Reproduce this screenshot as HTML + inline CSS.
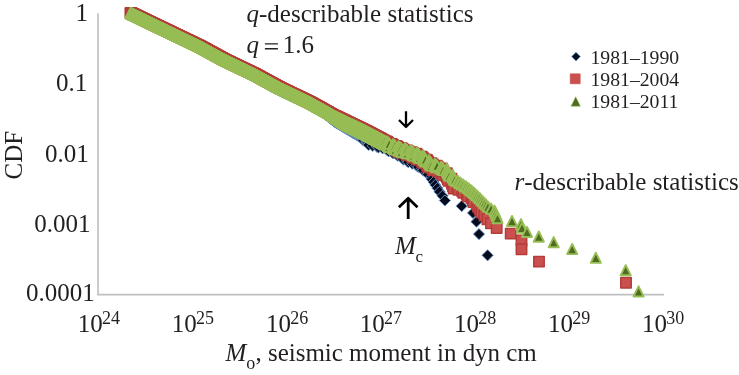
<!DOCTYPE html>
<html><head><meta charset="utf-8"><style>
html,body{margin:0;padding:0;background:#fff;}
svg{display:block;will-change:transform;}
text{font-family:"Liberation Serif",serif;fill:#231f20;}
</style></head><body>
<svg width="739" height="375" viewBox="0 0 739 375">
<path d="M98 13.2V294.6H664" fill="none" stroke="#bfbfbf" stroke-width="1.6"/>
<g fill="#050c1d" stroke="#6b95cf" stroke-width="0.9" stroke-linejoin="round"><path d="M130.5 7.4l5.6 5.6l-5.6 5.6l-5.6 -5.6z"/><path d="M130.8 7.5l5.6 5.6l-5.6 5.6l-5.6 -5.6z"/><path d="M131.1 7.7l5.6 5.6l-5.6 5.6l-5.6 -5.6z"/><path d="M131.3 7.8l5.6 5.6l-5.6 5.6l-5.6 -5.6z"/><path d="M131.6 7.9l5.6 5.6l-5.6 5.6l-5.6 -5.6z"/><path d="M131.9 8.1l5.6 5.6l-5.6 5.6l-5.6 -5.6z"/><path d="M132.2 8.2l5.6 5.6l-5.6 5.6l-5.6 -5.6z"/><path d="M132.5 8.3l5.6 5.6l-5.6 5.6l-5.6 -5.6z"/><path d="M132.7 8.5l5.6 5.6l-5.6 5.6l-5.6 -5.6z"/><path d="M133.0 8.6l5.6 5.6l-5.6 5.6l-5.6 -5.6z"/><path d="M133.3 8.8l5.6 5.6l-5.6 5.6l-5.6 -5.6z"/><path d="M133.6 8.9l5.6 5.6l-5.6 5.6l-5.6 -5.6z"/><path d="M133.9 9.0l5.6 5.6l-5.6 5.6l-5.6 -5.6z"/><path d="M134.2 9.2l5.6 5.6l-5.6 5.6l-5.6 -5.6z"/><path d="M134.5 9.3l5.6 5.6l-5.6 5.6l-5.6 -5.6z"/><path d="M134.8 9.5l5.6 5.6l-5.6 5.6l-5.6 -5.6z"/><path d="M135.0 9.6l5.6 5.6l-5.6 5.6l-5.6 -5.6z"/><path d="M135.3 9.7l5.6 5.6l-5.6 5.6l-5.6 -5.6z"/><path d="M135.6 9.8l5.6 5.6l-5.6 5.6l-5.6 -5.6z"/><path d="M135.9 10.0l5.6 5.6l-5.6 5.6l-5.6 -5.6z"/><path d="M136.1 10.1l5.6 5.6l-5.6 5.6l-5.6 -5.6z"/><path d="M136.4 10.2l5.6 5.6l-5.6 5.6l-5.6 -5.6z"/><path d="M136.7 10.4l5.6 5.6l-5.6 5.6l-5.6 -5.6z"/><path d="M137.0 10.5l5.6 5.6l-5.6 5.6l-5.6 -5.6z"/><path d="M137.3 10.6l5.6 5.6l-5.6 5.6l-5.6 -5.6z"/><path d="M137.5 10.8l5.6 5.6l-5.6 5.6l-5.6 -5.6z"/><path d="M137.8 10.9l5.6 5.6l-5.6 5.6l-5.6 -5.6z"/><path d="M138.1 11.1l5.6 5.6l-5.6 5.6l-5.6 -5.6z"/><path d="M138.4 11.2l5.6 5.6l-5.6 5.6l-5.6 -5.6z"/><path d="M138.7 11.3l5.6 5.6l-5.6 5.6l-5.6 -5.6z"/><path d="M139.0 11.5l5.6 5.6l-5.6 5.6l-5.6 -5.6z"/><path d="M139.3 11.6l5.6 5.6l-5.6 5.6l-5.6 -5.6z"/><path d="M139.5 11.8l5.6 5.6l-5.6 5.6l-5.6 -5.6z"/><path d="M139.8 11.9l5.6 5.6l-5.6 5.6l-5.6 -5.6z"/><path d="M140.1 12.0l5.6 5.6l-5.6 5.6l-5.6 -5.6z"/><path d="M140.4 12.2l5.6 5.6l-5.6 5.6l-5.6 -5.6z"/><path d="M140.7 12.3l5.6 5.6l-5.6 5.6l-5.6 -5.6z"/><path d="M141.0 12.4l5.6 5.6l-5.6 5.6l-5.6 -5.6z"/><path d="M141.3 12.6l5.6 5.6l-5.6 5.6l-5.6 -5.6z"/><path d="M141.5 12.7l5.6 5.6l-5.6 5.6l-5.6 -5.6z"/><path d="M141.8 12.8l5.6 5.6l-5.6 5.6l-5.6 -5.6z"/><path d="M142.1 13.0l5.6 5.6l-5.6 5.6l-5.6 -5.6z"/><path d="M142.4 13.1l5.6 5.6l-5.6 5.6l-5.6 -5.6z"/><path d="M142.6 13.2l5.6 5.6l-5.6 5.6l-5.6 -5.6z"/><path d="M142.9 13.4l5.6 5.6l-5.6 5.6l-5.6 -5.6z"/><path d="M143.2 13.5l5.6 5.6l-5.6 5.6l-5.6 -5.6z"/><path d="M143.5 13.6l5.6 5.6l-5.6 5.6l-5.6 -5.6z"/><path d="M143.8 13.8l5.6 5.6l-5.6 5.6l-5.6 -5.6z"/><path d="M144.0 13.9l5.6 5.6l-5.6 5.6l-5.6 -5.6z"/><path d="M144.3 14.1l5.6 5.6l-5.6 5.6l-5.6 -5.6z"/><path d="M144.6 14.2l5.6 5.6l-5.6 5.6l-5.6 -5.6z"/><path d="M144.9 14.3l5.6 5.6l-5.6 5.6l-5.6 -5.6z"/><path d="M145.2 14.5l5.6 5.6l-5.6 5.6l-5.6 -5.6z"/><path d="M145.5 14.6l5.6 5.6l-5.6 5.6l-5.6 -5.6z"/><path d="M145.8 14.7l5.6 5.6l-5.6 5.6l-5.6 -5.6z"/><path d="M146.1 14.9l5.6 5.6l-5.6 5.6l-5.6 -5.6z"/><path d="M146.4 15.0l5.6 5.6l-5.6 5.6l-5.6 -5.6z"/><path d="M146.7 15.2l5.6 5.6l-5.6 5.6l-5.6 -5.6z"/><path d="M147.0 15.3l5.6 5.6l-5.6 5.6l-5.6 -5.6z"/><path d="M147.3 15.5l5.6 5.6l-5.6 5.6l-5.6 -5.6z"/><path d="M147.5 15.6l5.6 5.6l-5.6 5.6l-5.6 -5.6z"/><path d="M147.8 15.7l5.6 5.6l-5.6 5.6l-5.6 -5.6z"/><path d="M148.1 15.9l5.6 5.6l-5.6 5.6l-5.6 -5.6z"/><path d="M148.4 16.0l5.6 5.6l-5.6 5.6l-5.6 -5.6z"/><path d="M148.6 16.1l5.6 5.6l-5.6 5.6l-5.6 -5.6z"/><path d="M148.9 16.3l5.6 5.6l-5.6 5.6l-5.6 -5.6z"/><path d="M149.2 16.4l5.6 5.6l-5.6 5.6l-5.6 -5.6z"/><path d="M149.5 16.5l5.6 5.6l-5.6 5.6l-5.6 -5.6z"/><path d="M149.8 16.7l5.6 5.6l-5.6 5.6l-5.6 -5.6z"/><path d="M150.0 16.8l5.6 5.6l-5.6 5.6l-5.6 -5.6z"/><path d="M150.3 16.9l5.6 5.6l-5.6 5.6l-5.6 -5.6z"/><path d="M150.6 17.1l5.6 5.6l-5.6 5.6l-5.6 -5.6z"/><path d="M150.9 17.2l5.6 5.6l-5.6 5.6l-5.6 -5.6z"/><path d="M151.2 17.3l5.6 5.6l-5.6 5.6l-5.6 -5.6z"/><path d="M151.5 17.5l5.6 5.6l-5.6 5.6l-5.6 -5.6z"/><path d="M151.7 17.6l5.6 5.6l-5.6 5.6l-5.6 -5.6z"/><path d="M152.0 17.8l5.6 5.6l-5.6 5.6l-5.6 -5.6z"/><path d="M152.3 17.9l5.6 5.6l-5.6 5.6l-5.6 -5.6z"/><path d="M152.6 18.0l5.6 5.6l-5.6 5.6l-5.6 -5.6z"/><path d="M152.9 18.2l5.6 5.6l-5.6 5.6l-5.6 -5.6z"/><path d="M153.2 18.3l5.6 5.6l-5.6 5.6l-5.6 -5.6z"/><path d="M153.5 18.5l5.6 5.6l-5.6 5.6l-5.6 -5.6z"/><path d="M153.8 18.6l5.6 5.6l-5.6 5.6l-5.6 -5.6z"/><path d="M154.1 18.7l5.6 5.6l-5.6 5.6l-5.6 -5.6z"/><path d="M154.4 18.9l5.6 5.6l-5.6 5.6l-5.6 -5.6z"/><path d="M154.7 19.0l5.6 5.6l-5.6 5.6l-5.6 -5.6z"/><path d="M155.0 19.2l5.6 5.6l-5.6 5.6l-5.6 -5.6z"/><path d="M155.3 19.3l5.6 5.6l-5.6 5.6l-5.6 -5.6z"/><path d="M155.5 19.4l5.6 5.6l-5.6 5.6l-5.6 -5.6z"/><path d="M155.8 19.6l5.6 5.6l-5.6 5.6l-5.6 -5.6z"/><path d="M156.1 19.7l5.6 5.6l-5.6 5.6l-5.6 -5.6z"/><path d="M156.4 19.8l5.6 5.6l-5.6 5.6l-5.6 -5.6z"/><path d="M156.6 20.0l5.6 5.6l-5.6 5.6l-5.6 -5.6z"/><path d="M156.9 20.1l5.6 5.6l-5.6 5.6l-5.6 -5.6z"/><path d="M157.2 20.2l5.6 5.6l-5.6 5.6l-5.6 -5.6z"/><path d="M157.5 20.4l5.6 5.6l-5.6 5.6l-5.6 -5.6z"/><path d="M157.8 20.5l5.6 5.6l-5.6 5.6l-5.6 -5.6z"/><path d="M158.0 20.6l5.6 5.6l-5.6 5.6l-5.6 -5.6z"/><path d="M158.3 20.8l5.6 5.6l-5.6 5.6l-5.6 -5.6z"/><path d="M158.6 20.9l5.6 5.6l-5.6 5.6l-5.6 -5.6z"/><path d="M158.9 21.1l5.6 5.6l-5.6 5.6l-5.6 -5.6z"/><path d="M159.2 21.2l5.6 5.6l-5.6 5.6l-5.6 -5.6z"/><path d="M159.5 21.3l5.6 5.6l-5.6 5.6l-5.6 -5.6z"/><path d="M159.8 21.5l5.6 5.6l-5.6 5.6l-5.6 -5.6z"/><path d="M160.1 21.6l5.6 5.6l-5.6 5.6l-5.6 -5.6z"/><path d="M160.4 21.8l5.6 5.6l-5.6 5.6l-5.6 -5.6z"/><path d="M160.6 21.9l5.6 5.6l-5.6 5.6l-5.6 -5.6z"/><path d="M160.9 22.0l5.6 5.6l-5.6 5.6l-5.6 -5.6z"/><path d="M161.2 22.2l5.6 5.6l-5.6 5.6l-5.6 -5.6z"/><path d="M161.5 22.3l5.6 5.6l-5.6 5.6l-5.6 -5.6z"/><path d="M161.8 22.5l5.6 5.6l-5.6 5.6l-5.6 -5.6z"/><path d="M162.1 22.6l5.6 5.6l-5.6 5.6l-5.6 -5.6z"/><path d="M162.4 22.8l5.6 5.6l-5.6 5.6l-5.6 -5.6z"/><path d="M162.7 22.9l5.6 5.6l-5.6 5.6l-5.6 -5.6z"/><path d="M163.1 23.1l5.6 5.6l-5.6 5.6l-5.6 -5.6z"/><path d="M163.4 23.2l5.6 5.6l-5.6 5.6l-5.6 -5.6z"/><path d="M163.7 23.4l5.6 5.6l-5.6 5.6l-5.6 -5.6z"/><path d="M163.9 23.5l5.6 5.6l-5.6 5.6l-5.6 -5.6z"/><path d="M164.2 23.6l5.6 5.6l-5.6 5.6l-5.6 -5.6z"/><path d="M164.5 23.7l5.6 5.6l-5.6 5.6l-5.6 -5.6z"/><path d="M164.8 23.9l5.6 5.6l-5.6 5.6l-5.6 -5.6z"/><path d="M165.0 24.0l5.6 5.6l-5.6 5.6l-5.6 -5.6z"/><path d="M165.3 24.1l5.6 5.6l-5.6 5.6l-5.6 -5.6z"/><path d="M165.6 24.3l5.6 5.6l-5.6 5.6l-5.6 -5.6z"/><path d="M165.9 24.4l5.6 5.6l-5.6 5.6l-5.6 -5.6z"/><path d="M166.2 24.6l5.6 5.6l-5.6 5.6l-5.6 -5.6z"/><path d="M166.4 24.7l5.6 5.6l-5.6 5.6l-5.6 -5.6z"/><path d="M166.7 24.8l5.6 5.6l-5.6 5.6l-5.6 -5.6z"/><path d="M167.0 25.0l5.6 5.6l-5.6 5.6l-5.6 -5.6z"/><path d="M167.3 25.1l5.6 5.6l-5.6 5.6l-5.6 -5.6z"/><path d="M167.6 25.2l5.6 5.6l-5.6 5.6l-5.6 -5.6z"/><path d="M167.9 25.4l5.6 5.6l-5.6 5.6l-5.6 -5.6z"/><path d="M168.2 25.5l5.6 5.6l-5.6 5.6l-5.6 -5.6z"/><path d="M168.5 25.7l5.6 5.6l-5.6 5.6l-5.6 -5.6z"/><path d="M168.7 25.8l5.6 5.6l-5.6 5.6l-5.6 -5.6z"/><path d="M169.0 25.9l5.6 5.6l-5.6 5.6l-5.6 -5.6z"/><path d="M169.3 26.1l5.6 5.6l-5.6 5.6l-5.6 -5.6z"/><path d="M169.6 26.2l5.6 5.6l-5.6 5.6l-5.6 -5.6z"/><path d="M169.9 26.4l5.6 5.6l-5.6 5.6l-5.6 -5.6z"/><path d="M170.2 26.5l5.6 5.6l-5.6 5.6l-5.6 -5.6z"/><path d="M170.5 26.7l5.6 5.6l-5.6 5.6l-5.6 -5.6z"/><path d="M170.8 26.8l5.6 5.6l-5.6 5.6l-5.6 -5.6z"/><path d="M171.1 26.9l5.6 5.6l-5.6 5.6l-5.6 -5.6z"/><path d="M171.4 27.1l5.6 5.6l-5.6 5.6l-5.6 -5.6z"/><path d="M171.8 27.2l5.6 5.6l-5.6 5.6l-5.6 -5.6z"/><path d="M172.1 27.4l5.6 5.6l-5.6 5.6l-5.6 -5.6z"/><path d="M172.4 27.5l5.6 5.6l-5.6 5.6l-5.6 -5.6z"/><path d="M172.7 27.7l5.6 5.6l-5.6 5.6l-5.6 -5.6z"/><path d="M173.0 27.8l5.6 5.6l-5.6 5.6l-5.6 -5.6z"/><path d="M173.3 28.0l5.6 5.6l-5.6 5.6l-5.6 -5.6z"/><path d="M173.6 28.1l5.6 5.6l-5.6 5.6l-5.6 -5.6z"/><path d="M173.9 28.3l5.6 5.6l-5.6 5.6l-5.6 -5.6z"/><path d="M174.1 28.4l5.6 5.6l-5.6 5.6l-5.6 -5.6z"/><path d="M174.4 28.5l5.6 5.6l-5.6 5.6l-5.6 -5.6z"/><path d="M174.7 28.6l5.6 5.6l-5.6 5.6l-5.6 -5.6z"/><path d="M175.0 28.8l5.6 5.6l-5.6 5.6l-5.6 -5.6z"/><path d="M175.2 28.9l5.6 5.6l-5.6 5.6l-5.6 -5.6z"/><path d="M175.5 29.0l5.6 5.6l-5.6 5.6l-5.6 -5.6z"/><path d="M175.8 29.2l5.6 5.6l-5.6 5.6l-5.6 -5.6z"/><path d="M176.1 29.3l5.6 5.6l-5.6 5.6l-5.6 -5.6z"/><path d="M176.4 29.5l5.6 5.6l-5.6 5.6l-5.6 -5.6z"/><path d="M176.7 29.6l5.6 5.6l-5.6 5.6l-5.6 -5.6z"/><path d="M176.9 29.7l5.6 5.6l-5.6 5.6l-5.6 -5.6z"/><path d="M177.2 29.9l5.6 5.6l-5.6 5.6l-5.6 -5.6z"/><path d="M177.5 30.0l5.6 5.6l-5.6 5.6l-5.6 -5.6z"/><path d="M177.8 30.1l5.6 5.6l-5.6 5.6l-5.6 -5.6z"/><path d="M178.1 30.3l5.6 5.6l-5.6 5.6l-5.6 -5.6z"/><path d="M178.4 30.4l5.6 5.6l-5.6 5.6l-5.6 -5.6z"/><path d="M178.7 30.6l5.6 5.6l-5.6 5.6l-5.6 -5.6z"/><path d="M179.0 30.7l5.6 5.6l-5.6 5.6l-5.6 -5.6z"/><path d="M179.3 30.9l5.6 5.6l-5.6 5.6l-5.6 -5.6z"/><path d="M179.6 31.0l5.6 5.6l-5.6 5.6l-5.6 -5.6z"/><path d="M179.9 31.1l5.6 5.6l-5.6 5.6l-5.6 -5.6z"/><path d="M180.2 31.3l5.6 5.6l-5.6 5.6l-5.6 -5.6z"/><path d="M180.5 31.4l5.6 5.6l-5.6 5.6l-5.6 -5.6z"/><path d="M180.8 31.6l5.6 5.6l-5.6 5.6l-5.6 -5.6z"/><path d="M181.1 31.7l5.6 5.6l-5.6 5.6l-5.6 -5.6z"/><path d="M181.4 31.9l5.6 5.6l-5.6 5.6l-5.6 -5.6z"/><path d="M181.7 32.0l5.6 5.6l-5.6 5.6l-5.6 -5.6z"/><path d="M182.0 32.2l5.6 5.6l-5.6 5.6l-5.6 -5.6z"/><path d="M182.3 32.3l5.6 5.6l-5.6 5.6l-5.6 -5.6z"/><path d="M182.6 32.5l5.6 5.6l-5.6 5.6l-5.6 -5.6z"/><path d="M182.9 32.6l5.6 5.6l-5.6 5.6l-5.6 -5.6z"/><path d="M183.3 32.8l5.6 5.6l-5.6 5.6l-5.6 -5.6z"/><path d="M183.6 32.9l5.6 5.6l-5.6 5.6l-5.6 -5.6z"/><path d="M183.9 33.1l5.6 5.6l-5.6 5.6l-5.6 -5.6z"/><path d="M184.2 33.2l5.6 5.6l-5.6 5.6l-5.6 -5.6z"/><path d="M184.5 33.4l5.6 5.6l-5.6 5.6l-5.6 -5.6z"/><path d="M184.9 33.5l5.6 5.6l-5.6 5.6l-5.6 -5.6z"/><path d="M185.1 33.7l5.6 5.6l-5.6 5.6l-5.6 -5.6z"/><path d="M185.4 33.8l5.6 5.6l-5.6 5.6l-5.6 -5.6z"/><path d="M185.7 33.9l5.6 5.6l-5.6 5.6l-5.6 -5.6z"/><path d="M186.0 34.1l5.6 5.6l-5.6 5.6l-5.6 -5.6z"/><path d="M186.2 34.2l5.6 5.6l-5.6 5.6l-5.6 -5.6z"/><path d="M186.5 34.3l5.6 5.6l-5.6 5.6l-5.6 -5.6z"/><path d="M186.8 34.5l5.6 5.6l-5.6 5.6l-5.6 -5.6z"/><path d="M187.1 34.6l5.6 5.6l-5.6 5.6l-5.6 -5.6z"/><path d="M187.3 34.7l5.6 5.6l-5.6 5.6l-5.6 -5.6z"/><path d="M187.6 34.9l5.6 5.6l-5.6 5.6l-5.6 -5.6z"/><path d="M187.9 35.0l5.6 5.6l-5.6 5.6l-5.6 -5.6z"/><path d="M188.2 35.1l5.6 5.6l-5.6 5.6l-5.6 -5.6z"/><path d="M188.5 35.3l5.6 5.6l-5.6 5.6l-5.6 -5.6z"/><path d="M188.8 35.4l5.6 5.6l-5.6 5.6l-5.6 -5.6z"/><path d="M189.1 35.5l5.6 5.6l-5.6 5.6l-5.6 -5.6z"/><path d="M189.3 35.7l5.6 5.6l-5.6 5.6l-5.6 -5.6z"/><path d="M189.6 35.8l5.6 5.6l-5.6 5.6l-5.6 -5.6z"/><path d="M189.9 36.0l5.6 5.6l-5.6 5.6l-5.6 -5.6z"/><path d="M190.2 36.1l5.6 5.6l-5.6 5.6l-5.6 -5.6z"/><path d="M190.5 36.2l5.6 5.6l-5.6 5.6l-5.6 -5.6z"/><path d="M190.8 36.4l5.6 5.6l-5.6 5.6l-5.6 -5.6z"/><path d="M191.1 36.5l5.6 5.6l-5.6 5.6l-5.6 -5.6z"/><path d="M191.4 36.7l5.6 5.6l-5.6 5.6l-5.6 -5.6z"/><path d="M191.7 36.8l5.6 5.6l-5.6 5.6l-5.6 -5.6z"/><path d="M192.0 37.0l5.6 5.6l-5.6 5.6l-5.6 -5.6z"/><path d="M192.3 37.1l5.6 5.6l-5.6 5.6l-5.6 -5.6z"/><path d="M192.6 37.3l5.6 5.6l-5.6 5.6l-5.6 -5.6z"/><path d="M192.9 37.4l5.6 5.6l-5.6 5.6l-5.6 -5.6z"/><path d="M193.2 37.6l5.6 5.6l-5.6 5.6l-5.6 -5.6z"/><path d="M193.5 37.7l5.6 5.6l-5.6 5.6l-5.6 -5.6z"/><path d="M193.9 37.9l5.6 5.6l-5.6 5.6l-5.6 -5.6z"/><path d="M194.2 38.0l5.6 5.6l-5.6 5.6l-5.6 -5.6z"/><path d="M194.5 38.2l5.6 5.6l-5.6 5.6l-5.6 -5.6z"/><path d="M194.8 38.3l5.6 5.6l-5.6 5.6l-5.6 -5.6z"/><path d="M195.1 38.5l5.6 5.6l-5.6 5.6l-5.6 -5.6z"/><path d="M195.4 38.6l5.6 5.6l-5.6 5.6l-5.6 -5.6z"/><path d="M195.8 38.8l5.6 5.6l-5.6 5.6l-5.6 -5.6z"/><path d="M196.1 38.9l5.6 5.6l-5.6 5.6l-5.6 -5.6z"/><path d="M196.4 39.1l5.6 5.6l-5.6 5.6l-5.6 -5.6z"/><path d="M196.7 39.2l5.6 5.6l-5.6 5.6l-5.6 -5.6z"/><path d="M197.1 39.4l5.6 5.6l-5.6 5.6l-5.6 -5.6z"/><path d="M197.4 39.5l5.6 5.6l-5.6 5.6l-5.6 -5.6z"/><path d="M197.7 39.7l5.6 5.6l-5.6 5.6l-5.6 -5.6z"/><path d="M198.0 39.9l5.6 5.6l-5.6 5.6l-5.6 -5.6z"/><path d="M198.4 40.0l5.6 5.6l-5.6 5.6l-5.6 -5.6z"/><path d="M198.7 40.2l5.6 5.6l-5.6 5.6l-5.6 -5.6z"/><path d="M199.1 40.3l5.6 5.6l-5.6 5.6l-5.6 -5.6z"/><path d="M199.3 40.5l5.6 5.6l-5.6 5.6l-5.6 -5.6z"/><path d="M199.6 40.6l5.6 5.6l-5.6 5.6l-5.6 -5.6z"/><path d="M199.9 40.7l5.6 5.6l-5.6 5.6l-5.6 -5.6z"/><path d="M200.2 40.9l5.6 5.6l-5.6 5.6l-5.6 -5.6z"/><path d="M200.5 41.1l5.6 5.6l-5.6 5.6l-5.6 -5.6z"/><path d="M200.8 41.2l5.6 5.6l-5.6 5.6l-5.6 -5.6z"/><path d="M201.1 41.4l5.6 5.6l-5.6 5.6l-5.6 -5.6z"/><path d="M201.4 41.6l5.6 5.6l-5.6 5.6l-5.6 -5.6z"/><path d="M201.7 41.7l5.6 5.6l-5.6 5.6l-5.6 -5.6z"/><path d="M202.0 41.9l5.6 5.6l-5.6 5.6l-5.6 -5.6z"/><path d="M202.4 42.1l5.6 5.6l-5.6 5.6l-5.6 -5.6z"/><path d="M202.7 42.3l5.6 5.6l-5.6 5.6l-5.6 -5.6z"/><path d="M203.0 42.4l5.6 5.6l-5.6 5.6l-5.6 -5.6z"/><path d="M203.3 42.6l5.6 5.6l-5.6 5.6l-5.6 -5.6z"/><path d="M203.6 42.8l5.6 5.6l-5.6 5.6l-5.6 -5.6z"/><path d="M204.0 43.0l5.6 5.6l-5.6 5.6l-5.6 -5.6z"/><path d="M204.3 43.1l5.6 5.6l-5.6 5.6l-5.6 -5.6z"/><path d="M204.6 43.3l5.6 5.6l-5.6 5.6l-5.6 -5.6z"/><path d="M204.9 43.5l5.6 5.6l-5.6 5.6l-5.6 -5.6z"/><path d="M205.1 43.6l5.6 5.6l-5.6 5.6l-5.6 -5.6z"/><path d="M205.4 43.7l5.6 5.6l-5.6 5.6l-5.6 -5.6z"/><path d="M205.7 43.9l5.6 5.6l-5.6 5.6l-5.6 -5.6z"/><path d="M205.9 44.0l5.6 5.6l-5.6 5.6l-5.6 -5.6z"/><path d="M206.2 44.2l5.6 5.6l-5.6 5.6l-5.6 -5.6z"/><path d="M206.5 44.3l5.6 5.6l-5.6 5.6l-5.6 -5.6z"/><path d="M206.8 44.5l5.6 5.6l-5.6 5.6l-5.6 -5.6z"/><path d="M207.0 44.6l5.6 5.6l-5.6 5.6l-5.6 -5.6z"/><path d="M207.3 44.8l5.6 5.6l-5.6 5.6l-5.6 -5.6z"/><path d="M207.6 44.9l5.6 5.6l-5.6 5.6l-5.6 -5.6z"/><path d="M207.9 45.1l5.6 5.6l-5.6 5.6l-5.6 -5.6z"/><path d="M208.1 45.2l5.6 5.6l-5.6 5.6l-5.6 -5.6z"/><path d="M208.4 45.4l5.6 5.6l-5.6 5.6l-5.6 -5.6z"/><path d="M208.7 45.5l5.6 5.6l-5.6 5.6l-5.6 -5.6z"/><path d="M209.0 45.7l5.6 5.6l-5.6 5.6l-5.6 -5.6z"/><path d="M209.3 45.8l5.6 5.6l-5.6 5.6l-5.6 -5.6z"/><path d="M209.6 46.0l5.6 5.6l-5.6 5.6l-5.6 -5.6z"/><path d="M209.8 46.2l5.6 5.6l-5.6 5.6l-5.6 -5.6z"/><path d="M210.1 46.3l5.6 5.6l-5.6 5.6l-5.6 -5.6z"/><path d="M210.4 46.5l5.6 5.6l-5.6 5.6l-5.6 -5.6z"/><path d="M210.7 46.6l5.6 5.6l-5.6 5.6l-5.6 -5.6z"/><path d="M211.0 46.8l5.6 5.6l-5.6 5.6l-5.6 -5.6z"/><path d="M211.3 46.9l5.6 5.6l-5.6 5.6l-5.6 -5.6z"/><path d="M211.6 47.1l5.6 5.6l-5.6 5.6l-5.6 -5.6z"/><path d="M211.9 47.3l5.6 5.6l-5.6 5.6l-5.6 -5.6z"/><path d="M212.2 47.4l5.6 5.6l-5.6 5.6l-5.6 -5.6z"/><path d="M212.5 47.6l5.6 5.6l-5.6 5.6l-5.6 -5.6z"/><path d="M212.8 47.8l5.6 5.6l-5.6 5.6l-5.6 -5.6z"/><path d="M213.1 47.9l5.6 5.6l-5.6 5.6l-5.6 -5.6z"/><path d="M213.4 48.1l5.6 5.6l-5.6 5.6l-5.6 -5.6z"/><path d="M213.7 48.3l5.6 5.6l-5.6 5.6l-5.6 -5.6z"/><path d="M214.0 48.4l5.6 5.6l-5.6 5.6l-5.6 -5.6z"/><path d="M214.3 48.6l5.6 5.6l-5.6 5.6l-5.6 -5.6z"/><path d="M214.7 48.8l5.6 5.6l-5.6 5.6l-5.6 -5.6z"/><path d="M215.0 48.9l5.6 5.6l-5.6 5.6l-5.6 -5.6z"/><path d="M215.3 49.1l5.6 5.6l-5.6 5.6l-5.6 -5.6z"/><path d="M215.6 49.3l5.6 5.6l-5.6 5.6l-5.6 -5.6z"/><path d="M215.9 49.5l5.6 5.6l-5.6 5.6l-5.6 -5.6z"/><path d="M216.3 49.6l5.6 5.6l-5.6 5.6l-5.6 -5.6z"/><path d="M216.6 49.8l5.6 5.6l-5.6 5.6l-5.6 -5.6z"/><path d="M216.9 50.0l5.6 5.6l-5.6 5.6l-5.6 -5.6z"/><path d="M217.2 50.2l5.6 5.6l-5.6 5.6l-5.6 -5.6z"/><path d="M217.6 50.4l5.6 5.6l-5.6 5.6l-5.6 -5.6z"/><path d="M217.9 50.5l5.6 5.6l-5.6 5.6l-5.6 -5.6z"/><path d="M218.2 50.7l5.6 5.6l-5.6 5.6l-5.6 -5.6z"/><path d="M218.6 50.9l5.6 5.6l-5.6 5.6l-5.6 -5.6z"/><path d="M218.9 51.1l5.6 5.6l-5.6 5.6l-5.6 -5.6z"/><path d="M219.2 51.3l5.6 5.6l-5.6 5.6l-5.6 -5.6z"/><path d="M219.6 51.5l5.6 5.6l-5.6 5.6l-5.6 -5.6z"/><path d="M219.9 51.6l5.6 5.6l-5.6 5.6l-5.6 -5.6z"/><path d="M220.3 51.8l5.6 5.6l-5.6 5.6l-5.6 -5.6z"/><path d="M220.6 52.0l5.6 5.6l-5.6 5.6l-5.6 -5.6z"/><path d="M221.0 52.2l5.6 5.6l-5.6 5.6l-5.6 -5.6z"/><path d="M221.2 52.4l5.6 5.6l-5.6 5.6l-5.6 -5.6z"/><path d="M221.5 52.5l5.6 5.6l-5.6 5.6l-5.6 -5.6z"/><path d="M221.8 52.6l5.6 5.6l-5.6 5.6l-5.6 -5.6z"/><path d="M222.0 52.8l5.6 5.6l-5.6 5.6l-5.6 -5.6z"/><path d="M222.3 52.9l5.6 5.6l-5.6 5.6l-5.6 -5.6z"/><path d="M222.6 53.1l5.6 5.6l-5.6 5.6l-5.6 -5.6z"/><path d="M222.9 53.2l5.6 5.6l-5.6 5.6l-5.6 -5.6z"/><path d="M223.1 53.4l5.6 5.6l-5.6 5.6l-5.6 -5.6z"/><path d="M223.4 53.5l5.6 5.6l-5.6 5.6l-5.6 -5.6z"/><path d="M223.7 53.7l5.6 5.6l-5.6 5.6l-5.6 -5.6z"/><path d="M224.0 53.8l5.6 5.6l-5.6 5.6l-5.6 -5.6z"/><path d="M224.2 54.0l5.6 5.6l-5.6 5.6l-5.6 -5.6z"/><path d="M224.5 54.1l5.6 5.6l-5.6 5.6l-5.6 -5.6z"/><path d="M224.8 54.3l5.6 5.6l-5.6 5.6l-5.6 -5.6z"/><path d="M225.1 54.4l5.6 5.6l-5.6 5.6l-5.6 -5.6z"/><path d="M225.4 54.6l5.6 5.6l-5.6 5.6l-5.6 -5.6z"/><path d="M225.7 54.8l5.6 5.6l-5.6 5.6l-5.6 -5.6z"/><path d="M226.1 54.9l5.6 5.6l-5.6 5.6l-5.6 -5.6z"/><path d="M226.4 55.1l5.6 5.6l-5.6 5.6l-5.6 -5.6z"/><path d="M226.7 55.2l5.6 5.6l-5.6 5.6l-5.6 -5.6z"/><path d="M227.0 55.4l5.6 5.6l-5.6 5.6l-5.6 -5.6z"/><path d="M227.4 55.5l5.6 5.6l-5.6 5.6l-5.6 -5.6z"/><path d="M227.7 55.7l5.6 5.6l-5.6 5.6l-5.6 -5.6z"/><path d="M228.1 55.9l5.6 5.6l-5.6 5.6l-5.6 -5.6z"/><path d="M228.4 56.0l5.6 5.6l-5.6 5.6l-5.6 -5.6z"/><path d="M228.7 56.2l5.6 5.6l-5.6 5.6l-5.6 -5.6z"/><path d="M229.1 56.4l5.6 5.6l-5.6 5.6l-5.6 -5.6z"/><path d="M229.4 56.5l5.6 5.6l-5.6 5.6l-5.6 -5.6z"/><path d="M229.8 56.7l5.6 5.6l-5.6 5.6l-5.6 -5.6z"/><path d="M230.1 56.9l5.6 5.6l-5.6 5.6l-5.6 -5.6z"/><path d="M230.5 57.0l5.6 5.6l-5.6 5.6l-5.6 -5.6z"/><path d="M230.8 57.2l5.6 5.6l-5.6 5.6l-5.6 -5.6z"/><path d="M231.2 57.4l5.6 5.6l-5.6 5.6l-5.6 -5.6z"/><path d="M231.5 57.5l5.6 5.6l-5.6 5.6l-5.6 -5.6z"/><path d="M231.9 57.7l5.6 5.6l-5.6 5.6l-5.6 -5.6z"/><path d="M232.2 57.9l5.6 5.6l-5.6 5.6l-5.6 -5.6z"/><path d="M232.6 58.0l5.6 5.6l-5.6 5.6l-5.6 -5.6z"/><path d="M233.0 58.2l5.6 5.6l-5.6 5.6l-5.6 -5.6z"/><path d="M233.3 58.4l5.6 5.6l-5.6 5.6l-5.6 -5.6z"/><path d="M233.7 58.6l5.6 5.6l-5.6 5.6l-5.6 -5.6z"/><path d="M234.1 58.7l5.6 5.6l-5.6 5.6l-5.6 -5.6z"/><path d="M234.4 58.9l5.6 5.6l-5.6 5.6l-5.6 -5.6z"/><path d="M234.8 59.1l5.6 5.6l-5.6 5.6l-5.6 -5.6z"/><path d="M235.2 59.3l5.6 5.6l-5.6 5.6l-5.6 -5.6z"/><path d="M235.6 59.5l5.6 5.6l-5.6 5.6l-5.6 -5.6z"/><path d="M235.9 59.6l5.6 5.6l-5.6 5.6l-5.6 -5.6z"/><path d="M236.3 59.8l5.6 5.6l-5.6 5.6l-5.6 -5.6z"/><path d="M236.7 60.0l5.6 5.6l-5.6 5.6l-5.6 -5.6z"/><path d="M237.1 60.2l5.6 5.6l-5.6 5.6l-5.6 -5.6z"/><path d="M237.5 60.4l5.6 5.6l-5.6 5.6l-5.6 -5.6z"/><path d="M237.9 60.6l5.6 5.6l-5.6 5.6l-5.6 -5.6z"/><path d="M238.3 60.8l5.6 5.6l-5.6 5.6l-5.6 -5.6z"/><path d="M238.7 61.0l5.6 5.6l-5.6 5.6l-5.6 -5.6z"/><path d="M239.1 61.1l5.6 5.6l-5.6 5.6l-5.6 -5.6z"/><path d="M239.5 61.3l5.6 5.6l-5.6 5.6l-5.6 -5.6z"/><path d="M239.9 61.5l5.6 5.6l-5.6 5.6l-5.6 -5.6z"/><path d="M240.1 61.7l5.6 5.6l-5.6 5.6l-5.6 -5.6z"/><path d="M240.4 61.8l5.6 5.6l-5.6 5.6l-5.6 -5.6z"/><path d="M240.7 61.9l5.6 5.6l-5.6 5.6l-5.6 -5.6z"/><path d="M241.0 62.1l5.6 5.6l-5.6 5.6l-5.6 -5.6z"/><path d="M241.2 62.2l5.6 5.6l-5.6 5.6l-5.6 -5.6z"/><path d="M241.5 62.3l5.6 5.6l-5.6 5.6l-5.6 -5.6z"/><path d="M241.8 62.5l5.6 5.6l-5.6 5.6l-5.6 -5.6z"/><path d="M242.1 62.6l5.6 5.6l-5.6 5.6l-5.6 -5.6z"/><path d="M242.4 62.7l5.6 5.6l-5.6 5.6l-5.6 -5.6z"/><path d="M242.6 62.9l5.6 5.6l-5.6 5.6l-5.6 -5.6z"/><path d="M242.9 63.0l5.6 5.6l-5.6 5.6l-5.6 -5.6z"/><path d="M243.2 63.1l5.6 5.6l-5.6 5.6l-5.6 -5.6z"/><path d="M243.5 63.3l5.6 5.6l-5.6 5.6l-5.6 -5.6z"/><path d="M243.8 63.4l5.6 5.6l-5.6 5.6l-5.6 -5.6z"/><path d="M244.1 63.5l5.6 5.6l-5.6 5.6l-5.6 -5.6z"/><path d="M244.3 63.7l5.6 5.6l-5.6 5.6l-5.6 -5.6z"/><path d="M244.6 63.8l5.6 5.6l-5.6 5.6l-5.6 -5.6z"/><path d="M244.9 64.0l5.6 5.6l-5.6 5.6l-5.6 -5.6z"/><path d="M245.2 64.1l5.6 5.6l-5.6 5.6l-5.6 -5.6z"/><path d="M245.5 64.3l5.6 5.6l-5.6 5.6l-5.6 -5.6z"/><path d="M245.8 64.4l5.6 5.6l-5.6 5.6l-5.6 -5.6z"/><path d="M246.1 64.5l5.6 5.6l-5.6 5.6l-5.6 -5.6z"/><path d="M246.4 64.7l5.6 5.6l-5.6 5.6l-5.6 -5.6z"/><path d="M246.7 64.8l5.6 5.6l-5.6 5.6l-5.6 -5.6z"/><path d="M247.0 65.0l5.6 5.6l-5.6 5.6l-5.6 -5.6z"/><path d="M247.3 65.1l5.6 5.6l-5.6 5.6l-5.6 -5.6z"/><path d="M247.6 65.3l5.6 5.6l-5.6 5.6l-5.6 -5.6z"/><path d="M247.9 65.4l5.6 5.6l-5.6 5.6l-5.6 -5.6z"/><path d="M248.2 65.6l5.6 5.6l-5.6 5.6l-5.6 -5.6z"/><path d="M248.5 65.7l5.6 5.6l-5.6 5.6l-5.6 -5.6z"/><path d="M248.9 65.9l5.6 5.6l-5.6 5.6l-5.6 -5.6z"/><path d="M249.2 66.0l5.6 5.6l-5.6 5.6l-5.6 -5.6z"/><path d="M249.5 66.2l5.6 5.6l-5.6 5.6l-5.6 -5.6z"/><path d="M249.8 66.3l5.6 5.6l-5.6 5.6l-5.6 -5.6z"/><path d="M250.1 66.5l5.6 5.6l-5.6 5.6l-5.6 -5.6z"/><path d="M250.4 66.6l5.6 5.6l-5.6 5.6l-5.6 -5.6z"/><path d="M250.8 66.8l5.6 5.6l-5.6 5.6l-5.6 -5.6z"/><path d="M251.1 66.9l5.6 5.6l-5.6 5.6l-5.6 -5.6z"/><path d="M251.4 67.1l5.6 5.6l-5.6 5.6l-5.6 -5.6z"/><path d="M251.7 67.2l5.6 5.6l-5.6 5.6l-5.6 -5.6z"/><path d="M252.1 67.4l5.6 5.6l-5.6 5.6l-5.6 -5.6z"/><path d="M252.4 67.5l5.6 5.6l-5.6 5.6l-5.6 -5.6z"/><path d="M252.7 67.7l5.6 5.6l-5.6 5.6l-5.6 -5.6z"/><path d="M253.0 67.9l5.6 5.6l-5.6 5.6l-5.6 -5.6z"/><path d="M253.4 68.0l5.6 5.6l-5.6 5.6l-5.6 -5.6z"/><path d="M253.7 68.2l5.6 5.6l-5.6 5.6l-5.6 -5.6z"/><path d="M254.0 68.3l5.6 5.6l-5.6 5.6l-5.6 -5.6z"/><path d="M254.4 68.5l5.6 5.6l-5.6 5.6l-5.6 -5.6z"/><path d="M254.7 68.7l5.6 5.6l-5.6 5.6l-5.6 -5.6z"/><path d="M255.1 68.8l5.6 5.6l-5.6 5.6l-5.6 -5.6z"/><path d="M255.4 69.0l5.6 5.6l-5.6 5.6l-5.6 -5.6z"/><path d="M255.7 69.2l5.6 5.6l-5.6 5.6l-5.6 -5.6z"/><path d="M256.0 69.3l5.6 5.6l-5.6 5.6l-5.6 -5.6z"/><path d="M256.3 69.5l5.6 5.6l-5.6 5.6l-5.6 -5.6z"/><path d="M256.6 69.7l5.6 5.6l-5.6 5.6l-5.6 -5.6z"/><path d="M256.9 69.8l5.6 5.6l-5.6 5.6l-5.6 -5.6z"/><path d="M257.2 70.0l5.6 5.6l-5.6 5.6l-5.6 -5.6z"/><path d="M257.5 70.2l5.6 5.6l-5.6 5.6l-5.6 -5.6z"/><path d="M257.9 70.4l5.6 5.6l-5.6 5.6l-5.6 -5.6z"/><path d="M258.2 70.5l5.6 5.6l-5.6 5.6l-5.6 -5.6z"/><path d="M258.5 70.7l5.6 5.6l-5.6 5.6l-5.6 -5.6z"/><path d="M258.8 70.9l5.6 5.6l-5.6 5.6l-5.6 -5.6z"/><path d="M259.1 71.1l5.6 5.6l-5.6 5.6l-5.6 -5.6z"/><path d="M259.5 71.2l5.6 5.6l-5.6 5.6l-5.6 -5.6z"/><path d="M259.8 71.4l5.6 5.6l-5.6 5.6l-5.6 -5.6z"/><path d="M260.1 71.6l5.6 5.6l-5.6 5.6l-5.6 -5.6z"/><path d="M260.5 71.8l5.6 5.6l-5.6 5.6l-5.6 -5.6z"/><path d="M260.8 72.0l5.6 5.6l-5.6 5.6l-5.6 -5.6z"/><path d="M261.1 72.1l5.6 5.6l-5.6 5.6l-5.6 -5.6z"/><path d="M261.5 72.3l5.6 5.6l-5.6 5.6l-5.6 -5.6z"/><path d="M261.8 72.5l5.6 5.6l-5.6 5.6l-5.6 -5.6z"/><path d="M262.2 72.7l5.6 5.6l-5.6 5.6l-5.6 -5.6z"/><path d="M262.5 72.9l5.6 5.6l-5.6 5.6l-5.6 -5.6z"/><path d="M262.8 73.1l5.6 5.6l-5.6 5.6l-5.6 -5.6z"/><path d="M263.2 73.3l5.6 5.6l-5.6 5.6l-5.6 -5.6z"/><path d="M263.5 73.5l5.6 5.6l-5.6 5.6l-5.6 -5.6z"/><path d="M263.9 73.6l5.6 5.6l-5.6 5.6l-5.6 -5.6z"/><path d="M264.3 73.8l5.6 5.6l-5.6 5.6l-5.6 -5.6z"/><path d="M264.6 74.0l5.6 5.6l-5.6 5.6l-5.6 -5.6z"/><path d="M265.0 74.2l5.6 5.6l-5.6 5.6l-5.6 -5.6z"/><path d="M265.3 74.4l5.6 5.6l-5.6 5.6l-5.6 -5.6z"/><path d="M265.7 74.6l5.6 5.6l-5.6 5.6l-5.6 -5.6z"/><path d="M266.1 74.8l5.6 5.6l-5.6 5.6l-5.6 -5.6z"/><path d="M266.4 75.0l5.6 5.6l-5.6 5.6l-5.6 -5.6z"/><path d="M266.8 75.2l5.6 5.6l-5.6 5.6l-5.6 -5.6z"/><path d="M267.2 75.4l5.6 5.6l-5.6 5.6l-5.6 -5.6z"/><path d="M267.6 75.6l5.6 5.6l-5.6 5.6l-5.6 -5.6z"/><path d="M267.9 75.8l5.6 5.6l-5.6 5.6l-5.6 -5.6z"/><path d="M268.3 76.0l5.6 5.6l-5.6 5.6l-5.6 -5.6z"/><path d="M268.7 76.3l5.6 5.6l-5.6 5.6l-5.6 -5.6z"/><path d="M269.1 76.5l5.6 5.6l-5.6 5.6l-5.6 -5.6z"/><path d="M269.5 76.7l5.6 5.6l-5.6 5.6l-5.6 -5.6z"/><path d="M269.9 76.9l5.6 5.6l-5.6 5.6l-5.6 -5.6z"/><path d="M270.3 77.1l5.6 5.6l-5.6 5.6l-5.6 -5.6z"/><path d="M270.7 77.3l5.6 5.6l-5.6 5.6l-5.6 -5.6z"/><path d="M271.1 77.5l5.6 5.6l-5.6 5.6l-5.6 -5.6z"/><path d="M271.5 77.8l5.6 5.6l-5.6 5.6l-5.6 -5.6z"/><path d="M271.9 78.0l5.6 5.6l-5.6 5.6l-5.6 -5.6z"/><path d="M272.3 78.2l5.6 5.6l-5.6 5.6l-5.6 -5.6z"/><path d="M272.7 78.4l5.6 5.6l-5.6 5.6l-5.6 -5.6z"/><path d="M273.1 78.7l5.6 5.6l-5.6 5.6l-5.6 -5.6z"/><path d="M273.5 78.9l5.6 5.6l-5.6 5.6l-5.6 -5.6z"/><path d="M274.0 79.1l5.6 5.6l-5.6 5.6l-5.6 -5.6z"/><path d="M274.4 79.4l5.6 5.6l-5.6 5.6l-5.6 -5.6z"/><path d="M274.8 79.6l5.6 5.6l-5.6 5.6l-5.6 -5.6z"/><path d="M275.3 79.8l5.6 5.6l-5.6 5.6l-5.6 -5.6z"/><path d="M275.7 80.1l5.6 5.6l-5.6 5.6l-5.6 -5.6z"/><path d="M276.1 80.3l5.6 5.6l-5.6 5.6l-5.6 -5.6z"/><path d="M276.6 80.5l5.6 5.6l-5.6 5.6l-5.6 -5.6z"/><path d="M277.0 80.8l5.6 5.6l-5.6 5.6l-5.6 -5.6z"/><path d="M277.5 81.0l5.6 5.6l-5.6 5.6l-5.6 -5.6z"/><path d="M277.9 81.3l5.6 5.6l-5.6 5.6l-5.6 -5.6z"/><path d="M278.4 81.5l5.6 5.6l-5.6 5.6l-5.6 -5.6z"/><path d="M278.8 81.8l5.6 5.6l-5.6 5.6l-5.6 -5.6z"/><path d="M279.3 82.0l5.6 5.6l-5.6 5.6l-5.6 -5.6z"/><path d="M279.8 82.3l5.6 5.6l-5.6 5.6l-5.6 -5.6z"/><path d="M280.3 82.5l5.6 5.6l-5.6 5.6l-5.6 -5.6z"/><path d="M280.8 82.8l5.6 5.6l-5.6 5.6l-5.6 -5.6z"/><path d="M281.1 82.9l5.6 5.6l-5.6 5.6l-5.6 -5.6z"/><path d="M281.4 83.1l5.6 5.6l-5.6 5.6l-5.6 -5.6z"/><path d="M281.6 83.2l5.6 5.6l-5.6 5.6l-5.6 -5.6z"/><path d="M281.9 83.3l5.6 5.6l-5.6 5.6l-5.6 -5.6z"/><path d="M282.2 83.5l5.6 5.6l-5.6 5.6l-5.6 -5.6z"/><path d="M282.5 83.6l5.6 5.6l-5.6 5.6l-5.6 -5.6z"/><path d="M282.7 83.7l5.6 5.6l-5.6 5.6l-5.6 -5.6z"/><path d="M283.0 83.9l5.6 5.6l-5.6 5.6l-5.6 -5.6z"/><path d="M283.3 84.0l5.6 5.6l-5.6 5.6l-5.6 -5.6z"/><path d="M283.6 84.1l5.6 5.6l-5.6 5.6l-5.6 -5.6z"/><path d="M283.9 84.3l5.6 5.6l-5.6 5.6l-5.6 -5.6z"/><path d="M284.2 84.4l5.6 5.6l-5.6 5.6l-5.6 -5.6z"/><path d="M284.4 84.5l5.6 5.6l-5.6 5.6l-5.6 -5.6z"/><path d="M284.7 84.7l5.6 5.6l-5.6 5.6l-5.6 -5.6z"/><path d="M285.0 84.8l5.6 5.6l-5.6 5.6l-5.6 -5.6z"/><path d="M285.3 85.0l5.6 5.6l-5.6 5.6l-5.6 -5.6z"/><path d="M285.6 85.1l5.6 5.6l-5.6 5.6l-5.6 -5.6z"/><path d="M285.9 85.2l5.6 5.6l-5.6 5.6l-5.6 -5.6z"/><path d="M286.2 85.4l5.6 5.6l-5.6 5.6l-5.6 -5.6z"/><path d="M286.5 85.5l5.6 5.6l-5.6 5.6l-5.6 -5.6z"/><path d="M286.8 85.7l5.6 5.6l-5.6 5.6l-5.6 -5.6z"/><path d="M287.1 85.8l5.6 5.6l-5.6 5.6l-5.6 -5.6z"/><path d="M287.4 85.9l5.6 5.6l-5.6 5.6l-5.6 -5.6z"/><path d="M287.7 86.1l5.6 5.6l-5.6 5.6l-5.6 -5.6z"/><path d="M288.0 86.2l5.6 5.6l-5.6 5.6l-5.6 -5.6z"/><path d="M288.3 86.4l5.6 5.6l-5.6 5.6l-5.6 -5.6z"/><path d="M288.6 86.5l5.6 5.6l-5.6 5.6l-5.6 -5.6z"/><path d="M288.9 86.7l5.6 5.6l-5.6 5.6l-5.6 -5.6z"/><path d="M289.2 86.8l5.6 5.6l-5.6 5.6l-5.6 -5.6z"/><path d="M289.5 87.0l5.6 5.6l-5.6 5.6l-5.6 -5.6z"/><path d="M289.8 87.1l5.6 5.6l-5.6 5.6l-5.6 -5.6z"/><path d="M290.1 87.3l5.6 5.6l-5.6 5.6l-5.6 -5.6z"/><path d="M290.5 87.4l5.6 5.6l-5.6 5.6l-5.6 -5.6z"/><path d="M290.8 87.6l5.6 5.6l-5.6 5.6l-5.6 -5.6z"/><path d="M291.1 87.7l5.6 5.6l-5.6 5.6l-5.6 -5.6z"/><path d="M291.4 87.9l5.6 5.6l-5.6 5.6l-5.6 -5.6z"/><path d="M291.7 88.0l5.6 5.6l-5.6 5.6l-5.6 -5.6z"/><path d="M292.1 88.2l5.6 5.6l-5.6 5.6l-5.6 -5.6z"/><path d="M292.4 88.3l5.6 5.6l-5.6 5.6l-5.6 -5.6z"/><path d="M292.7 88.5l5.6 5.6l-5.6 5.6l-5.6 -5.6z"/><path d="M293.0 88.7l5.6 5.6l-5.6 5.6l-5.6 -5.6z"/><path d="M293.4 88.8l5.6 5.6l-5.6 5.6l-5.6 -5.6z"/><path d="M293.7 89.0l5.6 5.6l-5.6 5.6l-5.6 -5.6z"/><path d="M294.0 89.1l5.6 5.6l-5.6 5.6l-5.6 -5.6z"/><path d="M294.4 89.3l5.6 5.6l-5.6 5.6l-5.6 -5.6z"/><path d="M294.7 89.5l5.6 5.6l-5.6 5.6l-5.6 -5.6z"/><path d="M295.0 89.6l5.6 5.6l-5.6 5.6l-5.6 -5.6z"/><path d="M295.4 89.8l5.6 5.6l-5.6 5.6l-5.6 -5.6z"/><path d="M295.7 89.9l5.6 5.6l-5.6 5.6l-5.6 -5.6z"/><path d="M296.1 90.1l5.6 5.6l-5.6 5.6l-5.6 -5.6z"/><path d="M296.4 90.3l5.6 5.6l-5.6 5.6l-5.6 -5.6z"/><path d="M296.8 90.4l5.6 5.6l-5.6 5.6l-5.6 -5.6z"/><path d="M297.1 90.6l5.6 5.6l-5.6 5.6l-5.6 -5.6z"/><path d="M297.5 90.8l5.6 5.6l-5.6 5.6l-5.6 -5.6z"/><path d="M297.8 90.9l5.6 5.6l-5.6 5.6l-5.6 -5.6z"/><path d="M298.2 91.1l5.6 5.6l-5.6 5.6l-5.6 -5.6z"/><path d="M298.5 91.3l5.6 5.6l-5.6 5.6l-5.6 -5.6z"/><path d="M298.9 91.5l5.6 5.6l-5.6 5.6l-5.6 -5.6z"/><path d="M299.2 91.6l5.6 5.6l-5.6 5.6l-5.6 -5.6z"/><path d="M299.6 91.8l5.6 5.6l-5.6 5.6l-5.6 -5.6z"/><path d="M300.0 92.0l5.6 5.6l-5.6 5.6l-5.6 -5.6z"/><path d="M300.3 92.2l5.6 5.6l-5.6 5.6l-5.6 -5.6z"/><path d="M300.7 92.3l5.6 5.6l-5.6 5.6l-5.6 -5.6z"/><path d="M301.1 92.5l5.6 5.6l-5.6 5.6l-5.6 -5.6z"/><path d="M301.4 92.7l5.6 5.6l-5.6 5.6l-5.6 -5.6z"/><path d="M301.8 92.9l5.6 5.6l-5.6 5.6l-5.6 -5.6z"/><path d="M302.2 93.1l5.6 5.6l-5.6 5.6l-5.6 -5.6z"/><path d="M302.6 93.2l5.6 5.6l-5.6 5.6l-5.6 -5.6z"/><path d="M303.0 93.4l5.6 5.6l-5.6 5.6l-5.6 -5.6z"/><path d="M303.3 93.6l5.6 5.6l-5.6 5.6l-5.6 -5.6z"/><path d="M303.7 93.8l5.6 5.6l-5.6 5.6l-5.6 -5.6z"/><path d="M304.1 94.0l5.6 5.6l-5.6 5.6l-5.6 -5.6z"/><path d="M304.5 94.2l5.6 5.6l-5.6 5.6l-5.6 -5.6z"/><path d="M304.9 94.4l5.6 5.6l-5.6 5.6l-5.6 -5.6z"/><path d="M305.3 94.5l5.6 5.6l-5.6 5.6l-5.6 -5.6z"/><path d="M305.7 94.7l5.6 5.6l-5.6 5.6l-5.6 -5.6z"/><path d="M306.1 94.9l5.6 5.6l-5.6 5.6l-5.6 -5.6z"/><path d="M306.5 95.1l5.6 5.6l-5.6 5.6l-5.6 -5.6z"/><path d="M306.9 95.3l5.6 5.6l-5.6 5.6l-5.6 -5.6z"/><path d="M307.3 95.5l5.6 5.6l-5.6 5.6l-5.6 -5.6z"/><path d="M307.7 95.7l5.6 5.6l-5.6 5.6l-5.6 -5.6z"/><path d="M308.2 95.9l5.6 5.6l-5.6 5.6l-5.6 -5.6z"/><path d="M308.6 96.1l5.6 5.6l-5.6 5.6l-5.6 -5.6z"/><path d="M309.0 96.3l5.6 5.6l-5.6 5.6l-5.6 -5.6z"/><path d="M309.4 96.5l5.6 5.6l-5.6 5.6l-5.6 -5.6z"/><path d="M309.8 96.7l5.6 5.6l-5.6 5.6l-5.6 -5.6z"/><path d="M310.2 96.9l5.6 5.6l-5.6 5.6l-5.6 -5.6z"/><path d="M310.5 97.1l5.6 5.6l-5.6 5.6l-5.6 -5.6z"/><path d="M310.8 97.3l5.6 5.6l-5.6 5.6l-5.6 -5.6z"/><path d="M311.1 97.6l5.6 5.6l-5.6 5.6l-5.6 -5.6z"/><path d="M311.3 97.8l5.6 5.6l-5.6 5.6l-5.6 -5.6z"/><path d="M311.6 98.0l5.6 5.6l-5.6 5.6l-5.6 -5.6z"/><path d="M311.9 98.2l5.6 5.6l-5.6 5.6l-5.6 -5.6z"/><path d="M312.2 98.4l5.6 5.6l-5.6 5.6l-5.6 -5.6z"/><path d="M312.5 98.6l5.6 5.6l-5.6 5.6l-5.6 -5.6z"/><path d="M312.8 98.8l5.6 5.6l-5.6 5.6l-5.6 -5.6z"/><path d="M313.2 99.1l5.6 5.6l-5.6 5.6l-5.6 -5.6z"/><path d="M313.5 99.3l5.6 5.6l-5.6 5.6l-5.6 -5.6z"/><path d="M313.8 99.5l5.6 5.6l-5.6 5.6l-5.6 -5.6z"/><path d="M314.1 99.7l5.6 5.6l-5.6 5.6l-5.6 -5.6z"/><path d="M314.4 100.0l5.6 5.6l-5.6 5.6l-5.6 -5.6z"/><path d="M314.7 100.2l5.6 5.6l-5.6 5.6l-5.6 -5.6z"/><path d="M315.0 100.4l5.6 5.6l-5.6 5.6l-5.6 -5.6z"/><path d="M315.3 100.7l5.6 5.6l-5.6 5.6l-5.6 -5.6z"/><path d="M315.6 100.9l5.6 5.6l-5.6 5.6l-5.6 -5.6z"/><path d="M315.9 101.1l5.6 5.6l-5.6 5.6l-5.6 -5.6z"/><path d="M316.2 101.4l5.6 5.6l-5.6 5.6l-5.6 -5.6z"/><path d="M316.5 101.6l5.6 5.6l-5.6 5.6l-5.6 -5.6z"/><path d="M316.8 101.9l5.6 5.6l-5.6 5.6l-5.6 -5.6z"/><path d="M317.1 102.1l5.6 5.6l-5.6 5.6l-5.6 -5.6z"/><path d="M317.4 102.3l5.6 5.6l-5.6 5.6l-5.6 -5.6z"/><path d="M317.7 102.6l5.6 5.6l-5.6 5.6l-5.6 -5.6z"/><path d="M318.0 102.8l5.6 5.6l-5.6 5.6l-5.6 -5.6z"/><path d="M318.4 103.1l5.6 5.6l-5.6 5.6l-5.6 -5.6z"/><path d="M318.7 103.3l5.6 5.6l-5.6 5.6l-5.6 -5.6z"/><path d="M319.0 103.6l5.6 5.6l-5.6 5.6l-5.6 -5.6z"/><path d="M319.3 103.9l5.6 5.6l-5.6 5.6l-5.6 -5.6z"/><path d="M319.6 104.1l5.6 5.6l-5.6 5.6l-5.6 -5.6z"/><path d="M320.0 104.4l5.6 5.6l-5.6 5.6l-5.6 -5.6z"/><path d="M320.3 104.6l5.6 5.6l-5.6 5.6l-5.6 -5.6z"/><path d="M320.6 104.9l5.6 5.6l-5.6 5.6l-5.6 -5.6z"/><path d="M321.0 105.2l5.6 5.6l-5.6 5.6l-5.6 -5.6z"/><path d="M321.3 105.5l5.6 5.6l-5.6 5.6l-5.6 -5.6z"/><path d="M321.7 105.7l5.6 5.6l-5.6 5.6l-5.6 -5.6z"/><path d="M322.0 106.0l5.6 5.6l-5.6 5.6l-5.6 -5.6z"/><path d="M322.4 106.3l5.6 5.6l-5.6 5.6l-5.6 -5.6z"/><path d="M322.7 106.6l5.6 5.6l-5.6 5.6l-5.6 -5.6z"/><path d="M323.1 106.8l5.6 5.6l-5.6 5.6l-5.6 -5.6z"/><path d="M323.4 107.1l5.6 5.6l-5.6 5.6l-5.6 -5.6z"/><path d="M323.8 107.4l5.6 5.6l-5.6 5.6l-5.6 -5.6z"/><path d="M324.1 107.7l5.6 5.6l-5.6 5.6l-5.6 -5.6z"/><path d="M324.5 108.0l5.6 5.6l-5.6 5.6l-5.6 -5.6z"/><path d="M324.9 108.3l5.6 5.6l-5.6 5.6l-5.6 -5.6z"/><path d="M325.3 108.6l5.6 5.6l-5.6 5.6l-5.6 -5.6z"/><path d="M325.6 108.9l5.6 5.6l-5.6 5.6l-5.6 -5.6z"/><path d="M326.0 109.2l5.6 5.6l-5.6 5.6l-5.6 -5.6z"/><path d="M326.4 109.5l5.6 5.6l-5.6 5.6l-5.6 -5.6z"/><path d="M326.8 109.8l5.6 5.6l-5.6 5.6l-5.6 -5.6z"/><path d="M327.2 110.2l5.6 5.6l-5.6 5.6l-5.6 -5.6z"/><path d="M327.6 110.5l5.6 5.6l-5.6 5.6l-5.6 -5.6z"/><path d="M328.0 110.8l5.6 5.6l-5.6 5.6l-5.6 -5.6z"/><path d="M328.4 111.1l5.6 5.6l-5.6 5.6l-5.6 -5.6z"/><path d="M328.8 111.5l5.6 5.6l-5.6 5.6l-5.6 -5.6z"/><path d="M329.3 111.8l5.6 5.6l-5.6 5.6l-5.6 -5.6z"/><path d="M329.7 112.1l5.6 5.6l-5.6 5.6l-5.6 -5.6z"/><path d="M330.1 112.5l5.6 5.6l-5.6 5.6l-5.6 -5.6z"/><path d="M330.5 112.8l5.6 5.6l-5.6 5.6l-5.6 -5.6z"/><path d="M331.0 113.2l5.6 5.6l-5.6 5.6l-5.6 -5.6z"/><path d="M331.4 113.5l5.6 5.6l-5.6 5.6l-5.6 -5.6z"/><path d="M331.9 113.9l5.6 5.6l-5.6 5.6l-5.6 -5.6z"/><path d="M332.3 114.2l5.6 5.6l-5.6 5.6l-5.6 -5.6z"/><path d="M332.8 114.6l5.6 5.6l-5.6 5.6l-5.6 -5.6z"/><path d="M333.2 115.0l5.6 5.6l-5.6 5.6l-5.6 -5.6z"/><path d="M333.7 115.4l5.6 5.6l-5.6 5.6l-5.6 -5.6z"/><path d="M334.2 115.7l5.6 5.6l-5.6 5.6l-5.6 -5.6z"/><path d="M334.7 116.1l5.6 5.6l-5.6 5.6l-5.6 -5.6z"/><path d="M335.2 116.5l5.6 5.6l-5.6 5.6l-5.6 -5.6z"/><path d="M335.8 116.9l5.6 5.6l-5.6 5.6l-5.6 -5.6z"/><path d="M336.5 117.3l5.6 5.6l-5.6 5.6l-5.6 -5.6z"/><path d="M337.2 117.7l5.6 5.6l-5.6 5.6l-5.6 -5.6z"/><path d="M337.9 118.1l5.6 5.6l-5.6 5.6l-5.6 -5.6z"/><path d="M338.6 118.5l5.6 5.6l-5.6 5.6l-5.6 -5.6z"/><path d="M339.3 119.0l5.6 5.6l-5.6 5.6l-5.6 -5.6z"/><path d="M340.0 119.4l5.6 5.6l-5.6 5.6l-5.6 -5.6z"/><path d="M340.7 119.8l5.6 5.6l-5.6 5.6l-5.6 -5.6z"/><path d="M341.4 120.3l5.6 5.6l-5.6 5.6l-5.6 -5.6z"/><path d="M342.2 120.7l5.6 5.6l-5.6 5.6l-5.6 -5.6z"/><path d="M342.9 121.2l5.6 5.6l-5.6 5.6l-5.6 -5.6z"/><path d="M343.7 121.6l5.6 5.6l-5.6 5.6l-5.6 -5.6z"/><path d="M344.5 122.1l5.6 5.6l-5.6 5.6l-5.6 -5.6z"/><path d="M345.3 122.6l5.6 5.6l-5.6 5.6l-5.6 -5.6z"/><path d="M346.1 123.0l5.6 5.6l-5.6 5.6l-5.6 -5.6z"/><path d="M346.9 123.5l5.6 5.6l-5.6 5.6l-5.6 -5.6z"/><path d="M347.7 124.0l5.6 5.6l-5.6 5.6l-5.6 -5.6z"/><path d="M348.6 124.5l5.6 5.6l-5.6 5.6l-5.6 -5.6z"/><path d="M349.4 125.0l5.6 5.6l-5.6 5.6l-5.6 -5.6z"/><path d="M350.3 125.6l5.6 5.6l-5.6 5.6l-5.6 -5.6z"/><path d="M351.2 126.1l5.6 5.6l-5.6 5.6l-5.6 -5.6z"/><path d="M352.1 126.6l5.6 5.6l-5.6 5.6l-5.6 -5.6z"/><path d="M353.0 127.2l5.6 5.6l-5.6 5.6l-5.6 -5.6z"/><path d="M353.9 127.8l5.6 5.6l-5.6 5.6l-5.6 -5.6z"/><path d="M354.9 128.3l5.6 5.6l-5.6 5.6l-5.6 -5.6z"/><path d="M355.9 128.9l5.6 5.6l-5.6 5.6l-5.6 -5.6z"/><path d="M356.8 129.5l5.6 5.6l-5.6 5.6l-5.6 -5.6z"/><path d="M357.8 130.1l5.6 5.6l-5.6 5.6l-5.6 -5.6z"/><path d="M358.9 130.7l5.6 5.6l-5.6 5.6l-5.6 -5.6z"/><path d="M359.9 131.4l5.6 5.6l-5.6 5.6l-5.6 -5.6z"/><path d="M361.6 132.0l5.6 5.6l-5.6 5.6l-5.6 -5.6z"/><path d="M362.0 132.7l5.6 5.6l-5.6 5.6l-5.6 -5.6z"/><path d="M362.5 133.3l5.6 5.6l-5.6 5.6l-5.6 -5.6z"/><path d="M362.9 134.0l5.6 5.6l-5.6 5.6l-5.6 -5.6z"/><path d="M363.3 134.7l5.6 5.6l-5.6 5.6l-5.6 -5.6z"/><path d="M366.3 135.4l5.6 5.6l-5.6 5.6l-5.6 -5.6z"/><path d="M366.7 136.2l5.6 5.6l-5.6 5.6l-5.6 -5.6z"/><path d="M367.2 136.9l5.6 5.6l-5.6 5.6l-5.6 -5.6z"/><path d="M367.7 137.7l5.6 5.6l-5.6 5.6l-5.6 -5.6z"/><path d="M368.2 138.5l5.6 5.6l-5.6 5.6l-5.6 -5.6z"/><path d="M368.7 139.3l5.6 5.6l-5.6 5.6l-5.6 -5.6z"/><path d="M372.7 140.2l5.6 5.6l-5.6 5.6l-5.6 -5.6z"/><path d="M376.8 141.0l5.6 5.6l-5.6 5.6l-5.6 -5.6z"/><path d="M378.4 141.9l5.6 5.6l-5.6 5.6l-5.6 -5.6z"/><path d="M382.7 142.8l5.6 5.6l-5.6 5.6l-5.6 -5.6z"/><path d="M386.6 143.8l5.6 5.6l-5.6 5.6l-5.6 -5.6z"/><path d="M387.6 144.7l5.6 5.6l-5.6 5.6l-5.6 -5.6z"/><path d="M388.6 145.7l5.6 5.6l-5.6 5.6l-5.6 -5.6z"/><path d="M392.1 146.8l5.6 5.6l-5.6 5.6l-5.6 -5.6z"/><path d="M393.2 147.8l5.6 5.6l-5.6 5.6l-5.6 -5.6z"/><path d="M396.7 148.9l5.6 5.6l-5.6 5.6l-5.6 -5.6z"/><path d="M397.7 150.1l5.6 5.6l-5.6 5.6l-5.6 -5.6z"/><path d="M401.3 151.3l5.6 5.6l-5.6 5.6l-5.6 -5.6z"/><path d="M402.3 152.6l5.6 5.6l-5.6 5.6l-5.6 -5.6z"/><path d="M403.4 153.9l5.6 5.6l-5.6 5.6l-5.6 -5.6z"/><path d="M407.1 155.2l5.6 5.6l-5.6 5.6l-5.6 -5.6z"/><path d="M408.3 156.6l5.6 5.6l-5.6 5.6l-5.6 -5.6z"/><path d="M412.3 158.1l5.6 5.6l-5.6 5.6l-5.6 -5.6z"/><path d="M416.4 159.7l5.6 5.6l-5.6 5.6l-5.6 -5.6z"/><path d="M418.2 161.3l5.6 5.6l-5.6 5.6l-5.6 -5.6z"/><path d="M422.1 163.1l5.6 5.6l-5.6 5.6l-5.6 -5.6z"/><path d="M423.2 164.9l5.6 5.6l-5.6 5.6l-5.6 -5.6z"/><path d="M426.8 166.9l5.6 5.6l-5.6 5.6l-5.6 -5.6z"/><path d="M428.0 169.0l5.6 5.6l-5.6 5.6l-5.6 -5.6z"/><path d="M431.4 171.3l5.6 5.6l-5.6 5.6l-5.6 -5.6z"/><path d="M431.8 173.7l5.6 5.6l-5.6 5.6l-5.6 -5.6z"/><path d="M433.6 176.4l5.6 5.6l-5.6 5.6l-5.6 -5.6z"/><path d="M435.4 179.3l5.6 5.6l-5.6 5.6l-5.6 -5.6z"/><path d="M437.4 182.5l5.6 5.6l-5.6 5.6l-5.6 -5.6z"/><path d="M439.5 186.1l5.6 5.6l-5.6 5.6l-5.6 -5.6z"/><path d="M442.5 190.2l5.6 5.6l-5.6 5.6l-5.6 -5.6z"/><path d="M444.9 194.9l5.6 5.6l-5.6 5.6l-5.6 -5.6z"/><path d="M461.7 200.5l5.6 5.6l-5.6 5.6l-5.6 -5.6z"/><path d="M473.0 207.3l5.6 5.6l-5.6 5.6l-5.6 -5.6z"/><path d="M476.5 216.1l5.6 5.6l-5.6 5.6l-5.6 -5.6z"/><path d="M479.0 228.5l5.6 5.6l-5.6 5.6l-5.6 -5.6z"/><path d="M487.6 249.7l5.6 5.6l-5.6 5.6l-5.6 -5.6z"/></g>
<g fill="#c9504e" stroke="#b43c39" stroke-width="1.5" stroke-linejoin="round"><path d="M125.3 7.8h10.4v10.4h-10.4z"/><path d="M125.6 7.9h10.4v10.4h-10.4z"/><path d="M125.8 8.1h10.4v10.4h-10.4z"/><path d="M126.1 8.2h10.4v10.4h-10.4z"/><path d="M126.4 8.3h10.4v10.4h-10.4z"/><path d="M126.7 8.5h10.4v10.4h-10.4z"/><path d="M126.9 8.6h10.4v10.4h-10.4z"/><path d="M127.2 8.7h10.4v10.4h-10.4z"/><path d="M127.5 8.9h10.4v10.4h-10.4z"/><path d="M127.8 9.0h10.4v10.4h-10.4z"/><path d="M128.0 9.1h10.4v10.4h-10.4z"/><path d="M128.3 9.3h10.4v10.4h-10.4z"/><path d="M128.6 9.4h10.4v10.4h-10.4z"/><path d="M128.9 9.5h10.4v10.4h-10.4z"/><path d="M129.1 9.6h10.4v10.4h-10.4z"/><path d="M129.4 9.8h10.4v10.4h-10.4z"/><path d="M129.7 9.9h10.4v10.4h-10.4z"/><path d="M130.0 10.0h10.4v10.4h-10.4z"/><path d="M130.2 10.2h10.4v10.4h-10.4z"/><path d="M130.5 10.3h10.4v10.4h-10.4z"/><path d="M130.8 10.4h10.4v10.4h-10.4z"/><path d="M131.1 10.6h10.4v10.4h-10.4z"/><path d="M131.3 10.7h10.4v10.4h-10.4z"/><path d="M131.6 10.8h10.4v10.4h-10.4z"/><path d="M131.9 11.0h10.4v10.4h-10.4z"/><path d="M132.2 11.1h10.4v10.4h-10.4z"/><path d="M132.5 11.2h10.4v10.4h-10.4z"/><path d="M132.7 11.4h10.4v10.4h-10.4z"/><path d="M133.0 11.5h10.4v10.4h-10.4z"/><path d="M133.3 11.6h10.4v10.4h-10.4z"/><path d="M133.6 11.8h10.4v10.4h-10.4z"/><path d="M133.8 11.9h10.4v10.4h-10.4z"/><path d="M134.1 12.0h10.4v10.4h-10.4z"/><path d="M134.4 12.2h10.4v10.4h-10.4z"/><path d="M134.7 12.3h10.4v10.4h-10.4z"/><path d="M134.9 12.4h10.4v10.4h-10.4z"/><path d="M135.2 12.6h10.4v10.4h-10.4z"/><path d="M135.5 12.7h10.4v10.4h-10.4z"/><path d="M135.8 12.8h10.4v10.4h-10.4z"/><path d="M136.0 13.0h10.4v10.4h-10.4z"/><path d="M136.3 13.1h10.4v10.4h-10.4z"/><path d="M136.6 13.2h10.4v10.4h-10.4z"/><path d="M136.9 13.4h10.4v10.4h-10.4z"/><path d="M137.2 13.5h10.4v10.4h-10.4z"/><path d="M137.4 13.6h10.4v10.4h-10.4z"/><path d="M137.7 13.8h10.4v10.4h-10.4z"/><path d="M138.0 13.9h10.4v10.4h-10.4z"/><path d="M138.2 14.0h10.4v10.4h-10.4z"/><path d="M138.5 14.2h10.4v10.4h-10.4z"/><path d="M138.8 14.3h10.4v10.4h-10.4z"/><path d="M139.1 14.4h10.4v10.4h-10.4z"/><path d="M139.4 14.6h10.4v10.4h-10.4z"/><path d="M139.6 14.7h10.4v10.4h-10.4z"/><path d="M139.9 14.8h10.4v10.4h-10.4z"/><path d="M140.2 15.0h10.4v10.4h-10.4z"/><path d="M140.5 15.1h10.4v10.4h-10.4z"/><path d="M140.7 15.2h10.4v10.4h-10.4z"/><path d="M141.0 15.4h10.4v10.4h-10.4z"/><path d="M141.3 15.5h10.4v10.4h-10.4z"/><path d="M141.6 15.6h10.4v10.4h-10.4z"/><path d="M141.8 15.8h10.4v10.4h-10.4z"/><path d="M142.1 15.9h10.4v10.4h-10.4z"/><path d="M142.4 16.0h10.4v10.4h-10.4z"/><path d="M142.7 16.2h10.4v10.4h-10.4z"/><path d="M143.0 16.3h10.4v10.4h-10.4z"/><path d="M143.2 16.4h10.4v10.4h-10.4z"/><path d="M143.5 16.6h10.4v10.4h-10.4z"/><path d="M143.8 16.7h10.4v10.4h-10.4z"/><path d="M144.0 16.8h10.4v10.4h-10.4z"/><path d="M144.3 17.0h10.4v10.4h-10.4z"/><path d="M144.6 17.1h10.4v10.4h-10.4z"/><path d="M144.9 17.2h10.4v10.4h-10.4z"/><path d="M145.2 17.4h10.4v10.4h-10.4z"/><path d="M145.4 17.5h10.4v10.4h-10.4z"/><path d="M145.7 17.6h10.4v10.4h-10.4z"/><path d="M146.0 17.8h10.4v10.4h-10.4z"/><path d="M146.3 17.9h10.4v10.4h-10.4z"/><path d="M146.5 18.0h10.4v10.4h-10.4z"/><path d="M146.8 18.2h10.4v10.4h-10.4z"/><path d="M147.1 18.3h10.4v10.4h-10.4z"/><path d="M147.4 18.4h10.4v10.4h-10.4z"/><path d="M147.7 18.6h10.4v10.4h-10.4z"/><path d="M147.9 18.7h10.4v10.4h-10.4z"/><path d="M148.2 18.8h10.4v10.4h-10.4z"/><path d="M148.5 19.0h10.4v10.4h-10.4z"/><path d="M148.8 19.1h10.4v10.4h-10.4z"/><path d="M149.0 19.2h10.4v10.4h-10.4z"/><path d="M149.3 19.4h10.4v10.4h-10.4z"/><path d="M149.6 19.5h10.4v10.4h-10.4z"/><path d="M149.9 19.6h10.4v10.4h-10.4z"/><path d="M150.1 19.8h10.4v10.4h-10.4z"/><path d="M150.4 19.9h10.4v10.4h-10.4z"/><path d="M150.7 20.0h10.4v10.4h-10.4z"/><path d="M151.0 20.2h10.4v10.4h-10.4z"/><path d="M151.3 20.3h10.4v10.4h-10.4z"/><path d="M151.5 20.4h10.4v10.4h-10.4z"/><path d="M151.8 20.6h10.4v10.4h-10.4z"/><path d="M152.1 20.7h10.4v10.4h-10.4z"/><path d="M152.4 20.8h10.4v10.4h-10.4z"/><path d="M152.7 21.0h10.4v10.4h-10.4z"/><path d="M152.9 21.1h10.4v10.4h-10.4z"/><path d="M153.2 21.2h10.4v10.4h-10.4z"/><path d="M153.5 21.4h10.4v10.4h-10.4z"/><path d="M153.8 21.5h10.4v10.4h-10.4z"/><path d="M154.0 21.6h10.4v10.4h-10.4z"/><path d="M154.3 21.8h10.4v10.4h-10.4z"/><path d="M154.6 21.9h10.4v10.4h-10.4z"/><path d="M154.9 22.0h10.4v10.4h-10.4z"/><path d="M155.2 22.2h10.4v10.4h-10.4z"/><path d="M155.4 22.3h10.4v10.4h-10.4z"/><path d="M155.7 22.4h10.4v10.4h-10.4z"/><path d="M156.0 22.6h10.4v10.4h-10.4z"/><path d="M156.3 22.7h10.4v10.4h-10.4z"/><path d="M156.5 22.8h10.4v10.4h-10.4z"/><path d="M156.8 23.0h10.4v10.4h-10.4z"/><path d="M157.1 23.1h10.4v10.4h-10.4z"/><path d="M157.4 23.2h10.4v10.4h-10.4z"/><path d="M157.6 23.4h10.4v10.4h-10.4z"/><path d="M157.9 23.5h10.4v10.4h-10.4z"/><path d="M158.2 23.6h10.4v10.4h-10.4z"/><path d="M158.5 23.8h10.4v10.4h-10.4z"/><path d="M158.8 23.9h10.4v10.4h-10.4z"/><path d="M159.1 24.0h10.4v10.4h-10.4z"/><path d="M159.3 24.2h10.4v10.4h-10.4z"/><path d="M159.6 24.3h10.4v10.4h-10.4z"/><path d="M159.9 24.4h10.4v10.4h-10.4z"/><path d="M160.2 24.6h10.4v10.4h-10.4z"/><path d="M160.4 24.7h10.4v10.4h-10.4z"/><path d="M160.7 24.8h10.4v10.4h-10.4z"/><path d="M161.0 25.0h10.4v10.4h-10.4z"/><path d="M161.3 25.1h10.4v10.4h-10.4z"/><path d="M161.5 25.2h10.4v10.4h-10.4z"/><path d="M161.8 25.4h10.4v10.4h-10.4z"/><path d="M162.1 25.5h10.4v10.4h-10.4z"/><path d="M162.4 25.6h10.4v10.4h-10.4z"/><path d="M162.7 25.8h10.4v10.4h-10.4z"/><path d="M163.0 25.9h10.4v10.4h-10.4z"/><path d="M163.2 26.0h10.4v10.4h-10.4z"/><path d="M163.5 26.2h10.4v10.4h-10.4z"/><path d="M163.8 26.3h10.4v10.4h-10.4z"/><path d="M164.1 26.4h10.4v10.4h-10.4z"/><path d="M164.3 26.6h10.4v10.4h-10.4z"/><path d="M164.6 26.7h10.4v10.4h-10.4z"/><path d="M164.9 26.8h10.4v10.4h-10.4z"/><path d="M165.2 27.0h10.4v10.4h-10.4z"/><path d="M165.4 27.1h10.4v10.4h-10.4z"/><path d="M165.7 27.2h10.4v10.4h-10.4z"/><path d="M166.0 27.4h10.4v10.4h-10.4z"/><path d="M166.3 27.5h10.4v10.4h-10.4z"/><path d="M166.6 27.7h10.4v10.4h-10.4z"/><path d="M166.9 27.8h10.4v10.4h-10.4z"/><path d="M167.1 27.9h10.4v10.4h-10.4z"/><path d="M167.4 28.1h10.4v10.4h-10.4z"/><path d="M167.7 28.2h10.4v10.4h-10.4z"/><path d="M168.0 28.3h10.4v10.4h-10.4z"/><path d="M168.2 28.4h10.4v10.4h-10.4z"/><path d="M168.5 28.6h10.4v10.4h-10.4z"/><path d="M168.8 28.7h10.4v10.4h-10.4z"/><path d="M169.1 28.8h10.4v10.4h-10.4z"/><path d="M169.3 29.0h10.4v10.4h-10.4z"/><path d="M169.6 29.1h10.4v10.4h-10.4z"/><path d="M169.9 29.3h10.4v10.4h-10.4z"/><path d="M170.2 29.4h10.4v10.4h-10.4z"/><path d="M170.5 29.5h10.4v10.4h-10.4z"/><path d="M170.8 29.7h10.4v10.4h-10.4z"/><path d="M171.1 29.8h10.4v10.4h-10.4z"/><path d="M171.3 29.9h10.4v10.4h-10.4z"/><path d="M171.6 30.1h10.4v10.4h-10.4z"/><path d="M171.9 30.2h10.4v10.4h-10.4z"/><path d="M172.2 30.3h10.4v10.4h-10.4z"/><path d="M172.4 30.5h10.4v10.4h-10.4z"/><path d="M172.7 30.6h10.4v10.4h-10.4z"/><path d="M173.0 30.7h10.4v10.4h-10.4z"/><path d="M173.3 30.9h10.4v10.4h-10.4z"/><path d="M173.5 31.0h10.4v10.4h-10.4z"/><path d="M173.8 31.1h10.4v10.4h-10.4z"/><path d="M174.1 31.3h10.4v10.4h-10.4z"/><path d="M174.4 31.4h10.4v10.4h-10.4z"/><path d="M174.7 31.5h10.4v10.4h-10.4z"/><path d="M175.0 31.7h10.4v10.4h-10.4z"/><path d="M175.3 31.8h10.4v10.4h-10.4z"/><path d="M175.5 32.0h10.4v10.4h-10.4z"/><path d="M175.8 32.1h10.4v10.4h-10.4z"/><path d="M176.1 32.2h10.4v10.4h-10.4z"/><path d="M176.4 32.4h10.4v10.4h-10.4z"/><path d="M176.7 32.5h10.4v10.4h-10.4z"/><path d="M176.9 32.6h10.4v10.4h-10.4z"/><path d="M177.2 32.8h10.4v10.4h-10.4z"/><path d="M177.5 32.9h10.4v10.4h-10.4z"/><path d="M177.8 33.0h10.4v10.4h-10.4z"/><path d="M178.0 33.2h10.4v10.4h-10.4z"/><path d="M178.3 33.3h10.4v10.4h-10.4z"/><path d="M178.6 33.4h10.4v10.4h-10.4z"/><path d="M178.9 33.6h10.4v10.4h-10.4z"/><path d="M179.2 33.7h10.4v10.4h-10.4z"/><path d="M179.5 33.8h10.4v10.4h-10.4z"/><path d="M179.7 34.0h10.4v10.4h-10.4z"/><path d="M180.0 34.1h10.4v10.4h-10.4z"/><path d="M180.3 34.2h10.4v10.4h-10.4z"/><path d="M180.6 34.4h10.4v10.4h-10.4z"/><path d="M180.9 34.5h10.4v10.4h-10.4z"/><path d="M181.2 34.7h10.4v10.4h-10.4z"/><path d="M181.5 34.8h10.4v10.4h-10.4z"/><path d="M181.7 34.9h10.4v10.4h-10.4z"/><path d="M182.0 35.1h10.4v10.4h-10.4z"/><path d="M182.3 35.2h10.4v10.4h-10.4z"/><path d="M182.6 35.3h10.4v10.4h-10.4z"/><path d="M182.8 35.5h10.4v10.4h-10.4z"/><path d="M183.1 35.6h10.4v10.4h-10.4z"/><path d="M183.4 35.7h10.4v10.4h-10.4z"/><path d="M183.7 35.9h10.4v10.4h-10.4z"/><path d="M184.0 36.0h10.4v10.4h-10.4z"/><path d="M184.2 36.1h10.4v10.4h-10.4z"/><path d="M184.5 36.3h10.4v10.4h-10.4z"/><path d="M184.8 36.4h10.4v10.4h-10.4z"/><path d="M185.1 36.5h10.4v10.4h-10.4z"/><path d="M185.4 36.7h10.4v10.4h-10.4z"/><path d="M185.7 36.8h10.4v10.4h-10.4z"/><path d="M186.0 37.0h10.4v10.4h-10.4z"/><path d="M186.3 37.1h10.4v10.4h-10.4z"/><path d="M186.6 37.2h10.4v10.4h-10.4z"/><path d="M186.8 37.4h10.4v10.4h-10.4z"/><path d="M187.1 37.5h10.4v10.4h-10.4z"/><path d="M187.4 37.6h10.4v10.4h-10.4z"/><path d="M187.6 37.8h10.4v10.4h-10.4z"/><path d="M187.9 37.9h10.4v10.4h-10.4z"/><path d="M188.2 38.0h10.4v10.4h-10.4z"/><path d="M188.5 38.2h10.4v10.4h-10.4z"/><path d="M188.7 38.3h10.4v10.4h-10.4z"/><path d="M189.0 38.4h10.4v10.4h-10.4z"/><path d="M189.3 38.6h10.4v10.4h-10.4z"/><path d="M189.6 38.7h10.4v10.4h-10.4z"/><path d="M189.9 38.8h10.4v10.4h-10.4z"/><path d="M190.2 39.0h10.4v10.4h-10.4z"/><path d="M190.4 39.1h10.4v10.4h-10.4z"/><path d="M190.7 39.2h10.4v10.4h-10.4z"/><path d="M191.0 39.4h10.4v10.4h-10.4z"/><path d="M191.3 39.5h10.4v10.4h-10.4z"/><path d="M191.6 39.7h10.4v10.4h-10.4z"/><path d="M191.9 39.8h10.4v10.4h-10.4z"/><path d="M192.2 39.9h10.4v10.4h-10.4z"/><path d="M192.5 40.1h10.4v10.4h-10.4z"/><path d="M192.8 40.2h10.4v10.4h-10.4z"/><path d="M193.1 40.4h10.4v10.4h-10.4z"/><path d="M193.3 40.5h10.4v10.4h-10.4z"/><path d="M193.6 40.6h10.4v10.4h-10.4z"/><path d="M193.9 40.8h10.4v10.4h-10.4z"/><path d="M194.2 40.9h10.4v10.4h-10.4z"/><path d="M194.4 41.0h10.4v10.4h-10.4z"/><path d="M194.7 41.2h10.4v10.4h-10.4z"/><path d="M195.0 41.3h10.4v10.4h-10.4z"/><path d="M195.3 41.5h10.4v10.4h-10.4z"/><path d="M195.5 41.6h10.4v10.4h-10.4z"/><path d="M195.8 41.8h10.4v10.4h-10.4z"/><path d="M196.1 41.9h10.4v10.4h-10.4z"/><path d="M196.4 42.1h10.4v10.4h-10.4z"/><path d="M196.6 42.2h10.4v10.4h-10.4z"/><path d="M196.9 42.4h10.4v10.4h-10.4z"/><path d="M197.2 42.5h10.4v10.4h-10.4z"/><path d="M197.5 42.7h10.4v10.4h-10.4z"/><path d="M197.8 42.8h10.4v10.4h-10.4z"/><path d="M198.1 43.0h10.4v10.4h-10.4z"/><path d="M198.4 43.1h10.4v10.4h-10.4z"/><path d="M198.6 43.3h10.4v10.4h-10.4z"/><path d="M198.9 43.4h10.4v10.4h-10.4z"/><path d="M199.2 43.6h10.4v10.4h-10.4z"/><path d="M199.4 43.7h10.4v10.4h-10.4z"/><path d="M199.7 43.9h10.4v10.4h-10.4z"/><path d="M200.0 44.0h10.4v10.4h-10.4z"/><path d="M200.2 44.2h10.4v10.4h-10.4z"/><path d="M200.5 44.3h10.4v10.4h-10.4z"/><path d="M200.8 44.5h10.4v10.4h-10.4z"/><path d="M201.1 44.6h10.4v10.4h-10.4z"/><path d="M201.3 44.8h10.4v10.4h-10.4z"/><path d="M201.6 44.9h10.4v10.4h-10.4z"/><path d="M201.9 45.1h10.4v10.4h-10.4z"/><path d="M202.2 45.2h10.4v10.4h-10.4z"/><path d="M202.5 45.4h10.4v10.4h-10.4z"/><path d="M202.7 45.5h10.4v10.4h-10.4z"/><path d="M203.0 45.7h10.4v10.4h-10.4z"/><path d="M203.3 45.8h10.4v10.4h-10.4z"/><path d="M203.6 46.0h10.4v10.4h-10.4z"/><path d="M203.9 46.1h10.4v10.4h-10.4z"/><path d="M204.2 46.3h10.4v10.4h-10.4z"/><path d="M204.5 46.5h10.4v10.4h-10.4z"/><path d="M204.7 46.6h10.4v10.4h-10.4z"/><path d="M205.0 46.8h10.4v10.4h-10.4z"/><path d="M205.3 46.9h10.4v10.4h-10.4z"/><path d="M205.5 47.0h10.4v10.4h-10.4z"/><path d="M205.8 47.2h10.4v10.4h-10.4z"/><path d="M206.1 47.3h10.4v10.4h-10.4z"/><path d="M206.4 47.5h10.4v10.4h-10.4z"/><path d="M206.6 47.6h10.4v10.4h-10.4z"/><path d="M206.9 47.8h10.4v10.4h-10.4z"/><path d="M207.2 47.9h10.4v10.4h-10.4z"/><path d="M207.5 48.1h10.4v10.4h-10.4z"/><path d="M207.7 48.2h10.4v10.4h-10.4z"/><path d="M208.0 48.4h10.4v10.4h-10.4z"/><path d="M208.3 48.5h10.4v10.4h-10.4z"/><path d="M208.6 48.7h10.4v10.4h-10.4z"/><path d="M208.9 48.8h10.4v10.4h-10.4z"/><path d="M209.1 49.0h10.4v10.4h-10.4z"/><path d="M209.4 49.2h10.4v10.4h-10.4z"/><path d="M209.7 49.3h10.4v10.4h-10.4z"/><path d="M210.0 49.5h10.4v10.4h-10.4z"/><path d="M210.3 49.6h10.4v10.4h-10.4z"/><path d="M210.6 49.8h10.4v10.4h-10.4z"/><path d="M210.9 50.0h10.4v10.4h-10.4z"/><path d="M211.2 50.1h10.4v10.4h-10.4z"/><path d="M211.4 50.3h10.4v10.4h-10.4z"/><path d="M211.7 50.4h10.4v10.4h-10.4z"/><path d="M212.0 50.5h10.4v10.4h-10.4z"/><path d="M212.2 50.7h10.4v10.4h-10.4z"/><path d="M212.5 50.8h10.4v10.4h-10.4z"/><path d="M212.8 51.0h10.4v10.4h-10.4z"/><path d="M213.1 51.1h10.4v10.4h-10.4z"/><path d="M213.3 51.3h10.4v10.4h-10.4z"/><path d="M213.6 51.4h10.4v10.4h-10.4z"/><path d="M213.9 51.6h10.4v10.4h-10.4z"/><path d="M214.2 51.7h10.4v10.4h-10.4z"/><path d="M214.4 51.9h10.4v10.4h-10.4z"/><path d="M214.7 52.0h10.4v10.4h-10.4z"/><path d="M215.0 52.2h10.4v10.4h-10.4z"/><path d="M215.3 52.3h10.4v10.4h-10.4z"/><path d="M215.6 52.5h10.4v10.4h-10.4z"/><path d="M215.9 52.7h10.4v10.4h-10.4z"/><path d="M216.1 52.8h10.4v10.4h-10.4z"/><path d="M216.4 53.0h10.4v10.4h-10.4z"/><path d="M216.7 53.1h10.4v10.4h-10.4z"/><path d="M217.0 53.3h10.4v10.4h-10.4z"/><path d="M217.3 53.4h10.4v10.4h-10.4z"/><path d="M217.6 53.6h10.4v10.4h-10.4z"/><path d="M217.9 53.8h10.4v10.4h-10.4z"/><path d="M218.2 53.9h10.4v10.4h-10.4z"/><path d="M218.5 54.1h10.4v10.4h-10.4z"/><path d="M218.8 54.2h10.4v10.4h-10.4z"/><path d="M219.0 54.4h10.4v10.4h-10.4z"/><path d="M219.3 54.5h10.4v10.4h-10.4z"/><path d="M219.6 54.7h10.4v10.4h-10.4z"/><path d="M219.8 54.8h10.4v10.4h-10.4z"/><path d="M220.1 55.0h10.4v10.4h-10.4z"/><path d="M220.4 55.1h10.4v10.4h-10.4z"/><path d="M220.8 55.3h10.4v10.4h-10.4z"/><path d="M221.1 55.4h10.4v10.4h-10.4z"/><path d="M221.4 55.6h10.4v10.4h-10.4z"/><path d="M221.7 55.7h10.4v10.4h-10.4z"/><path d="M222.0 55.9h10.4v10.4h-10.4z"/><path d="M222.3 56.0h10.4v10.4h-10.4z"/><path d="M222.6 56.1h10.4v10.4h-10.4z"/><path d="M222.8 56.3h10.4v10.4h-10.4z"/><path d="M223.1 56.4h10.4v10.4h-10.4z"/><path d="M223.4 56.5h10.4v10.4h-10.4z"/><path d="M223.7 56.6h10.4v10.4h-10.4z"/><path d="M223.9 56.8h10.4v10.4h-10.4z"/><path d="M224.2 56.9h10.4v10.4h-10.4z"/><path d="M224.5 57.1h10.4v10.4h-10.4z"/><path d="M224.8 57.2h10.4v10.4h-10.4z"/><path d="M225.1 57.3h10.4v10.4h-10.4z"/><path d="M225.3 57.5h10.4v10.4h-10.4z"/><path d="M225.6 57.6h10.4v10.4h-10.4z"/><path d="M225.9 57.7h10.4v10.4h-10.4z"/><path d="M226.2 57.9h10.4v10.4h-10.4z"/><path d="M226.5 58.0h10.4v10.4h-10.4z"/><path d="M226.8 58.2h10.4v10.4h-10.4z"/><path d="M227.1 58.3h10.4v10.4h-10.4z"/><path d="M227.4 58.4h10.4v10.4h-10.4z"/><path d="M227.7 58.6h10.4v10.4h-10.4z"/><path d="M228.0 58.7h10.4v10.4h-10.4z"/><path d="M228.3 58.9h10.4v10.4h-10.4z"/><path d="M228.6 59.0h10.4v10.4h-10.4z"/><path d="M228.9 59.1h10.4v10.4h-10.4z"/><path d="M229.2 59.3h10.4v10.4h-10.4z"/><path d="M229.5 59.4h10.4v10.4h-10.4z"/><path d="M229.8 59.6h10.4v10.4h-10.4z"/><path d="M230.1 59.7h10.4v10.4h-10.4z"/><path d="M230.4 59.9h10.4v10.4h-10.4z"/><path d="M230.7 60.0h10.4v10.4h-10.4z"/><path d="M231.0 60.2h10.4v10.4h-10.4z"/><path d="M231.3 60.3h10.4v10.4h-10.4z"/><path d="M231.6 60.5h10.4v10.4h-10.4z"/><path d="M231.9 60.6h10.4v10.4h-10.4z"/><path d="M232.3 60.8h10.4v10.4h-10.4z"/><path d="M232.6 60.9h10.4v10.4h-10.4z"/><path d="M232.9 61.1h10.4v10.4h-10.4z"/><path d="M233.2 61.2h10.4v10.4h-10.4z"/><path d="M233.5 61.4h10.4v10.4h-10.4z"/><path d="M233.8 61.5h10.4v10.4h-10.4z"/><path d="M234.1 61.7h10.4v10.4h-10.4z"/><path d="M234.4 61.8h10.4v10.4h-10.4z"/><path d="M234.6 61.9h10.4v10.4h-10.4z"/><path d="M234.9 62.1h10.4v10.4h-10.4z"/><path d="M235.2 62.2h10.4v10.4h-10.4z"/><path d="M235.5 62.3h10.4v10.4h-10.4z"/><path d="M235.8 62.5h10.4v10.4h-10.4z"/><path d="M236.0 62.6h10.4v10.4h-10.4z"/><path d="M236.3 62.7h10.4v10.4h-10.4z"/><path d="M236.6 62.9h10.4v10.4h-10.4z"/><path d="M236.9 63.0h10.4v10.4h-10.4z"/><path d="M237.2 63.1h10.4v10.4h-10.4z"/><path d="M237.5 63.3h10.4v10.4h-10.4z"/><path d="M237.7 63.4h10.4v10.4h-10.4z"/><path d="M238.0 63.6h10.4v10.4h-10.4z"/><path d="M238.3 63.7h10.4v10.4h-10.4z"/><path d="M238.6 63.8h10.4v10.4h-10.4z"/><path d="M238.9 64.0h10.4v10.4h-10.4z"/><path d="M239.2 64.1h10.4v10.4h-10.4z"/><path d="M239.5 64.3h10.4v10.4h-10.4z"/><path d="M239.8 64.4h10.4v10.4h-10.4z"/><path d="M240.1 64.5h10.4v10.4h-10.4z"/><path d="M240.4 64.7h10.4v10.4h-10.4z"/><path d="M240.7 64.8h10.4v10.4h-10.4z"/><path d="M241.0 65.0h10.4v10.4h-10.4z"/><path d="M241.3 65.1h10.4v10.4h-10.4z"/><path d="M241.6 65.3h10.4v10.4h-10.4z"/><path d="M241.9 65.4h10.4v10.4h-10.4z"/><path d="M242.2 65.6h10.4v10.4h-10.4z"/><path d="M242.5 65.7h10.4v10.4h-10.4z"/><path d="M242.8 65.9h10.4v10.4h-10.4z"/><path d="M243.2 66.0h10.4v10.4h-10.4z"/><path d="M243.5 66.2h10.4v10.4h-10.4z"/><path d="M243.8 66.3h10.4v10.4h-10.4z"/><path d="M244.1 66.5h10.4v10.4h-10.4z"/><path d="M244.4 66.6h10.4v10.4h-10.4z"/><path d="M244.8 66.8h10.4v10.4h-10.4z"/><path d="M245.1 66.9h10.4v10.4h-10.4z"/><path d="M245.4 67.1h10.4v10.4h-10.4z"/><path d="M245.7 67.2h10.4v10.4h-10.4z"/><path d="M246.1 67.4h10.4v10.4h-10.4z"/><path d="M246.4 67.6h10.4v10.4h-10.4z"/><path d="M246.7 67.7h10.4v10.4h-10.4z"/><path d="M247.1 67.9h10.4v10.4h-10.4z"/><path d="M247.4 68.0h10.4v10.4h-10.4z"/><path d="M247.7 68.2h10.4v10.4h-10.4z"/><path d="M248.0 68.3h10.4v10.4h-10.4z"/><path d="M248.3 68.5h10.4v10.4h-10.4z"/><path d="M248.5 68.6h10.4v10.4h-10.4z"/><path d="M248.8 68.7h10.4v10.4h-10.4z"/><path d="M249.1 68.9h10.4v10.4h-10.4z"/><path d="M249.4 69.0h10.4v10.4h-10.4z"/><path d="M249.6 69.1h10.4v10.4h-10.4z"/><path d="M250.0 69.3h10.4v10.4h-10.4z"/><path d="M250.3 69.5h10.4v10.4h-10.4z"/><path d="M250.6 69.6h10.4v10.4h-10.4z"/><path d="M250.9 69.8h10.4v10.4h-10.4z"/><path d="M251.2 70.0h10.4v10.4h-10.4z"/><path d="M251.5 70.1h10.4v10.4h-10.4z"/><path d="M251.9 70.3h10.4v10.4h-10.4z"/><path d="M252.2 70.5h10.4v10.4h-10.4z"/><path d="M252.5 70.7h10.4v10.4h-10.4z"/><path d="M252.8 70.8h10.4v10.4h-10.4z"/><path d="M253.1 71.0h10.4v10.4h-10.4z"/><path d="M253.5 71.2h10.4v10.4h-10.4z"/><path d="M253.7 71.3h10.4v10.4h-10.4z"/><path d="M254.0 71.5h10.4v10.4h-10.4z"/><path d="M254.3 71.6h10.4v10.4h-10.4z"/><path d="M254.5 71.8h10.4v10.4h-10.4z"/><path d="M254.8 71.9h10.4v10.4h-10.4z"/><path d="M255.1 72.1h10.4v10.4h-10.4z"/><path d="M255.3 72.2h10.4v10.4h-10.4z"/><path d="M255.6 72.4h10.4v10.4h-10.4z"/><path d="M255.9 72.5h10.4v10.4h-10.4z"/><path d="M256.2 72.7h10.4v10.4h-10.4z"/><path d="M256.4 72.8h10.4v10.4h-10.4z"/><path d="M256.7 73.0h10.4v10.4h-10.4z"/><path d="M257.0 73.1h10.4v10.4h-10.4z"/><path d="M257.3 73.3h10.4v10.4h-10.4z"/><path d="M257.6 73.4h10.4v10.4h-10.4z"/><path d="M257.8 73.6h10.4v10.4h-10.4z"/><path d="M258.1 73.7h10.4v10.4h-10.4z"/><path d="M258.4 73.9h10.4v10.4h-10.4z"/><path d="M258.7 74.0h10.4v10.4h-10.4z"/><path d="M259.0 74.2h10.4v10.4h-10.4z"/><path d="M259.3 74.4h10.4v10.4h-10.4z"/><path d="M259.6 74.5h10.4v10.4h-10.4z"/><path d="M259.9 74.7h10.4v10.4h-10.4z"/><path d="M260.2 74.8h10.4v10.4h-10.4z"/><path d="M260.5 75.0h10.4v10.4h-10.4z"/><path d="M260.8 75.2h10.4v10.4h-10.4z"/><path d="M261.1 75.3h10.4v10.4h-10.4z"/><path d="M261.4 75.5h10.4v10.4h-10.4z"/><path d="M261.7 75.7h10.4v10.4h-10.4z"/><path d="M262.0 75.8h10.4v10.4h-10.4z"/><path d="M262.3 76.0h10.4v10.4h-10.4z"/><path d="M262.6 76.2h10.4v10.4h-10.4z"/><path d="M262.9 76.3h10.4v10.4h-10.4z"/><path d="M263.2 76.5h10.4v10.4h-10.4z"/><path d="M263.5 76.7h10.4v10.4h-10.4z"/><path d="M263.8 76.8h10.4v10.4h-10.4z"/><path d="M264.2 77.0h10.4v10.4h-10.4z"/><path d="M264.5 77.2h10.4v10.4h-10.4z"/><path d="M264.8 77.4h10.4v10.4h-10.4z"/><path d="M265.1 77.5h10.4v10.4h-10.4z"/><path d="M265.4 77.7h10.4v10.4h-10.4z"/><path d="M265.8 77.9h10.4v10.4h-10.4z"/><path d="M266.1 78.1h10.4v10.4h-10.4z"/><path d="M266.4 78.2h10.4v10.4h-10.4z"/><path d="M266.8 78.4h10.4v10.4h-10.4z"/><path d="M267.1 78.6h10.4v10.4h-10.4z"/><path d="M267.4 78.8h10.4v10.4h-10.4z"/><path d="M267.8 79.0h10.4v10.4h-10.4z"/><path d="M268.1 79.2h10.4v10.4h-10.4z"/><path d="M268.4 79.3h10.4v10.4h-10.4z"/><path d="M268.8 79.5h10.4v10.4h-10.4z"/><path d="M269.1 79.7h10.4v10.4h-10.4z"/><path d="M269.5 79.9h10.4v10.4h-10.4z"/><path d="M269.8 80.1h10.4v10.4h-10.4z"/><path d="M270.1 80.2h10.4v10.4h-10.4z"/><path d="M270.4 80.4h10.4v10.4h-10.4z"/><path d="M270.6 80.5h10.4v10.4h-10.4z"/><path d="M270.9 80.7h10.4v10.4h-10.4z"/><path d="M271.2 80.8h10.4v10.4h-10.4z"/><path d="M271.4 81.0h10.4v10.4h-10.4z"/><path d="M271.7 81.1h10.4v10.4h-10.4z"/><path d="M272.0 81.3h10.4v10.4h-10.4z"/><path d="M272.3 81.4h10.4v10.4h-10.4z"/><path d="M272.5 81.6h10.4v10.4h-10.4z"/><path d="M272.8 81.7h10.4v10.4h-10.4z"/><path d="M273.1 81.9h10.4v10.4h-10.4z"/><path d="M273.4 82.0h10.4v10.4h-10.4z"/><path d="M273.7 82.2h10.4v10.4h-10.4z"/><path d="M273.9 82.3h10.4v10.4h-10.4z"/><path d="M274.2 82.5h10.4v10.4h-10.4z"/><path d="M274.5 82.6h10.4v10.4h-10.4z"/><path d="M274.8 82.8h10.4v10.4h-10.4z"/><path d="M275.1 83.0h10.4v10.4h-10.4z"/><path d="M275.5 83.1h10.4v10.4h-10.4z"/><path d="M275.8 83.3h10.4v10.4h-10.4z"/><path d="M276.1 83.4h10.4v10.4h-10.4z"/><path d="M276.5 83.6h10.4v10.4h-10.4z"/><path d="M276.8 83.8h10.4v10.4h-10.4z"/><path d="M277.1 83.9h10.4v10.4h-10.4z"/><path d="M277.5 84.1h10.4v10.4h-10.4z"/><path d="M277.8 84.2h10.4v10.4h-10.4z"/><path d="M278.2 84.4h10.4v10.4h-10.4z"/><path d="M278.5 84.6h10.4v10.4h-10.4z"/><path d="M278.8 84.7h10.4v10.4h-10.4z"/><path d="M279.2 84.9h10.4v10.4h-10.4z"/><path d="M279.5 85.1h10.4v10.4h-10.4z"/><path d="M279.9 85.2h10.4v10.4h-10.4z"/><path d="M280.3 85.4h10.4v10.4h-10.4z"/><path d="M280.6 85.6h10.4v10.4h-10.4z"/><path d="M281.0 85.8h10.4v10.4h-10.4z"/><path d="M281.3 85.9h10.4v10.4h-10.4z"/><path d="M281.7 86.1h10.4v10.4h-10.4z"/><path d="M282.1 86.3h10.4v10.4h-10.4z"/><path d="M282.4 86.5h10.4v10.4h-10.4z"/><path d="M282.8 86.6h10.4v10.4h-10.4z"/><path d="M283.2 86.8h10.4v10.4h-10.4z"/><path d="M283.5 87.0h10.4v10.4h-10.4z"/><path d="M283.9 87.2h10.4v10.4h-10.4z"/><path d="M284.3 87.4h10.4v10.4h-10.4z"/><path d="M284.7 87.5h10.4v10.4h-10.4z"/><path d="M285.1 87.7h10.4v10.4h-10.4z"/><path d="M285.4 87.9h10.4v10.4h-10.4z"/><path d="M285.8 88.1h10.4v10.4h-10.4z"/><path d="M286.2 88.3h10.4v10.4h-10.4z"/><path d="M286.6 88.5h10.4v10.4h-10.4z"/><path d="M287.0 88.7h10.4v10.4h-10.4z"/><path d="M287.4 88.8h10.4v10.4h-10.4z"/><path d="M287.8 89.0h10.4v10.4h-10.4z"/><path d="M288.2 89.2h10.4v10.4h-10.4z"/><path d="M288.6 89.4h10.4v10.4h-10.4z"/><path d="M288.9 89.6h10.4v10.4h-10.4z"/><path d="M289.2 89.7h10.4v10.4h-10.4z"/><path d="M289.4 89.8h10.4v10.4h-10.4z"/><path d="M289.7 90.0h10.4v10.4h-10.4z"/><path d="M290.0 90.1h10.4v10.4h-10.4z"/><path d="M290.3 90.2h10.4v10.4h-10.4z"/><path d="M290.5 90.4h10.4v10.4h-10.4z"/><path d="M290.8 90.5h10.4v10.4h-10.4z"/><path d="M291.1 90.6h10.4v10.4h-10.4z"/><path d="M291.4 90.8h10.4v10.4h-10.4z"/><path d="M291.7 90.9h10.4v10.4h-10.4z"/><path d="M291.9 91.0h10.4v10.4h-10.4z"/><path d="M292.2 91.2h10.4v10.4h-10.4z"/><path d="M292.5 91.3h10.4v10.4h-10.4z"/><path d="M292.8 91.4h10.4v10.4h-10.4z"/><path d="M293.1 91.6h10.4v10.4h-10.4z"/><path d="M293.4 91.7h10.4v10.4h-10.4z"/><path d="M293.7 91.9h10.4v10.4h-10.4z"/><path d="M294.0 92.0h10.4v10.4h-10.4z"/><path d="M294.3 92.1h10.4v10.4h-10.4z"/><path d="M294.6 92.3h10.4v10.4h-10.4z"/><path d="M294.9 92.4h10.4v10.4h-10.4z"/><path d="M295.2 92.6h10.4v10.4h-10.4z"/><path d="M295.5 92.7h10.4v10.4h-10.4z"/><path d="M295.8 92.9h10.4v10.4h-10.4z"/><path d="M296.1 93.0h10.4v10.4h-10.4z"/><path d="M296.4 93.2h10.4v10.4h-10.4z"/><path d="M296.7 93.3h10.4v10.4h-10.4z"/><path d="M297.0 93.4h10.4v10.4h-10.4z"/><path d="M297.3 93.6h10.4v10.4h-10.4z"/><path d="M297.6 93.7h10.4v10.4h-10.4z"/><path d="M297.9 93.9h10.4v10.4h-10.4z"/><path d="M298.2 94.0h10.4v10.4h-10.4z"/><path d="M298.5 94.2h10.4v10.4h-10.4z"/><path d="M298.9 94.3h10.4v10.4h-10.4z"/><path d="M299.2 94.5h10.4v10.4h-10.4z"/><path d="M299.5 94.7h10.4v10.4h-10.4z"/><path d="M299.8 94.8h10.4v10.4h-10.4z"/><path d="M300.1 95.0h10.4v10.4h-10.4z"/><path d="M300.5 95.1h10.4v10.4h-10.4z"/><path d="M300.8 95.3h10.4v10.4h-10.4z"/><path d="M301.1 95.4h10.4v10.4h-10.4z"/><path d="M301.5 95.6h10.4v10.4h-10.4z"/><path d="M301.8 95.8h10.4v10.4h-10.4z"/><path d="M302.1 95.9h10.4v10.4h-10.4z"/><path d="M302.5 96.1h10.4v10.4h-10.4z"/><path d="M302.8 96.2h10.4v10.4h-10.4z"/><path d="M303.1 96.4h10.4v10.4h-10.4z"/><path d="M303.5 96.6h10.4v10.4h-10.4z"/><path d="M303.8 96.7h10.4v10.4h-10.4z"/><path d="M304.2 96.9h10.4v10.4h-10.4z"/><path d="M304.5 97.1h10.4v10.4h-10.4z"/><path d="M304.8 97.2h10.4v10.4h-10.4z"/><path d="M305.1 97.4h10.4v10.4h-10.4z"/><path d="M305.5 97.6h10.4v10.4h-10.4z"/><path d="M305.8 97.7h10.4v10.4h-10.4z"/><path d="M306.1 97.9h10.4v10.4h-10.4z"/><path d="M306.4 98.1h10.4v10.4h-10.4z"/><path d="M306.7 98.2h10.4v10.4h-10.4z"/><path d="M307.0 98.4h10.4v10.4h-10.4z"/><path d="M307.3 98.6h10.4v10.4h-10.4z"/><path d="M307.6 98.8h10.4v10.4h-10.4z"/><path d="M308.0 98.9h10.4v10.4h-10.4z"/><path d="M308.3 99.1h10.4v10.4h-10.4z"/><path d="M308.6 99.3h10.4v10.4h-10.4z"/><path d="M308.9 99.5h10.4v10.4h-10.4z"/><path d="M309.3 99.7h10.4v10.4h-10.4z"/><path d="M309.6 99.8h10.4v10.4h-10.4z"/><path d="M309.9 100.0h10.4v10.4h-10.4z"/><path d="M310.3 100.2h10.4v10.4h-10.4z"/><path d="M310.6 100.4h10.4v10.4h-10.4z"/><path d="M310.9 100.6h10.4v10.4h-10.4z"/><path d="M311.3 100.8h10.4v10.4h-10.4z"/><path d="M311.6 101.0h10.4v10.4h-10.4z"/><path d="M312.0 101.2h10.4v10.4h-10.4z"/><path d="M312.3 101.3h10.4v10.4h-10.4z"/><path d="M312.7 101.5h10.4v10.4h-10.4z"/><path d="M313.0 101.7h10.4v10.4h-10.4z"/><path d="M313.4 101.9h10.4v10.4h-10.4z"/><path d="M313.7 102.1h10.4v10.4h-10.4z"/><path d="M314.1 102.3h10.4v10.4h-10.4z"/><path d="M314.4 102.5h10.4v10.4h-10.4z"/><path d="M314.8 102.7h10.4v10.4h-10.4z"/><path d="M315.2 102.9h10.4v10.4h-10.4z"/><path d="M315.5 103.1h10.4v10.4h-10.4z"/><path d="M315.9 103.3h10.4v10.4h-10.4z"/><path d="M316.3 103.5h10.4v10.4h-10.4z"/><path d="M316.6 103.7h10.4v10.4h-10.4z"/><path d="M317.0 103.9h10.4v10.4h-10.4z"/><path d="M317.4 104.2h10.4v10.4h-10.4z"/><path d="M317.8 104.4h10.4v10.4h-10.4z"/><path d="M318.2 104.6h10.4v10.4h-10.4z"/><path d="M318.5 104.8h10.4v10.4h-10.4z"/><path d="M318.9 105.0h10.4v10.4h-10.4z"/><path d="M319.3 105.2h10.4v10.4h-10.4z"/><path d="M319.7 105.4h10.4v10.4h-10.4z"/><path d="M320.1 105.7h10.4v10.4h-10.4z"/><path d="M320.5 105.9h10.4v10.4h-10.4z"/><path d="M320.9 106.1h10.4v10.4h-10.4z"/><path d="M321.3 106.3h10.4v10.4h-10.4z"/><path d="M321.7 106.6h10.4v10.4h-10.4z"/><path d="M322.2 106.8h10.4v10.4h-10.4z"/><path d="M322.6 107.0h10.4v10.4h-10.4z"/><path d="M323.0 107.2h10.4v10.4h-10.4z"/><path d="M323.4 107.5h10.4v10.4h-10.4z"/><path d="M323.8 107.7h10.4v10.4h-10.4z"/><path d="M324.3 107.9h10.4v10.4h-10.4z"/><path d="M324.7 108.2h10.4v10.4h-10.4z"/><path d="M325.1 108.4h10.4v10.4h-10.4z"/><path d="M325.6 108.7h10.4v10.4h-10.4z"/><path d="M326.0 108.9h10.4v10.4h-10.4z"/><path d="M326.5 109.2h10.4v10.4h-10.4z"/><path d="M326.9 109.4h10.4v10.4h-10.4z"/><path d="M327.4 109.7h10.4v10.4h-10.4z"/><path d="M327.8 109.9h10.4v10.4h-10.4z"/><path d="M328.3 110.2h10.4v10.4h-10.4z"/><path d="M328.8 110.4h10.4v10.4h-10.4z"/><path d="M329.2 110.7h10.4v10.4h-10.4z"/><path d="M329.7 110.9h10.4v10.4h-10.4z"/><path d="M330.2 111.2h10.4v10.4h-10.4z"/><path d="M330.5 111.3h10.4v10.4h-10.4z"/><path d="M330.8 111.5h10.4v10.4h-10.4z"/><path d="M331.1 111.6h10.4v10.4h-10.4z"/><path d="M331.4 111.7h10.4v10.4h-10.4z"/><path d="M331.6 111.9h10.4v10.4h-10.4z"/><path d="M331.9 112.0h10.4v10.4h-10.4z"/><path d="M332.2 112.2h10.4v10.4h-10.4z"/><path d="M332.5 112.3h10.4v10.4h-10.4z"/><path d="M332.8 112.4h10.4v10.4h-10.4z"/><path d="M333.1 112.6h10.4v10.4h-10.4z"/><path d="M333.3 112.7h10.4v10.4h-10.4z"/><path d="M333.6 112.8h10.4v10.4h-10.4z"/><path d="M333.9 113.0h10.4v10.4h-10.4z"/><path d="M334.2 113.1h10.4v10.4h-10.4z"/><path d="M334.5 113.3h10.4v10.4h-10.4z"/><path d="M334.8 113.4h10.4v10.4h-10.4z"/><path d="M335.1 113.5h10.4v10.4h-10.4z"/><path d="M335.4 113.7h10.4v10.4h-10.4z"/><path d="M335.7 113.8h10.4v10.4h-10.4z"/><path d="M336.0 114.0h10.4v10.4h-10.4z"/><path d="M336.3 114.1h10.4v10.4h-10.4z"/><path d="M336.6 114.3h10.4v10.4h-10.4z"/><path d="M336.9 114.4h10.4v10.4h-10.4z"/><path d="M337.2 114.6h10.4v10.4h-10.4z"/><path d="M337.5 114.7h10.4v10.4h-10.4z"/><path d="M337.8 114.9h10.4v10.4h-10.4z"/><path d="M338.2 115.0h10.4v10.4h-10.4z"/><path d="M338.5 115.2h10.4v10.4h-10.4z"/><path d="M338.8 115.3h10.4v10.4h-10.4z"/><path d="M339.1 115.5h10.4v10.4h-10.4z"/><path d="M339.4 115.6h10.4v10.4h-10.4z"/><path d="M339.7 115.8h10.4v10.4h-10.4z"/><path d="M340.1 115.9h10.4v10.4h-10.4z"/><path d="M340.4 116.1h10.4v10.4h-10.4z"/><path d="M340.7 116.2h10.4v10.4h-10.4z"/><path d="M341.0 116.4h10.4v10.4h-10.4z"/><path d="M341.4 116.5h10.4v10.4h-10.4z"/><path d="M341.7 116.7h10.4v10.4h-10.4z"/><path d="M342.0 116.9h10.4v10.4h-10.4z"/><path d="M342.3 117.0h10.4v10.4h-10.4z"/><path d="M342.7 117.2h10.4v10.4h-10.4z"/><path d="M343.0 117.3h10.4v10.4h-10.4z"/><path d="M343.4 117.5h10.4v10.4h-10.4z"/><path d="M343.7 117.7h10.4v10.4h-10.4z"/><path d="M344.0 117.8h10.4v10.4h-10.4z"/><path d="M344.4 118.0h10.4v10.4h-10.4z"/><path d="M344.7 118.2h10.4v10.4h-10.4z"/><path d="M345.1 118.3h10.4v10.4h-10.4z"/><path d="M345.4 118.5h10.4v10.4h-10.4z"/><path d="M345.8 118.7h10.4v10.4h-10.4z"/><path d="M346.1 118.8h10.4v10.4h-10.4z"/><path d="M346.5 119.0h10.4v10.4h-10.4z"/><path d="M346.8 119.2h10.4v10.4h-10.4z"/><path d="M347.2 119.4h10.4v10.4h-10.4z"/><path d="M347.6 119.5h10.4v10.4h-10.4z"/><path d="M347.9 119.7h10.4v10.4h-10.4z"/><path d="M348.3 119.9h10.4v10.4h-10.4z"/><path d="M348.7 120.1h10.4v10.4h-10.4z"/><path d="M349.0 120.2h10.4v10.4h-10.4z"/><path d="M349.4 120.4h10.4v10.4h-10.4z"/><path d="M349.8 120.6h10.4v10.4h-10.4z"/><path d="M350.1 120.8h10.4v10.4h-10.4z"/><path d="M350.5 120.9h10.4v10.4h-10.4z"/><path d="M350.9 121.1h10.4v10.4h-10.4z"/><path d="M351.3 121.3h10.4v10.4h-10.4z"/><path d="M351.7 121.5h10.4v10.4h-10.4z"/><path d="M352.1 121.7h10.4v10.4h-10.4z"/><path d="M352.4 121.9h10.4v10.4h-10.4z"/><path d="M352.8 122.1h10.4v10.4h-10.4z"/><path d="M353.2 122.2h10.4v10.4h-10.4z"/><path d="M353.6 122.4h10.4v10.4h-10.4z"/><path d="M354.0 122.6h10.4v10.4h-10.4z"/><path d="M354.4 122.8h10.4v10.4h-10.4z"/><path d="M354.8 123.0h10.4v10.4h-10.4z"/><path d="M355.2 123.2h10.4v10.4h-10.4z"/><path d="M355.7 123.4h10.4v10.4h-10.4z"/><path d="M356.1 123.6h10.4v10.4h-10.4z"/><path d="M356.5 123.8h10.4v10.4h-10.4z"/><path d="M356.9 124.0h10.4v10.4h-10.4z"/><path d="M357.3 124.2h10.4v10.4h-10.4z"/><path d="M357.7 124.4h10.4v10.4h-10.4z"/><path d="M358.2 124.6h10.4v10.4h-10.4z"/><path d="M358.6 124.8h10.4v10.4h-10.4z"/><path d="M359.0 125.0h10.4v10.4h-10.4z"/><path d="M359.5 125.2h10.4v10.4h-10.4z"/><path d="M359.9 125.4h10.4v10.4h-10.4z"/><path d="M360.3 125.7h10.4v10.4h-10.4z"/><path d="M360.7 125.9h10.4v10.4h-10.4z"/><path d="M361.1 126.1h10.4v10.4h-10.4z"/><path d="M361.5 126.3h10.4v10.4h-10.4z"/><path d="M362.0 126.5h10.4v10.4h-10.4z"/><path d="M362.4 126.7h10.4v10.4h-10.4z"/><path d="M362.8 127.0h10.4v10.4h-10.4z"/><path d="M363.2 127.2h10.4v10.4h-10.4z"/><path d="M363.7 127.4h10.4v10.4h-10.4z"/><path d="M364.1 127.6h10.4v10.4h-10.4z"/><path d="M364.5 127.9h10.4v10.4h-10.4z"/><path d="M365.0 128.1h10.4v10.4h-10.4z"/><path d="M365.4 128.3h10.4v10.4h-10.4z"/><path d="M365.9 128.6h10.4v10.4h-10.4z"/><path d="M366.3 128.8h10.4v10.4h-10.4z"/><path d="M366.8 129.0h10.4v10.4h-10.4z"/><path d="M367.2 129.3h10.4v10.4h-10.4z"/><path d="M367.7 129.5h10.4v10.4h-10.4z"/><path d="M368.2 129.7h10.4v10.4h-10.4z"/><path d="M368.6 130.0h10.4v10.4h-10.4z"/><path d="M369.1 130.2h10.4v10.4h-10.4z"/><path d="M369.6 130.5h10.4v10.4h-10.4z"/><path d="M370.0 130.7h10.4v10.4h-10.4z"/><path d="M370.5 131.0h10.4v10.4h-10.4z"/><path d="M371.0 131.2h10.4v10.4h-10.4z"/><path d="M371.5 131.5h10.4v10.4h-10.4z"/><path d="M372.0 131.7h10.4v10.4h-10.4z"/><path d="M372.5 132.0h10.4v10.4h-10.4z"/><path d="M373.0 132.3h10.4v10.4h-10.4z"/><path d="M373.5 132.5h10.4v10.4h-10.4z"/><path d="M374.0 132.8h10.4v10.4h-10.4z"/><path d="M374.6 133.1h10.4v10.4h-10.4z"/><path d="M375.1 133.3h10.4v10.4h-10.4z"/><path d="M375.6 133.8h10.4v10.4h-10.4z"/><path d="M376.1 133.9h10.4v10.4h-10.4z"/><path d="M376.7 134.5h10.4v10.4h-10.4z"/><path d="M377.2 134.5h10.4v10.4h-10.4z"/><path d="M377.8 135.3h10.4v10.4h-10.4z"/><path d="M378.3 135.0h10.4v10.4h-10.4z"/><path d="M378.9 136.1h10.4v10.4h-10.4z"/><path d="M379.4 135.6h10.4v10.4h-10.4z"/><path d="M381.2 136.9h10.4v10.4h-10.4z"/><path d="M381.4 136.2h10.4v10.4h-10.4z"/><path d="M381.7 137.8h10.4v10.4h-10.4z"/><path d="M382.0 136.8h10.4v10.4h-10.4z"/><path d="M382.3 138.6h10.4v10.4h-10.4z"/><path d="M382.6 137.4h10.4v10.4h-10.4z"/><path d="M382.9 139.5h10.4v10.4h-10.4z"/><path d="M383.2 138.1h10.4v10.4h-10.4z"/><path d="M383.5 140.4h10.4v10.4h-10.4z"/><path d="M386.4 138.7h10.4v10.4h-10.4z"/><path d="M386.8 141.3h10.4v10.4h-10.4z"/><path d="M387.1 139.4h10.4v10.4h-10.4z"/><path d="M387.5 142.3h10.4v10.4h-10.4z"/><path d="M387.9 140.0h10.4v10.4h-10.4z"/><path d="M388.3 143.3h10.4v10.4h-10.4z"/><path d="M391.2 140.7h10.4v10.4h-10.4z"/><path d="M391.6 144.3h10.4v10.4h-10.4z"/><path d="M392.0 141.4h10.4v10.4h-10.4z"/><path d="M392.4 145.3h10.4v10.4h-10.4z"/><path d="M392.8 142.1h10.4v10.4h-10.4z"/><path d="M393.2 146.4h10.4v10.4h-10.4z"/><path d="M396.2 142.9h10.4v10.4h-10.4z"/><path d="M396.7 147.3h10.4v10.4h-10.4z"/><path d="M397.2 143.6h10.4v10.4h-10.4z"/><path d="M397.8 148.1h10.4v10.4h-10.4z"/><path d="M398.3 144.4h10.4v10.4h-10.4z"/><path d="M401.4 148.9h10.4v10.4h-10.4z"/><path d="M402.0 145.2h10.4v10.4h-10.4z"/><path d="M402.6 149.8h10.4v10.4h-10.4z"/><path d="M403.1 146.0h10.4v10.4h-10.4z"/><path d="M406.2 150.7h10.4v10.4h-10.4z"/><path d="M406.7 146.9h10.4v10.4h-10.4z"/><path d="M407.1 151.6h10.4v10.4h-10.4z"/><path d="M407.6 147.7h10.4v10.4h-10.4z"/><path d="M408.1 152.5h10.4v10.4h-10.4z"/><path d="M411.1 148.6h10.4v10.4h-10.4z"/><path d="M411.6 153.5h10.4v10.4h-10.4z"/><path d="M412.1 149.5h10.4v10.4h-10.4z"/><path d="M412.6 154.4h10.4v10.4h-10.4z"/><path d="M413.2 150.5h10.4v10.4h-10.4z"/><path d="M416.2 155.4h10.4v10.4h-10.4z"/><path d="M416.6 151.4h10.4v10.4h-10.4z"/><path d="M417.0 156.5h10.4v10.4h-10.4z"/><path d="M417.4 152.4h10.4v10.4h-10.4z"/><path d="M417.8 157.5h10.4v10.4h-10.4z"/><path d="M418.3 153.5h10.4v10.4h-10.4z"/><path d="M421.2 158.6h10.4v10.4h-10.4z"/><path d="M421.5 154.5h10.4v10.4h-10.4z"/><path d="M421.9 159.8h10.4v10.4h-10.4z"/><path d="M422.2 155.6h10.4v10.4h-10.4z"/><path d="M422.6 160.9h10.4v10.4h-10.4z"/><path d="M422.9 156.8h10.4v10.4h-10.4z"/><path d="M423.3 162.1h10.4v10.4h-10.4z"/><path d="M426.3 158.0h10.4v10.4h-10.4z"/><path d="M427.0 163.4h10.4v10.4h-10.4z"/><path d="M427.7 159.2h10.4v10.4h-10.4z"/><path d="M428.4 164.8h10.4v10.4h-10.4z"/><path d="M431.6 160.6h10.4v10.4h-10.4z"/><path d="M432.4 166.2h10.4v10.4h-10.4z"/><path d="M433.1 161.9h10.4v10.4h-10.4z"/><path d="M436.2 167.5h10.4v10.4h-10.4z"/><path d="M436.6 163.3h10.4v10.4h-10.4z"/><path d="M437.0 168.7h10.4v10.4h-10.4z"/><path d="M437.4 164.8h10.4v10.4h-10.4z"/><path d="M437.8 169.9h10.4v10.4h-10.4z"/><path d="M438.2 166.4h10.4v10.4h-10.4z"/><path d="M441.2 171.2h10.4v10.4h-10.4z"/><path d="M441.6 168.0h10.4v10.4h-10.4z"/><path d="M442.1 172.5h10.4v10.4h-10.4z"/><path d="M442.5 169.8h10.4v10.4h-10.4z"/><path d="M442.8 174.0h10.4v10.4h-10.4z"/><path d="M443.1 171.6h10.4v10.4h-10.4z"/><path d="M443.4 175.7h10.4v10.4h-10.4z"/><path d="M446.2 173.6h10.4v10.4h-10.4z"/><path d="M446.5 177.4h10.4v10.4h-10.4z"/><path d="M446.8 175.7h10.4v10.4h-10.4z"/><path d="M447.1 179.2h10.4v10.4h-10.4z"/><path d="M447.4 178.0h10.4v10.4h-10.4z"/><path d="M447.8 181.1h10.4v10.4h-10.4z"/><path d="M448.2 180.4h10.4v10.4h-10.4z"/><path d="M448.5 183.3h10.4v10.4h-10.4z"/><path d="M452.2 183.1h10.4v10.4h-10.4z"/><path d="M453.4 184.6h10.4v10.4h-10.4z"/><path d="M457.1 186.0h10.4v10.4h-10.4z"/><path d="M458.2 187.6h10.4v10.4h-10.4z"/><path d="M461.6 189.2h10.4v10.4h-10.4z"/><path d="M462.7 191.0h10.4v10.4h-10.4z"/><path d="M466.3 192.8h10.4v10.4h-10.4z"/><path d="M467.6 194.8h10.4v10.4h-10.4z"/><path d="M468.3 196.9h10.4v10.4h-10.4z"/><path d="M471.7 199.2h10.4v10.4h-10.4z"/><path d="M472.8 201.6h10.4v10.4h-10.4z"/><path d="M474.5 204.3h10.4v10.4h-10.4z"/><path d="M476.3 207.2h10.4v10.4h-10.4z"/><path d="M479.3 210.4h10.4v10.4h-10.4z"/><path d="M482.3 214.0h10.4v10.4h-10.4z"/><path d="M485.8 218.1h10.4v10.4h-10.4z"/><path d="M491.5 222.8h10.4v10.4h-10.4z"/><path d="M505.5 228.4h10.4v10.4h-10.4z"/><path d="M516.3 235.2h10.4v10.4h-10.4z"/><path d="M516.3 244.0h10.4v10.4h-10.4z"/><path d="M533.8 256.4h10.4v10.4h-10.4z"/><path d="M620.8 277.6h10.4v10.4h-10.4z"/></g>
<g fill="#4e6b1f" stroke="#97bd55" stroke-width="1.9" stroke-linejoin="round"><path d="M130.5 7.9l5.1 10.2h-10.2z"/><path d="M130.8 8.0l5.1 10.2h-10.2z"/><path d="M131.1 8.2l5.1 10.2h-10.2z"/><path d="M131.3 8.3l5.1 10.2h-10.2z"/><path d="M131.6 8.4l5.1 10.2h-10.2z"/><path d="M131.9 8.6l5.1 10.2h-10.2z"/><path d="M132.1 8.7l5.1 10.2h-10.2z"/><path d="M132.4 8.8l5.1 10.2h-10.2z"/><path d="M132.7 9.0l5.1 10.2h-10.2z"/><path d="M133.0 9.1l5.1 10.2h-10.2z"/><path d="M133.2 9.2l5.1 10.2h-10.2z"/><path d="M133.5 9.3l5.1 10.2h-10.2z"/><path d="M133.8 9.5l5.1 10.2h-10.2z"/><path d="M134.1 9.6l5.1 10.2h-10.2z"/><path d="M134.3 9.7l5.1 10.2h-10.2z"/><path d="M134.6 9.9l5.1 10.2h-10.2z"/><path d="M134.9 10.0l5.1 10.2h-10.2z"/><path d="M135.2 10.1l5.1 10.2h-10.2z"/><path d="M135.4 10.3l5.1 10.2h-10.2z"/><path d="M135.7 10.4l5.1 10.2h-10.2z"/><path d="M136.0 10.5l5.1 10.2h-10.2z"/><path d="M136.3 10.7l5.1 10.2h-10.2z"/><path d="M136.5 10.8l5.1 10.2h-10.2z"/><path d="M136.8 10.9l5.1 10.2h-10.2z"/><path d="M137.1 11.1l5.1 10.2h-10.2z"/><path d="M137.4 11.2l5.1 10.2h-10.2z"/><path d="M137.6 11.3l5.1 10.2h-10.2z"/><path d="M137.9 11.5l5.1 10.2h-10.2z"/><path d="M138.2 11.6l5.1 10.2h-10.2z"/><path d="M138.5 11.7l5.1 10.2h-10.2z"/><path d="M138.7 11.9l5.1 10.2h-10.2z"/><path d="M139.0 12.0l5.1 10.2h-10.2z"/><path d="M139.3 12.1l5.1 10.2h-10.2z"/><path d="M139.5 12.3l5.1 10.2h-10.2z"/><path d="M139.8 12.4l5.1 10.2h-10.2z"/><path d="M140.1 12.5l5.1 10.2h-10.2z"/><path d="M140.4 12.7l5.1 10.2h-10.2z"/><path d="M140.6 12.8l5.1 10.2h-10.2z"/><path d="M140.9 12.9l5.1 10.2h-10.2z"/><path d="M141.2 13.0l5.1 10.2h-10.2z"/><path d="M141.5 13.2l5.1 10.2h-10.2z"/><path d="M141.8 13.3l5.1 10.2h-10.2z"/><path d="M142.0 13.4l5.1 10.2h-10.2z"/><path d="M142.3 13.6l5.1 10.2h-10.2z"/><path d="M142.6 13.7l5.1 10.2h-10.2z"/><path d="M142.8 13.8l5.1 10.2h-10.2z"/><path d="M143.1 14.0l5.1 10.2h-10.2z"/><path d="M143.4 14.1l5.1 10.2h-10.2z"/><path d="M143.7 14.2l5.1 10.2h-10.2z"/><path d="M144.0 14.4l5.1 10.2h-10.2z"/><path d="M144.2 14.5l5.1 10.2h-10.2z"/><path d="M144.5 14.6l5.1 10.2h-10.2z"/><path d="M144.8 14.8l5.1 10.2h-10.2z"/><path d="M145.0 14.9l5.1 10.2h-10.2z"/><path d="M145.3 15.0l5.1 10.2h-10.2z"/><path d="M145.6 15.2l5.1 10.2h-10.2z"/><path d="M145.9 15.3l5.1 10.2h-10.2z"/><path d="M146.2 15.4l5.1 10.2h-10.2z"/><path d="M146.4 15.6l5.1 10.2h-10.2z"/><path d="M146.7 15.7l5.1 10.2h-10.2z"/><path d="M147.0 15.8l5.1 10.2h-10.2z"/><path d="M147.2 16.0l5.1 10.2h-10.2z"/><path d="M147.5 16.1l5.1 10.2h-10.2z"/><path d="M147.8 16.2l5.1 10.2h-10.2z"/><path d="M148.1 16.4l5.1 10.2h-10.2z"/><path d="M148.4 16.5l5.1 10.2h-10.2z"/><path d="M148.6 16.6l5.1 10.2h-10.2z"/><path d="M148.9 16.7l5.1 10.2h-10.2z"/><path d="M149.2 16.9l5.1 10.2h-10.2z"/><path d="M149.4 17.0l5.1 10.2h-10.2z"/><path d="M149.7 17.1l5.1 10.2h-10.2z"/><path d="M150.0 17.3l5.1 10.2h-10.2z"/><path d="M150.3 17.4l5.1 10.2h-10.2z"/><path d="M150.5 17.5l5.1 10.2h-10.2z"/><path d="M150.8 17.7l5.1 10.2h-10.2z"/><path d="M151.1 17.8l5.1 10.2h-10.2z"/><path d="M151.4 17.9l5.1 10.2h-10.2z"/><path d="M151.6 18.1l5.1 10.2h-10.2z"/><path d="M151.9 18.2l5.1 10.2h-10.2z"/><path d="M152.2 18.3l5.1 10.2h-10.2z"/><path d="M152.5 18.5l5.1 10.2h-10.2z"/><path d="M152.8 18.6l5.1 10.2h-10.2z"/><path d="M153.0 18.7l5.1 10.2h-10.2z"/><path d="M153.3 18.9l5.1 10.2h-10.2z"/><path d="M153.6 19.0l5.1 10.2h-10.2z"/><path d="M153.8 19.1l5.1 10.2h-10.2z"/><path d="M154.1 19.3l5.1 10.2h-10.2z"/><path d="M154.4 19.4l5.1 10.2h-10.2z"/><path d="M154.7 19.5l5.1 10.2h-10.2z"/><path d="M155.0 19.7l5.1 10.2h-10.2z"/><path d="M155.2 19.8l5.1 10.2h-10.2z"/><path d="M155.5 19.9l5.1 10.2h-10.2z"/><path d="M155.8 20.1l5.1 10.2h-10.2z"/><path d="M156.1 20.2l5.1 10.2h-10.2z"/><path d="M156.3 20.3l5.1 10.2h-10.2z"/><path d="M156.6 20.5l5.1 10.2h-10.2z"/><path d="M156.9 20.6l5.1 10.2h-10.2z"/><path d="M157.2 20.7l5.1 10.2h-10.2z"/><path d="M157.4 20.9l5.1 10.2h-10.2z"/><path d="M157.7 21.0l5.1 10.2h-10.2z"/><path d="M158.0 21.1l5.1 10.2h-10.2z"/><path d="M158.3 21.3l5.1 10.2h-10.2z"/><path d="M158.5 21.4l5.1 10.2h-10.2z"/><path d="M158.8 21.5l5.1 10.2h-10.2z"/><path d="M159.1 21.7l5.1 10.2h-10.2z"/><path d="M159.4 21.8l5.1 10.2h-10.2z"/><path d="M159.6 21.9l5.1 10.2h-10.2z"/><path d="M159.9 22.1l5.1 10.2h-10.2z"/><path d="M160.2 22.2l5.1 10.2h-10.2z"/><path d="M160.5 22.3l5.1 10.2h-10.2z"/><path d="M160.7 22.5l5.1 10.2h-10.2z"/><path d="M161.0 22.6l5.1 10.2h-10.2z"/><path d="M161.3 22.7l5.1 10.2h-10.2z"/><path d="M161.6 22.8l5.1 10.2h-10.2z"/><path d="M161.8 23.0l5.1 10.2h-10.2z"/><path d="M162.1 23.1l5.1 10.2h-10.2z"/><path d="M162.4 23.2l5.1 10.2h-10.2z"/><path d="M162.7 23.4l5.1 10.2h-10.2z"/><path d="M163.0 23.5l5.1 10.2h-10.2z"/><path d="M163.2 23.6l5.1 10.2h-10.2z"/><path d="M163.5 23.8l5.1 10.2h-10.2z"/><path d="M163.8 23.9l5.1 10.2h-10.2z"/><path d="M164.1 24.0l5.1 10.2h-10.2z"/><path d="M164.3 24.2l5.1 10.2h-10.2z"/><path d="M164.6 24.3l5.1 10.2h-10.2z"/><path d="M164.9 24.4l5.1 10.2h-10.2z"/><path d="M165.2 24.6l5.1 10.2h-10.2z"/><path d="M165.5 24.7l5.1 10.2h-10.2z"/><path d="M165.7 24.8l5.1 10.2h-10.2z"/><path d="M166.0 25.0l5.1 10.2h-10.2z"/><path d="M166.3 25.1l5.1 10.2h-10.2z"/><path d="M166.6 25.2l5.1 10.2h-10.2z"/><path d="M166.8 25.4l5.1 10.2h-10.2z"/><path d="M167.1 25.5l5.1 10.2h-10.2z"/><path d="M167.4 25.6l5.1 10.2h-10.2z"/><path d="M167.7 25.8l5.1 10.2h-10.2z"/><path d="M167.9 25.9l5.1 10.2h-10.2z"/><path d="M168.2 26.0l5.1 10.2h-10.2z"/><path d="M168.5 26.2l5.1 10.2h-10.2z"/><path d="M168.8 26.3l5.1 10.2h-10.2z"/><path d="M169.1 26.4l5.1 10.2h-10.2z"/><path d="M169.3 26.6l5.1 10.2h-10.2z"/><path d="M169.6 26.7l5.1 10.2h-10.2z"/><path d="M169.9 26.8l5.1 10.2h-10.2z"/><path d="M170.1 27.0l5.1 10.2h-10.2z"/><path d="M170.4 27.1l5.1 10.2h-10.2z"/><path d="M170.7 27.2l5.1 10.2h-10.2z"/><path d="M171.0 27.4l5.1 10.2h-10.2z"/><path d="M171.3 27.5l5.1 10.2h-10.2z"/><path d="M171.5 27.6l5.1 10.2h-10.2z"/><path d="M171.8 27.8l5.1 10.2h-10.2z"/><path d="M172.1 27.9l5.1 10.2h-10.2z"/><path d="M172.4 28.0l5.1 10.2h-10.2z"/><path d="M172.7 28.2l5.1 10.2h-10.2z"/><path d="M172.9 28.3l5.1 10.2h-10.2z"/><path d="M173.2 28.4l5.1 10.2h-10.2z"/><path d="M173.5 28.6l5.1 10.2h-10.2z"/><path d="M173.8 28.7l5.1 10.2h-10.2z"/><path d="M174.0 28.8l5.1 10.2h-10.2z"/><path d="M174.3 29.0l5.1 10.2h-10.2z"/><path d="M174.6 29.1l5.1 10.2h-10.2z"/><path d="M174.9 29.2l5.1 10.2h-10.2z"/><path d="M175.2 29.4l5.1 10.2h-10.2z"/><path d="M175.4 29.5l5.1 10.2h-10.2z"/><path d="M175.7 29.6l5.1 10.2h-10.2z"/><path d="M176.0 29.8l5.1 10.2h-10.2z"/><path d="M176.3 29.9l5.1 10.2h-10.2z"/><path d="M176.5 30.0l5.1 10.2h-10.2z"/><path d="M176.8 30.2l5.1 10.2h-10.2z"/><path d="M177.1 30.3l5.1 10.2h-10.2z"/><path d="M177.4 30.4l5.1 10.2h-10.2z"/><path d="M177.6 30.6l5.1 10.2h-10.2z"/><path d="M177.9 30.7l5.1 10.2h-10.2z"/><path d="M178.2 30.8l5.1 10.2h-10.2z"/><path d="M178.5 31.0l5.1 10.2h-10.2z"/><path d="M178.8 31.1l5.1 10.2h-10.2z"/><path d="M179.0 31.2l5.1 10.2h-10.2z"/><path d="M179.3 31.4l5.1 10.2h-10.2z"/><path d="M179.6 31.5l5.1 10.2h-10.2z"/><path d="M179.9 31.6l5.1 10.2h-10.2z"/><path d="M180.1 31.8l5.1 10.2h-10.2z"/><path d="M180.4 31.9l5.1 10.2h-10.2z"/><path d="M180.7 32.0l5.1 10.2h-10.2z"/><path d="M181.0 32.2l5.1 10.2h-10.2z"/><path d="M181.3 32.3l5.1 10.2h-10.2z"/><path d="M181.6 32.4l5.1 10.2h-10.2z"/><path d="M181.8 32.6l5.1 10.2h-10.2z"/><path d="M182.1 32.7l5.1 10.2h-10.2z"/><path d="M182.4 32.8l5.1 10.2h-10.2z"/><path d="M182.7 33.0l5.1 10.2h-10.2z"/><path d="M182.9 33.1l5.1 10.2h-10.2z"/><path d="M183.2 33.2l5.1 10.2h-10.2z"/><path d="M183.5 33.4l5.1 10.2h-10.2z"/><path d="M183.8 33.5l5.1 10.2h-10.2z"/><path d="M184.0 33.6l5.1 10.2h-10.2z"/><path d="M184.3 33.8l5.1 10.2h-10.2z"/><path d="M184.6 33.9l5.1 10.2h-10.2z"/><path d="M184.9 34.0l5.1 10.2h-10.2z"/><path d="M185.2 34.2l5.1 10.2h-10.2z"/><path d="M185.5 34.3l5.1 10.2h-10.2z"/><path d="M185.7 34.5l5.1 10.2h-10.2z"/><path d="M186.0 34.6l5.1 10.2h-10.2z"/><path d="M186.3 34.7l5.1 10.2h-10.2z"/><path d="M186.6 34.9l5.1 10.2h-10.2z"/><path d="M186.8 35.0l5.1 10.2h-10.2z"/><path d="M187.1 35.1l5.1 10.2h-10.2z"/><path d="M187.4 35.3l5.1 10.2h-10.2z"/><path d="M187.7 35.4l5.1 10.2h-10.2z"/><path d="M188.0 35.5l5.1 10.2h-10.2z"/><path d="M188.2 35.7l5.1 10.2h-10.2z"/><path d="M188.5 35.8l5.1 10.2h-10.2z"/><path d="M188.8 35.9l5.1 10.2h-10.2z"/><path d="M189.1 36.1l5.1 10.2h-10.2z"/><path d="M189.4 36.2l5.1 10.2h-10.2z"/><path d="M189.7 36.3l5.1 10.2h-10.2z"/><path d="M189.9 36.5l5.1 10.2h-10.2z"/><path d="M190.2 36.6l5.1 10.2h-10.2z"/><path d="M190.5 36.7l5.1 10.2h-10.2z"/><path d="M190.8 36.9l5.1 10.2h-10.2z"/><path d="M191.0 37.0l5.1 10.2h-10.2z"/><path d="M191.3 37.1l5.1 10.2h-10.2z"/><path d="M191.6 37.3l5.1 10.2h-10.2z"/><path d="M191.9 37.4l5.1 10.2h-10.2z"/><path d="M192.1 37.5l5.1 10.2h-10.2z"/><path d="M192.4 37.7l5.1 10.2h-10.2z"/><path d="M192.7 37.8l5.1 10.2h-10.2z"/><path d="M193.0 37.9l5.1 10.2h-10.2z"/><path d="M193.3 38.1l5.1 10.2h-10.2z"/><path d="M193.6 38.2l5.1 10.2h-10.2z"/><path d="M193.8 38.3l5.1 10.2h-10.2z"/><path d="M194.1 38.5l5.1 10.2h-10.2z"/><path d="M194.4 38.6l5.1 10.2h-10.2z"/><path d="M194.7 38.8l5.1 10.2h-10.2z"/><path d="M195.0 38.9l5.1 10.2h-10.2z"/><path d="M195.2 39.0l5.1 10.2h-10.2z"/><path d="M195.5 39.1l5.1 10.2h-10.2z"/><path d="M195.8 39.3l5.1 10.2h-10.2z"/><path d="M196.1 39.4l5.1 10.2h-10.2z"/><path d="M196.3 39.5l5.1 10.2h-10.2z"/><path d="M196.6 39.7l5.1 10.2h-10.2z"/><path d="M196.9 39.8l5.1 10.2h-10.2z"/><path d="M197.2 39.9l5.1 10.2h-10.2z"/><path d="M197.5 40.1l5.1 10.2h-10.2z"/><path d="M197.7 40.2l5.1 10.2h-10.2z"/><path d="M198.0 40.4l5.1 10.2h-10.2z"/><path d="M198.3 40.5l5.1 10.2h-10.2z"/><path d="M198.6 40.6l5.1 10.2h-10.2z"/><path d="M198.9 40.8l5.1 10.2h-10.2z"/><path d="M199.2 40.9l5.1 10.2h-10.2z"/><path d="M199.5 41.0l5.1 10.2h-10.2z"/><path d="M199.7 41.2l5.1 10.2h-10.2z"/><path d="M200.0 41.3l5.1 10.2h-10.2z"/><path d="M200.3 41.5l5.1 10.2h-10.2z"/><path d="M200.6 41.6l5.1 10.2h-10.2z"/><path d="M200.8 41.8l5.1 10.2h-10.2z"/><path d="M201.1 41.9l5.1 10.2h-10.2z"/><path d="M201.4 42.0l5.1 10.2h-10.2z"/><path d="M201.6 42.2l5.1 10.2h-10.2z"/><path d="M201.9 42.3l5.1 10.2h-10.2z"/><path d="M202.2 42.5l5.1 10.2h-10.2z"/><path d="M202.4 42.6l5.1 10.2h-10.2z"/><path d="M202.7 42.8l5.1 10.2h-10.2z"/><path d="M203.0 42.9l5.1 10.2h-10.2z"/><path d="M203.3 43.1l5.1 10.2h-10.2z"/><path d="M203.5 43.2l5.1 10.2h-10.2z"/><path d="M203.8 43.4l5.1 10.2h-10.2z"/><path d="M204.1 43.5l5.1 10.2h-10.2z"/><path d="M204.4 43.7l5.1 10.2h-10.2z"/><path d="M204.7 43.8l5.1 10.2h-10.2z"/><path d="M204.9 44.0l5.1 10.2h-10.2z"/><path d="M205.2 44.1l5.1 10.2h-10.2z"/><path d="M205.5 44.3l5.1 10.2h-10.2z"/><path d="M205.7 44.4l5.1 10.2h-10.2z"/><path d="M206.0 44.6l5.1 10.2h-10.2z"/><path d="M206.3 44.7l5.1 10.2h-10.2z"/><path d="M206.6 44.9l5.1 10.2h-10.2z"/><path d="M206.8 45.0l5.1 10.2h-10.2z"/><path d="M207.1 45.2l5.1 10.2h-10.2z"/><path d="M207.4 45.3l5.1 10.2h-10.2z"/><path d="M207.6 45.5l5.1 10.2h-10.2z"/><path d="M207.9 45.6l5.1 10.2h-10.2z"/><path d="M208.2 45.8l5.1 10.2h-10.2z"/><path d="M208.5 45.9l5.1 10.2h-10.2z"/><path d="M208.8 46.1l5.1 10.2h-10.2z"/><path d="M209.1 46.2l5.1 10.2h-10.2z"/><path d="M209.3 46.4l5.1 10.2h-10.2z"/><path d="M209.6 46.5l5.1 10.2h-10.2z"/><path d="M209.9 46.7l5.1 10.2h-10.2z"/><path d="M210.1 46.8l5.1 10.2h-10.2z"/><path d="M210.4 47.0l5.1 10.2h-10.2z"/><path d="M210.7 47.1l5.1 10.2h-10.2z"/><path d="M210.9 47.3l5.1 10.2h-10.2z"/><path d="M211.2 47.4l5.1 10.2h-10.2z"/><path d="M211.5 47.5l5.1 10.2h-10.2z"/><path d="M211.8 47.7l5.1 10.2h-10.2z"/><path d="M212.0 47.8l5.1 10.2h-10.2z"/><path d="M212.3 48.0l5.1 10.2h-10.2z"/><path d="M212.6 48.2l5.1 10.2h-10.2z"/><path d="M212.9 48.3l5.1 10.2h-10.2z"/><path d="M213.2 48.5l5.1 10.2h-10.2z"/><path d="M213.4 48.6l5.1 10.2h-10.2z"/><path d="M213.7 48.8l5.1 10.2h-10.2z"/><path d="M214.0 48.9l5.1 10.2h-10.2z"/><path d="M214.3 49.1l5.1 10.2h-10.2z"/><path d="M214.6 49.2l5.1 10.2h-10.2z"/><path d="M214.8 49.4l5.1 10.2h-10.2z"/><path d="M215.1 49.5l5.1 10.2h-10.2z"/><path d="M215.4 49.7l5.1 10.2h-10.2z"/><path d="M215.6 49.8l5.1 10.2h-10.2z"/><path d="M215.9 50.0l5.1 10.2h-10.2z"/><path d="M216.2 50.1l5.1 10.2h-10.2z"/><path d="M216.4 50.2l5.1 10.2h-10.2z"/><path d="M216.7 50.4l5.1 10.2h-10.2z"/><path d="M217.0 50.5l5.1 10.2h-10.2z"/><path d="M217.3 50.7l5.1 10.2h-10.2z"/><path d="M217.6 50.9l5.1 10.2h-10.2z"/><path d="M217.8 51.0l5.1 10.2h-10.2z"/><path d="M218.1 51.2l5.1 10.2h-10.2z"/><path d="M218.4 51.3l5.1 10.2h-10.2z"/><path d="M218.7 51.5l5.1 10.2h-10.2z"/><path d="M219.0 51.6l5.1 10.2h-10.2z"/><path d="M219.3 51.8l5.1 10.2h-10.2z"/><path d="M219.5 51.9l5.1 10.2h-10.2z"/><path d="M219.8 52.1l5.1 10.2h-10.2z"/><path d="M220.1 52.2l5.1 10.2h-10.2z"/><path d="M220.3 52.4l5.1 10.2h-10.2z"/><path d="M220.6 52.5l5.1 10.2h-10.2z"/><path d="M220.9 52.7l5.1 10.2h-10.2z"/><path d="M221.2 52.8l5.1 10.2h-10.2z"/><path d="M221.4 53.0l5.1 10.2h-10.2z"/><path d="M221.7 53.1l5.1 10.2h-10.2z"/><path d="M222.0 53.3l5.1 10.2h-10.2z"/><path d="M222.2 53.4l5.1 10.2h-10.2z"/><path d="M222.5 53.6l5.1 10.2h-10.2z"/><path d="M222.8 53.7l5.1 10.2h-10.2z"/><path d="M223.1 53.9l5.1 10.2h-10.2z"/><path d="M223.4 54.0l5.1 10.2h-10.2z"/><path d="M223.6 54.2l5.1 10.2h-10.2z"/><path d="M223.9 54.3l5.1 10.2h-10.2z"/><path d="M224.2 54.5l5.1 10.2h-10.2z"/><path d="M224.5 54.6l5.1 10.2h-10.2z"/><path d="M224.8 54.8l5.1 10.2h-10.2z"/><path d="M225.1 54.9l5.1 10.2h-10.2z"/><path d="M225.4 55.1l5.1 10.2h-10.2z"/><path d="M225.7 55.2l5.1 10.2h-10.2z"/><path d="M226.0 55.4l5.1 10.2h-10.2z"/><path d="M226.3 55.5l5.1 10.2h-10.2z"/><path d="M226.6 55.6l5.1 10.2h-10.2z"/><path d="M226.9 55.8l5.1 10.2h-10.2z"/><path d="M227.1 55.9l5.1 10.2h-10.2z"/><path d="M227.4 56.1l5.1 10.2h-10.2z"/><path d="M227.7 56.2l5.1 10.2h-10.2z"/><path d="M228.0 56.3l5.1 10.2h-10.2z"/><path d="M228.2 56.5l5.1 10.2h-10.2z"/><path d="M228.5 56.6l5.1 10.2h-10.2z"/><path d="M228.8 56.7l5.1 10.2h-10.2z"/><path d="M229.1 56.9l5.1 10.2h-10.2z"/><path d="M229.4 57.0l5.1 10.2h-10.2z"/><path d="M229.6 57.1l5.1 10.2h-10.2z"/><path d="M229.9 57.3l5.1 10.2h-10.2z"/><path d="M230.2 57.4l5.1 10.2h-10.2z"/><path d="M230.5 57.5l5.1 10.2h-10.2z"/><path d="M230.8 57.7l5.1 10.2h-10.2z"/><path d="M231.1 57.8l5.1 10.2h-10.2z"/><path d="M231.4 58.0l5.1 10.2h-10.2z"/><path d="M231.6 58.1l5.1 10.2h-10.2z"/><path d="M231.9 58.2l5.1 10.2h-10.2z"/><path d="M232.2 58.4l5.1 10.2h-10.2z"/><path d="M232.5 58.5l5.1 10.2h-10.2z"/><path d="M232.8 58.7l5.1 10.2h-10.2z"/><path d="M233.1 58.8l5.1 10.2h-10.2z"/><path d="M233.4 58.9l5.1 10.2h-10.2z"/><path d="M233.7 59.1l5.1 10.2h-10.2z"/><path d="M234.0 59.2l5.1 10.2h-10.2z"/><path d="M234.3 59.4l5.1 10.2h-10.2z"/><path d="M234.6 59.5l5.1 10.2h-10.2z"/><path d="M234.9 59.7l5.1 10.2h-10.2z"/><path d="M235.3 59.8l5.1 10.2h-10.2z"/><path d="M235.5 60.0l5.1 10.2h-10.2z"/><path d="M235.8 60.1l5.1 10.2h-10.2z"/><path d="M236.1 60.2l5.1 10.2h-10.2z"/><path d="M236.3 60.3l5.1 10.2h-10.2z"/><path d="M236.6 60.5l5.1 10.2h-10.2z"/><path d="M236.9 60.6l5.1 10.2h-10.2z"/><path d="M237.2 60.7l5.1 10.2h-10.2z"/><path d="M237.5 60.9l5.1 10.2h-10.2z"/><path d="M237.7 61.0l5.1 10.2h-10.2z"/><path d="M238.0 61.1l5.1 10.2h-10.2z"/><path d="M238.3 61.3l5.1 10.2h-10.2z"/><path d="M238.6 61.4l5.1 10.2h-10.2z"/><path d="M238.9 61.6l5.1 10.2h-10.2z"/><path d="M239.2 61.7l5.1 10.2h-10.2z"/><path d="M239.4 61.8l5.1 10.2h-10.2z"/><path d="M239.7 62.0l5.1 10.2h-10.2z"/><path d="M240.0 62.1l5.1 10.2h-10.2z"/><path d="M240.3 62.3l5.1 10.2h-10.2z"/><path d="M240.6 62.4l5.1 10.2h-10.2z"/><path d="M240.9 62.5l5.1 10.2h-10.2z"/><path d="M241.2 62.7l5.1 10.2h-10.2z"/><path d="M241.5 62.8l5.1 10.2h-10.2z"/><path d="M241.8 63.0l5.1 10.2h-10.2z"/><path d="M242.1 63.1l5.1 10.2h-10.2z"/><path d="M242.4 63.3l5.1 10.2h-10.2z"/><path d="M242.7 63.4l5.1 10.2h-10.2z"/><path d="M243.0 63.5l5.1 10.2h-10.2z"/><path d="M243.3 63.7l5.1 10.2h-10.2z"/><path d="M243.6 63.8l5.1 10.2h-10.2z"/><path d="M243.9 64.0l5.1 10.2h-10.2z"/><path d="M244.2 64.1l5.1 10.2h-10.2z"/><path d="M244.6 64.3l5.1 10.2h-10.2z"/><path d="M244.9 64.4l5.1 10.2h-10.2z"/><path d="M245.2 64.6l5.1 10.2h-10.2z"/><path d="M245.5 64.7l5.1 10.2h-10.2z"/><path d="M245.7 64.9l5.1 10.2h-10.2z"/><path d="M246.0 65.0l5.1 10.2h-10.2z"/><path d="M246.3 65.1l5.1 10.2h-10.2z"/><path d="M246.6 65.2l5.1 10.2h-10.2z"/><path d="M246.8 65.4l5.1 10.2h-10.2z"/><path d="M247.1 65.5l5.1 10.2h-10.2z"/><path d="M247.4 65.6l5.1 10.2h-10.2z"/><path d="M247.7 65.8l5.1 10.2h-10.2z"/><path d="M248.0 65.9l5.1 10.2h-10.2z"/><path d="M248.2 66.1l5.1 10.2h-10.2z"/><path d="M248.5 66.2l5.1 10.2h-10.2z"/><path d="M248.8 66.3l5.1 10.2h-10.2z"/><path d="M249.1 66.5l5.1 10.2h-10.2z"/><path d="M249.4 66.6l5.1 10.2h-10.2z"/><path d="M249.7 66.7l5.1 10.2h-10.2z"/><path d="M250.0 66.9l5.1 10.2h-10.2z"/><path d="M250.3 67.0l5.1 10.2h-10.2z"/><path d="M250.6 67.2l5.1 10.2h-10.2z"/><path d="M250.9 67.3l5.1 10.2h-10.2z"/><path d="M251.2 67.5l5.1 10.2h-10.2z"/><path d="M251.4 67.6l5.1 10.2h-10.2z"/><path d="M251.7 67.7l5.1 10.2h-10.2z"/><path d="M252.1 67.9l5.1 10.2h-10.2z"/><path d="M252.4 68.0l5.1 10.2h-10.2z"/><path d="M252.7 68.2l5.1 10.2h-10.2z"/><path d="M253.0 68.3l5.1 10.2h-10.2z"/><path d="M253.3 68.5l5.1 10.2h-10.2z"/><path d="M253.6 68.6l5.1 10.2h-10.2z"/><path d="M253.9 68.8l5.1 10.2h-10.2z"/><path d="M254.2 68.9l5.1 10.2h-10.2z"/><path d="M254.5 69.1l5.1 10.2h-10.2z"/><path d="M254.8 69.2l5.1 10.2h-10.2z"/><path d="M255.1 69.4l5.1 10.2h-10.2z"/><path d="M255.4 69.5l5.1 10.2h-10.2z"/><path d="M255.7 69.7l5.1 10.2h-10.2z"/><path d="M256.0 69.8l5.1 10.2h-10.2z"/><path d="M256.3 70.0l5.1 10.2h-10.2z"/><path d="M256.5 70.1l5.1 10.2h-10.2z"/><path d="M256.8 70.3l5.1 10.2h-10.2z"/><path d="M257.1 70.5l5.1 10.2h-10.2z"/><path d="M257.4 70.6l5.1 10.2h-10.2z"/><path d="M257.7 70.8l5.1 10.2h-10.2z"/><path d="M258.0 70.9l5.1 10.2h-10.2z"/><path d="M258.3 71.1l5.1 10.2h-10.2z"/><path d="M258.6 71.3l5.1 10.2h-10.2z"/><path d="M258.9 71.4l5.1 10.2h-10.2z"/><path d="M259.2 71.6l5.1 10.2h-10.2z"/><path d="M259.5 71.7l5.1 10.2h-10.2z"/><path d="M259.8 71.9l5.1 10.2h-10.2z"/><path d="M260.1 72.1l5.1 10.2h-10.2z"/><path d="M260.4 72.2l5.1 10.2h-10.2z"/><path d="M260.7 72.4l5.1 10.2h-10.2z"/><path d="M261.0 72.6l5.1 10.2h-10.2z"/><path d="M261.3 72.7l5.1 10.2h-10.2z"/><path d="M261.6 72.9l5.1 10.2h-10.2z"/><path d="M262.0 73.1l5.1 10.2h-10.2z"/><path d="M262.2 73.2l5.1 10.2h-10.2z"/><path d="M262.5 73.4l5.1 10.2h-10.2z"/><path d="M262.8 73.5l5.1 10.2h-10.2z"/><path d="M263.0 73.7l5.1 10.2h-10.2z"/><path d="M263.3 73.8l5.1 10.2h-10.2z"/><path d="M263.6 74.0l5.1 10.2h-10.2z"/><path d="M263.8 74.1l5.1 10.2h-10.2z"/><path d="M264.1 74.3l5.1 10.2h-10.2z"/><path d="M264.4 74.4l5.1 10.2h-10.2z"/><path d="M264.7 74.6l5.1 10.2h-10.2z"/><path d="M264.9 74.7l5.1 10.2h-10.2z"/><path d="M265.2 74.9l5.1 10.2h-10.2z"/><path d="M265.5 75.0l5.1 10.2h-10.2z"/><path d="M265.8 75.2l5.1 10.2h-10.2z"/><path d="M266.0 75.3l5.1 10.2h-10.2z"/><path d="M266.3 75.5l5.1 10.2h-10.2z"/><path d="M266.6 75.6l5.1 10.2h-10.2z"/><path d="M266.9 75.8l5.1 10.2h-10.2z"/><path d="M267.2 75.9l5.1 10.2h-10.2z"/><path d="M267.5 76.1l5.1 10.2h-10.2z"/><path d="M267.8 76.2l5.1 10.2h-10.2z"/><path d="M268.1 76.4l5.1 10.2h-10.2z"/><path d="M268.4 76.6l5.1 10.2h-10.2z"/><path d="M268.7 76.7l5.1 10.2h-10.2z"/><path d="M269.0 76.9l5.1 10.2h-10.2z"/><path d="M269.3 77.1l5.1 10.2h-10.2z"/><path d="M269.6 77.2l5.1 10.2h-10.2z"/><path d="M269.9 77.4l5.1 10.2h-10.2z"/><path d="M270.2 77.5l5.1 10.2h-10.2z"/><path d="M270.5 77.7l5.1 10.2h-10.2z"/><path d="M270.8 77.9l5.1 10.2h-10.2z"/><path d="M271.1 78.0l5.1 10.2h-10.2z"/><path d="M271.4 78.2l5.1 10.2h-10.2z"/><path d="M271.7 78.4l5.1 10.2h-10.2z"/><path d="M272.0 78.6l5.1 10.2h-10.2z"/><path d="M272.3 78.7l5.1 10.2h-10.2z"/><path d="M272.6 78.9l5.1 10.2h-10.2z"/><path d="M273.0 79.1l5.1 10.2h-10.2z"/><path d="M273.3 79.2l5.1 10.2h-10.2z"/><path d="M273.6 79.4l5.1 10.2h-10.2z"/><path d="M273.9 79.6l5.1 10.2h-10.2z"/><path d="M274.3 79.8l5.1 10.2h-10.2z"/><path d="M274.6 80.0l5.1 10.2h-10.2z"/><path d="M274.9 80.1l5.1 10.2h-10.2z"/><path d="M275.1 80.2l5.1 10.2h-10.2z"/><path d="M275.4 80.4l5.1 10.2h-10.2z"/><path d="M275.7 80.5l5.1 10.2h-10.2z"/><path d="M275.9 80.7l5.1 10.2h-10.2z"/><path d="M276.2 80.8l5.1 10.2h-10.2z"/><path d="M276.5 81.0l5.1 10.2h-10.2z"/><path d="M276.7 81.1l5.1 10.2h-10.2z"/><path d="M277.0 81.3l5.1 10.2h-10.2z"/><path d="M277.3 81.4l5.1 10.2h-10.2z"/><path d="M277.6 81.6l5.1 10.2h-10.2z"/><path d="M277.8 81.7l5.1 10.2h-10.2z"/><path d="M278.1 81.9l5.1 10.2h-10.2z"/><path d="M278.4 82.0l5.1 10.2h-10.2z"/><path d="M278.7 82.2l5.1 10.2h-10.2z"/><path d="M279.0 82.3l5.1 10.2h-10.2z"/><path d="M279.3 82.5l5.1 10.2h-10.2z"/><path d="M279.5 82.7l5.1 10.2h-10.2z"/><path d="M279.8 82.8l5.1 10.2h-10.2z"/><path d="M280.1 83.0l5.1 10.2h-10.2z"/><path d="M280.5 83.1l5.1 10.2h-10.2z"/><path d="M280.8 83.3l5.1 10.2h-10.2z"/><path d="M281.1 83.4l5.1 10.2h-10.2z"/><path d="M281.5 83.6l5.1 10.2h-10.2z"/><path d="M281.8 83.8l5.1 10.2h-10.2z"/><path d="M282.2 83.9l5.1 10.2h-10.2z"/><path d="M282.5 84.1l5.1 10.2h-10.2z"/><path d="M282.8 84.3l5.1 10.2h-10.2z"/><path d="M283.2 84.4l5.1 10.2h-10.2z"/><path d="M283.5 84.6l5.1 10.2h-10.2z"/><path d="M283.9 84.8l5.1 10.2h-10.2z"/><path d="M284.2 84.9l5.1 10.2h-10.2z"/><path d="M284.6 85.1l5.1 10.2h-10.2z"/><path d="M284.9 85.3l5.1 10.2h-10.2z"/><path d="M285.3 85.4l5.1 10.2h-10.2z"/><path d="M285.6 85.6l5.1 10.2h-10.2z"/><path d="M286.0 85.8l5.1 10.2h-10.2z"/><path d="M286.3 85.9l5.1 10.2h-10.2z"/><path d="M286.6 86.0l5.1 10.2h-10.2z"/><path d="M286.8 86.2l5.1 10.2h-10.2z"/><path d="M287.1 86.3l5.1 10.2h-10.2z"/><path d="M287.4 86.4l5.1 10.2h-10.2z"/><path d="M287.7 86.6l5.1 10.2h-10.2z"/><path d="M287.9 86.7l5.1 10.2h-10.2z"/><path d="M288.2 86.8l5.1 10.2h-10.2z"/><path d="M288.5 87.0l5.1 10.2h-10.2z"/><path d="M288.8 87.1l5.1 10.2h-10.2z"/><path d="M289.1 87.2l5.1 10.2h-10.2z"/><path d="M289.3 87.4l5.1 10.2h-10.2z"/><path d="M289.6 87.5l5.1 10.2h-10.2z"/><path d="M289.9 87.7l5.1 10.2h-10.2z"/><path d="M290.2 87.8l5.1 10.2h-10.2z"/><path d="M290.5 87.9l5.1 10.2h-10.2z"/><path d="M290.8 88.1l5.1 10.2h-10.2z"/><path d="M291.1 88.2l5.1 10.2h-10.2z"/><path d="M291.4 88.4l5.1 10.2h-10.2z"/><path d="M291.7 88.5l5.1 10.2h-10.2z"/><path d="M292.0 88.6l5.1 10.2h-10.2z"/><path d="M292.3 88.8l5.1 10.2h-10.2z"/><path d="M292.6 88.9l5.1 10.2h-10.2z"/><path d="M292.9 89.1l5.1 10.2h-10.2z"/><path d="M293.2 89.2l5.1 10.2h-10.2z"/><path d="M293.5 89.4l5.1 10.2h-10.2z"/><path d="M293.8 89.5l5.1 10.2h-10.2z"/><path d="M294.1 89.7l5.1 10.2h-10.2z"/><path d="M294.4 89.8l5.1 10.2h-10.2z"/><path d="M294.7 90.0l5.1 10.2h-10.2z"/><path d="M295.0 90.1l5.1 10.2h-10.2z"/><path d="M295.3 90.3l5.1 10.2h-10.2z"/><path d="M295.6 90.4l5.1 10.2h-10.2z"/><path d="M296.0 90.6l5.1 10.2h-10.2z"/><path d="M296.3 90.7l5.1 10.2h-10.2z"/><path d="M296.6 90.9l5.1 10.2h-10.2z"/><path d="M296.9 91.0l5.1 10.2h-10.2z"/><path d="M297.2 91.2l5.1 10.2h-10.2z"/><path d="M297.6 91.3l5.1 10.2h-10.2z"/><path d="M297.9 91.5l5.1 10.2h-10.2z"/><path d="M298.2 91.6l5.1 10.2h-10.2z"/><path d="M298.5 91.8l5.1 10.2h-10.2z"/><path d="M298.9 92.0l5.1 10.2h-10.2z"/><path d="M299.2 92.1l5.1 10.2h-10.2z"/><path d="M299.5 92.3l5.1 10.2h-10.2z"/><path d="M299.9 92.4l5.1 10.2h-10.2z"/><path d="M300.2 92.6l5.1 10.2h-10.2z"/><path d="M300.6 92.8l5.1 10.2h-10.2z"/><path d="M300.9 92.9l5.1 10.2h-10.2z"/><path d="M301.2 93.1l5.1 10.2h-10.2z"/><path d="M301.6 93.3l5.1 10.2h-10.2z"/><path d="M301.9 93.4l5.1 10.2h-10.2z"/><path d="M302.3 93.6l5.1 10.2h-10.2z"/><path d="M302.6 93.8l5.1 10.2h-10.2z"/><path d="M303.0 93.9l5.1 10.2h-10.2z"/><path d="M303.3 94.1l5.1 10.2h-10.2z"/><path d="M303.7 94.3l5.1 10.2h-10.2z"/><path d="M304.1 94.4l5.1 10.2h-10.2z"/><path d="M304.4 94.6l5.1 10.2h-10.2z"/><path d="M304.8 94.8l5.1 10.2h-10.2z"/><path d="M305.1 95.0l5.1 10.2h-10.2z"/><path d="M305.5 95.1l5.1 10.2h-10.2z"/><path d="M305.9 95.3l5.1 10.2h-10.2z"/><path d="M306.3 95.5l5.1 10.2h-10.2z"/><path d="M306.6 95.7l5.1 10.2h-10.2z"/><path d="M307.0 95.9l5.1 10.2h-10.2z"/><path d="M307.4 96.0l5.1 10.2h-10.2z"/><path d="M307.8 96.2l5.1 10.2h-10.2z"/><path d="M308.1 96.4l5.1 10.2h-10.2z"/><path d="M308.5 96.6l5.1 10.2h-10.2z"/><path d="M308.9 96.8l5.1 10.2h-10.2z"/><path d="M309.3 97.0l5.1 10.2h-10.2z"/><path d="M309.7 97.2l5.1 10.2h-10.2z"/><path d="M310.1 97.3l5.1 10.2h-10.2z"/><path d="M310.4 97.5l5.1 10.2h-10.2z"/><path d="M310.8 97.7l5.1 10.2h-10.2z"/><path d="M311.1 97.9l5.1 10.2h-10.2z"/><path d="M311.5 98.1l5.1 10.2h-10.2z"/><path d="M311.8 98.3l5.1 10.2h-10.2z"/><path d="M312.2 98.5l5.1 10.2h-10.2z"/><path d="M312.5 98.7l5.1 10.2h-10.2z"/><path d="M312.9 98.9l5.1 10.2h-10.2z"/><path d="M313.3 99.1l5.1 10.2h-10.2z"/><path d="M313.6 99.3l5.1 10.2h-10.2z"/><path d="M314.0 99.5l5.1 10.2h-10.2z"/><path d="M314.4 99.7l5.1 10.2h-10.2z"/><path d="M314.7 99.9l5.1 10.2h-10.2z"/><path d="M315.1 100.1l5.1 10.2h-10.2z"/><path d="M315.5 100.3l5.1 10.2h-10.2z"/><path d="M315.9 100.5l5.1 10.2h-10.2z"/><path d="M316.3 100.8l5.1 10.2h-10.2z"/><path d="M316.6 101.0l5.1 10.2h-10.2z"/><path d="M317.0 101.2l5.1 10.2h-10.2z"/><path d="M317.4 101.4l5.1 10.2h-10.2z"/><path d="M317.8 101.6l5.1 10.2h-10.2z"/><path d="M318.1 101.8l5.1 10.2h-10.2z"/><path d="M318.4 101.9l5.1 10.2h-10.2z"/><path d="M318.6 102.1l5.1 10.2h-10.2z"/><path d="M318.9 102.2l5.1 10.2h-10.2z"/><path d="M319.2 102.4l5.1 10.2h-10.2z"/><path d="M319.4 102.5l5.1 10.2h-10.2z"/><path d="M319.7 102.7l5.1 10.2h-10.2z"/><path d="M320.0 102.8l5.1 10.2h-10.2z"/><path d="M320.3 103.0l5.1 10.2h-10.2z"/><path d="M320.5 103.1l5.1 10.2h-10.2z"/><path d="M320.8 103.3l5.1 10.2h-10.2z"/><path d="M321.1 103.4l5.1 10.2h-10.2z"/><path d="M321.4 103.6l5.1 10.2h-10.2z"/><path d="M321.6 103.7l5.1 10.2h-10.2z"/><path d="M321.9 103.9l5.1 10.2h-10.2z"/><path d="M322.2 104.0l5.1 10.2h-10.2z"/><path d="M322.5 104.2l5.1 10.2h-10.2z"/><path d="M322.8 104.4l5.1 10.2h-10.2z"/><path d="M323.1 104.5l5.1 10.2h-10.2z"/><path d="M323.4 104.7l5.1 10.2h-10.2z"/><path d="M323.7 104.8l5.1 10.2h-10.2z"/><path d="M324.0 105.0l5.1 10.2h-10.2z"/><path d="M324.2 105.2l5.1 10.2h-10.2z"/><path d="M324.5 105.3l5.1 10.2h-10.2z"/><path d="M324.8 105.5l5.1 10.2h-10.2z"/><path d="M325.1 105.7l5.1 10.2h-10.2z"/><path d="M325.4 105.8l5.1 10.2h-10.2z"/><path d="M325.8 106.0l5.1 10.2h-10.2z"/><path d="M326.1 106.2l5.1 10.2h-10.2z"/><path d="M326.4 106.3l5.1 10.2h-10.2z"/><path d="M326.7 106.5l5.1 10.2h-10.2z"/><path d="M327.0 106.7l5.1 10.2h-10.2z"/><path d="M327.3 106.8l5.1 10.2h-10.2z"/><path d="M327.6 107.0l5.1 10.2h-10.2z"/><path d="M327.9 107.2l5.1 10.2h-10.2z"/><path d="M328.2 107.4l5.1 10.2h-10.2z"/><path d="M328.6 107.5l5.1 10.2h-10.2z"/><path d="M328.9 107.7l5.1 10.2h-10.2z"/><path d="M329.2 107.9l5.1 10.2h-10.2z"/><path d="M329.5 108.1l5.1 10.2h-10.2z"/><path d="M329.9 108.3l5.1 10.2h-10.2z"/><path d="M330.2 108.5l5.1 10.2h-10.2z"/><path d="M330.5 108.6l5.1 10.2h-10.2z"/><path d="M330.8 109.0l5.1 10.2h-10.2z"/><path d="M331.2 109.0l5.1 10.2h-10.2z"/><path d="M331.5 109.5l5.1 10.2h-10.2z"/><path d="M331.9 109.4l5.1 10.2h-10.2z"/><path d="M332.2 110.0l5.1 10.2h-10.2z"/><path d="M332.5 109.7l5.1 10.2h-10.2z"/><path d="M332.9 110.5l5.1 10.2h-10.2z"/><path d="M333.2 110.1l5.1 10.2h-10.2z"/><path d="M333.6 111.0l5.1 10.2h-10.2z"/><path d="M333.9 110.5l5.1 10.2h-10.2z"/><path d="M334.3 111.6l5.1 10.2h-10.2z"/><path d="M334.6 110.9l5.1 10.2h-10.2z"/><path d="M335.0 112.1l5.1 10.2h-10.2z"/><path d="M335.4 111.3l5.1 10.2h-10.2z"/><path d="M335.8 112.7l5.1 10.2h-10.2z"/><path d="M336.3 111.7l5.1 10.2h-10.2z"/><path d="M336.7 113.2l5.1 10.2h-10.2z"/><path d="M337.1 112.1l5.1 10.2h-10.2z"/><path d="M337.5 113.8l5.1 10.2h-10.2z"/><path d="M338.0 112.5l5.1 10.2h-10.2z"/><path d="M338.4 114.4l5.1 10.2h-10.2z"/><path d="M338.8 112.9l5.1 10.2h-10.2z"/><path d="M339.3 115.0l5.1 10.2h-10.2z"/><path d="M339.7 113.4l5.1 10.2h-10.2z"/><path d="M340.2 115.6l5.1 10.2h-10.2z"/><path d="M340.6 113.8l5.1 10.2h-10.2z"/><path d="M341.1 116.2l5.1 10.2h-10.2z"/><path d="M341.5 114.2l5.1 10.2h-10.2z"/><path d="M342.0 116.9l5.1 10.2h-10.2z"/><path d="M342.5 114.7l5.1 10.2h-10.2z"/><path d="M342.9 117.5l5.1 10.2h-10.2z"/><path d="M343.4 115.1l5.1 10.2h-10.2z"/><path d="M343.9 118.1l5.1 10.2h-10.2z"/><path d="M344.3 115.6l5.1 10.2h-10.2z"/><path d="M344.8 118.8l5.1 10.2h-10.2z"/><path d="M345.3 116.0l5.1 10.2h-10.2z"/><path d="M345.8 119.3l5.1 10.2h-10.2z"/><path d="M346.3 116.5l5.1 10.2h-10.2z"/><path d="M346.8 119.8l5.1 10.2h-10.2z"/><path d="M347.3 117.0l5.1 10.2h-10.2z"/><path d="M347.8 120.3l5.1 10.2h-10.2z"/><path d="M348.3 117.5l5.1 10.2h-10.2z"/><path d="M348.8 120.8l5.1 10.2h-10.2z"/><path d="M349.3 118.0l5.1 10.2h-10.2z"/><path d="M349.8 121.3l5.1 10.2h-10.2z"/><path d="M350.4 118.5l5.1 10.2h-10.2z"/><path d="M350.9 121.8l5.1 10.2h-10.2z"/><path d="M351.4 119.0l5.1 10.2h-10.2z"/><path d="M352.0 122.3l5.1 10.2h-10.2z"/><path d="M352.2 119.4l5.1 10.2h-10.2z"/><path d="M352.5 122.6l5.1 10.2h-10.2z"/><path d="M352.8 119.6l5.1 10.2h-10.2z"/><path d="M353.1 122.8l5.1 10.2h-10.2z"/><path d="M353.3 119.9l5.1 10.2h-10.2z"/><path d="M353.6 123.1l5.1 10.2h-10.2z"/><path d="M353.9 120.2l5.1 10.2h-10.2z"/><path d="M354.2 123.4l5.1 10.2h-10.2z"/><path d="M354.4 120.4l5.1 10.2h-10.2z"/><path d="M354.7 123.7l5.1 10.2h-10.2z"/><path d="M355.0 120.7l5.1 10.2h-10.2z"/><path d="M355.3 123.9l5.1 10.2h-10.2z"/><path d="M355.6 121.0l5.1 10.2h-10.2z"/><path d="M355.9 124.2l5.1 10.2h-10.2z"/><path d="M356.1 121.3l5.1 10.2h-10.2z"/><path d="M356.4 124.5l5.1 10.2h-10.2z"/><path d="M356.7 121.5l5.1 10.2h-10.2z"/><path d="M357.0 124.8l5.1 10.2h-10.2z"/><path d="M357.3 121.8l5.1 10.2h-10.2z"/><path d="M357.6 125.1l5.1 10.2h-10.2z"/><path d="M357.9 122.1l5.1 10.2h-10.2z"/><path d="M358.2 125.4l5.1 10.2h-10.2z"/><path d="M358.5 122.4l5.1 10.2h-10.2z"/><path d="M358.8 125.6l5.1 10.2h-10.2z"/><path d="M359.1 122.7l5.1 10.2h-10.2z"/><path d="M359.4 125.9l5.1 10.2h-10.2z"/><path d="M359.7 123.0l5.1 10.2h-10.2z"/><path d="M360.0 126.2l5.1 10.2h-10.2z"/><path d="M360.3 123.3l5.1 10.2h-10.2z"/><path d="M360.6 126.5l5.1 10.2h-10.2z"/><path d="M360.9 123.5l5.1 10.2h-10.2z"/><path d="M361.2 126.8l5.1 10.2h-10.2z"/><path d="M361.6 123.8l5.1 10.2h-10.2z"/><path d="M361.9 127.2l5.1 10.2h-10.2z"/><path d="M362.2 124.2l5.1 10.2h-10.2z"/><path d="M362.5 127.5l5.1 10.2h-10.2z"/><path d="M362.8 124.5l5.1 10.2h-10.2z"/><path d="M363.1 127.8l5.1 10.2h-10.2z"/><path d="M363.5 124.8l5.1 10.2h-10.2z"/><path d="M363.8 128.1l5.1 10.2h-10.2z"/><path d="M364.1 125.1l5.1 10.2h-10.2z"/><path d="M364.4 128.4l5.1 10.2h-10.2z"/><path d="M364.8 125.4l5.1 10.2h-10.2z"/><path d="M365.1 128.7l5.1 10.2h-10.2z"/><path d="M365.4 125.7l5.1 10.2h-10.2z"/><path d="M365.7 129.1l5.1 10.2h-10.2z"/><path d="M366.0 126.0l5.1 10.2h-10.2z"/><path d="M366.3 129.4l5.1 10.2h-10.2z"/><path d="M366.7 126.4l5.1 10.2h-10.2z"/><path d="M367.0 129.7l5.1 10.2h-10.2z"/><path d="M367.3 126.7l5.1 10.2h-10.2z"/><path d="M367.6 130.1l5.1 10.2h-10.2z"/><path d="M367.9 127.0l5.1 10.2h-10.2z"/><path d="M368.2 130.4l5.1 10.2h-10.2z"/><path d="M368.6 127.4l5.1 10.2h-10.2z"/><path d="M368.9 130.7l5.1 10.2h-10.2z"/><path d="M369.2 127.7l5.1 10.2h-10.2z"/><path d="M369.6 131.1l5.1 10.2h-10.2z"/><path d="M369.9 128.0l5.1 10.2h-10.2z"/><path d="M370.2 131.4l5.1 10.2h-10.2z"/><path d="M370.5 128.4l5.1 10.2h-10.2z"/><path d="M370.9 131.8l5.1 10.2h-10.2z"/><path d="M371.2 128.7l5.1 10.2h-10.2z"/><path d="M371.6 132.2l5.1 10.2h-10.2z"/><path d="M371.9 129.1l5.1 10.2h-10.2z"/><path d="M372.3 132.5l5.1 10.2h-10.2z"/><path d="M372.6 129.5l5.1 10.2h-10.2z"/><path d="M372.9 132.9l5.1 10.2h-10.2z"/><path d="M373.3 129.8l5.1 10.2h-10.2z"/><path d="M373.7 133.3l5.1 10.2h-10.2z"/><path d="M374.0 130.2l5.1 10.2h-10.2z"/><path d="M374.4 133.6l5.1 10.2h-10.2z"/><path d="M374.7 130.6l5.1 10.2h-10.2z"/><path d="M375.1 134.0l5.1 10.2h-10.2z"/><path d="M375.5 130.9l5.1 10.2h-10.2z"/><path d="M375.8 134.4l5.1 10.2h-10.2z"/><path d="M376.2 131.3l5.1 10.2h-10.2z"/><path d="M376.6 134.8l5.1 10.2h-10.2z"/><path d="M376.9 131.7l5.1 10.2h-10.2z"/><path d="M377.3 135.2l5.1 10.2h-10.2z"/><path d="M377.7 132.1l5.1 10.2h-10.2z"/><path d="M378.1 135.6l5.1 10.2h-10.2z"/><path d="M378.4 132.5l5.1 10.2h-10.2z"/><path d="M378.8 136.0l5.1 10.2h-10.2z"/><path d="M379.2 132.9l5.1 10.2h-10.2z"/><path d="M379.6 136.4l5.1 10.2h-10.2z"/><path d="M380.0 133.3l5.1 10.2h-10.2z"/><path d="M380.4 136.8l5.1 10.2h-10.2z"/><path d="M380.8 133.7l5.1 10.2h-10.2z"/><path d="M381.2 137.3l5.1 10.2h-10.2z"/><path d="M381.6 134.1l5.1 10.2h-10.2z"/><path d="M382.0 137.7l5.1 10.2h-10.2z"/><path d="M382.4 134.6l5.1 10.2h-10.2z"/><path d="M382.8 138.1l5.1 10.2h-10.2z"/><path d="M383.3 135.0l5.1 10.2h-10.2z"/><path d="M383.7 138.6l5.1 10.2h-10.2z"/><path d="M384.1 135.4l5.1 10.2h-10.2z"/><path d="M384.5 139.0l5.1 10.2h-10.2z"/><path d="M384.9 135.9l5.1 10.2h-10.2z"/><path d="M386.6 139.5l5.1 10.2h-10.2z"/><path d="M386.8 136.3l5.1 10.2h-10.2z"/><path d="M387.0 139.9l5.1 10.2h-10.2z"/><path d="M387.3 136.8l5.1 10.2h-10.2z"/><path d="M387.5 140.4l5.1 10.2h-10.2z"/><path d="M387.8 137.2l5.1 10.2h-10.2z"/><path d="M388.0 140.9l5.1 10.2h-10.2z"/><path d="M388.3 137.7l5.1 10.2h-10.2z"/><path d="M388.5 141.3l5.1 10.2h-10.2z"/><path d="M388.8 138.2l5.1 10.2h-10.2z"/><path d="M389.0 141.8l5.1 10.2h-10.2z"/><path d="M389.4 138.7l5.1 10.2h-10.2z"/><path d="M392.4 142.3l5.1 10.2h-10.2z"/><path d="M392.8 139.2l5.1 10.2h-10.2z"/><path d="M393.1 142.8l5.1 10.2h-10.2z"/><path d="M393.5 139.7l5.1 10.2h-10.2z"/><path d="M393.9 143.4l5.1 10.2h-10.2z"/><path d="M394.2 140.2l5.1 10.2h-10.2z"/><path d="M394.6 143.9l5.1 10.2h-10.2z"/><path d="M395.0 140.7l5.1 10.2h-10.2z"/><path d="M395.4 144.4l5.1 10.2h-10.2z"/><path d="M398.4 141.2l5.1 10.2h-10.2z"/><path d="M398.8 145.0l5.1 10.2h-10.2z"/><path d="M399.2 141.8l5.1 10.2h-10.2z"/><path d="M399.6 145.5l5.1 10.2h-10.2z"/><path d="M400.0 142.3l5.1 10.2h-10.2z"/><path d="M400.5 146.0l5.1 10.2h-10.2z"/><path d="M401.1 142.9l5.1 10.2h-10.2z"/><path d="M401.6 146.5l5.1 10.2h-10.2z"/><path d="M404.8 143.4l5.1 10.2h-10.2z"/><path d="M405.4 147.0l5.1 10.2h-10.2z"/><path d="M405.9 144.0l5.1 10.2h-10.2z"/><path d="M406.5 147.5l5.1 10.2h-10.2z"/><path d="M407.0 144.6l5.1 10.2h-10.2z"/><path d="M407.6 148.0l5.1 10.2h-10.2z"/><path d="M410.9 145.2l5.1 10.2h-10.2z"/><path d="M411.3 148.6l5.1 10.2h-10.2z"/><path d="M411.7 145.8l5.1 10.2h-10.2z"/><path d="M412.0 149.1l5.1 10.2h-10.2z"/><path d="M412.4 146.4l5.1 10.2h-10.2z"/><path d="M412.8 149.7l5.1 10.2h-10.2z"/><path d="M413.2 147.1l5.1 10.2h-10.2z"/><path d="M413.6 150.3l5.1 10.2h-10.2z"/><path d="M416.7 147.7l5.1 10.2h-10.2z"/><path d="M417.2 150.9l5.1 10.2h-10.2z"/><path d="M417.6 148.4l5.1 10.2h-10.2z"/><path d="M418.0 151.5l5.1 10.2h-10.2z"/><path d="M418.4 149.1l5.1 10.2h-10.2z"/><path d="M418.9 152.1l5.1 10.2h-10.2z"/><path d="M419.2 149.8l5.1 10.2h-10.2z"/><path d="M419.6 152.8l5.1 10.2h-10.2z"/><path d="M422.6 150.5l5.1 10.2h-10.2z"/><path d="M422.9 153.4l5.1 10.2h-10.2z"/><path d="M423.3 151.2l5.1 10.2h-10.2z"/><path d="M423.6 154.1l5.1 10.2h-10.2z"/><path d="M423.9 151.9l5.1 10.2h-10.2z"/><path d="M424.3 154.8l5.1 10.2h-10.2z"/><path d="M424.6 152.7l5.1 10.2h-10.2z"/><path d="M424.9 155.6l5.1 10.2h-10.2z"/><path d="M425.1 153.5l5.1 10.2h-10.2z"/><path d="M425.4 156.3l5.1 10.2h-10.2z"/><path d="M425.6 154.3l5.1 10.2h-10.2z"/><path d="M428.6 157.1l5.1 10.2h-10.2z"/><path d="M428.9 155.1l5.1 10.2h-10.2z"/><path d="M429.1 157.9l5.1 10.2h-10.2z"/><path d="M429.4 156.0l5.1 10.2h-10.2z"/><path d="M429.7 158.7l5.1 10.2h-10.2z"/><path d="M430.0 156.8l5.1 10.2h-10.2z"/><path d="M430.5 159.6l5.1 10.2h-10.2z"/><path d="M431.0 157.7l5.1 10.2h-10.2z"/><path d="M431.6 160.4l5.1 10.2h-10.2z"/><path d="M434.9 158.7l5.1 10.2h-10.2z"/><path d="M435.4 161.2l5.1 10.2h-10.2z"/><path d="M436.0 159.6l5.1 10.2h-10.2z"/><path d="M436.6 162.1l5.1 10.2h-10.2z"/><path d="M437.2 160.6l5.1 10.2h-10.2z"/><path d="M440.6 163.0l5.1 10.2h-10.2z"/><path d="M441.2 161.6l5.1 10.2h-10.2z"/><path d="M441.9 164.0l5.1 10.2h-10.2z"/><path d="M442.6 162.7l5.1 10.2h-10.2z"/><path d="M443.3 164.9l5.1 10.2h-10.2z"/><path d="M446.7 163.8l5.1 10.2h-10.2z"/><path d="M447.1 166.0l5.1 10.2h-10.2z"/><path d="M447.3 164.9l5.1 10.2h-10.2z"/><path d="M447.6 167.1l5.1 10.2h-10.2z"/><path d="M447.9 166.1l5.1 10.2h-10.2z"/><path d="M448.1 168.3l5.1 10.2h-10.2z"/><path d="M448.4 167.3l5.1 10.2h-10.2z"/><path d="M448.7 169.5l5.1 10.2h-10.2z"/><path d="M449.0 168.6l5.1 10.2h-10.2z"/><path d="M449.3 170.7l5.1 10.2h-10.2z"/><path d="M452.4 169.9l5.1 10.2h-10.2z"/><path d="M452.7 172.0l5.1 10.2h-10.2z"/><path d="M453.1 171.3l5.1 10.2h-10.2z"/><path d="M453.5 173.4l5.1 10.2h-10.2z"/><path d="M453.9 172.8l5.1 10.2h-10.2z"/><path d="M454.3 174.8l5.1 10.2h-10.2z"/><path d="M454.9 174.3l5.1 10.2h-10.2z"/><path d="M456.8 176.2l5.1 10.2h-10.2z"/><path d="M458.0 175.9l5.1 10.2h-10.2z"/><path d="M459.2 177.8l5.1 10.2h-10.2z"/><path d="M460.5 177.6l5.1 10.2h-10.2z"/><path d="M461.9 179.4l5.1 10.2h-10.2z"/><path d="M463.2 179.4l5.1 10.2h-10.2z"/><path d="M464.6 181.1l5.1 10.2h-10.2z"/><path d="M466.1 181.3l5.1 10.2h-10.2z"/><path d="M467.5 182.9l5.1 10.2h-10.2z"/><path d="M468.8 183.3l5.1 10.2h-10.2z"/><path d="M470.1 184.9l5.1 10.2h-10.2z"/><path d="M471.5 185.5l5.1 10.2h-10.2z"/><path d="M472.9 187.0l5.1 10.2h-10.2z"/><path d="M474.2 187.9l5.1 10.2h-10.2z"/><path d="M475.6 189.3l5.1 10.2h-10.2z"/><path d="M477.0 190.4l5.1 10.2h-10.2z"/><path d="M478.4 191.9l5.1 10.2h-10.2z"/><path d="M479.8 193.2l5.1 10.2h-10.2z"/><path d="M481.3 194.7l5.1 10.2h-10.2z"/><path d="M482.8 196.3l5.1 10.2h-10.2z"/><path d="M484.5 197.9l5.1 10.2h-10.2z"/><path d="M486.2 199.7l5.1 10.2h-10.2z"/><path d="M488.0 201.5l5.1 10.2h-10.2z"/><path d="M491.0 203.5l5.1 10.2h-10.2z"/><path d="M494.5 205.6l5.1 10.2h-10.2z"/><path d="M495.5 207.9l5.1 10.2h-10.2z"/><path d="M496.5 210.3l5.1 10.2h-10.2z"/><path d="M497.5 213.0l5.1 10.2h-10.2z"/><path d="M512.0 215.9l5.1 10.2h-10.2z"/><path d="M521.0 219.1l5.1 10.2h-10.2z"/><path d="M522.0 222.7l5.1 10.2h-10.2z"/><path d="M527.0 226.8l5.1 10.2h-10.2z"/><path d="M538.8 231.5l5.1 10.2h-10.2z"/><path d="M553.7 237.1l5.1 10.2h-10.2z"/><path d="M572.2 243.9l5.1 10.2h-10.2z"/><path d="M595.8 252.7l5.1 10.2h-10.2z"/><path d="M625.7 265.1l5.1 10.2h-10.2z"/><path d="M638.6 286.3l5.1 10.2h-10.2z"/></g>
<path d="M576.0 52.3l4.3 4.3l-4.3 4.3l-4.3 -4.3z" fill="#050c1d" stroke="#5b8fd0" stroke-width="0.8"/><path d="M570.2 73.8h10v10h-10z" fill="#c9504e" stroke="#c9504e" stroke-width="0.6"/><path d="M575.7 96.8l4.7 9.4h-9.4z" fill="#4e6b1f" stroke="#9bbb59" stroke-width="0.6"/>
<g fill="none" stroke="#000" stroke-linecap="butt" stroke-linejoin="miter"><path d="M406 111.2V126M399 120L406 127L413 120" stroke-width="2.3" stroke-linejoin="round"/><path d="M408.2 219V199M398.9 207.2L408.2 198.3L417.5 207.2" stroke-width="2.8" stroke-linejoin="round"/></g>
<text x="88.1" y="21.1" font-size="25" text-anchor="end">1</text>
<text x="87.2" y="90.7" font-size="25" text-anchor="end">0.1</text>
<text x="88.8" y="161.6" font-size="25" text-anchor="end">0.01</text>
<text x="90.5" y="231.8" font-size="25" text-anchor="end">0.001</text>
<text x="94.7" y="301.0" font-size="25" text-anchor="end">0.0001</text>
<text x="0" y="0" font-size="25" transform="translate(21.5,155.1) rotate(-90)" text-anchor="middle">CDF</text>
<text x="77.8" y="332.4" font-size="25">10</text>
<text x="102.1" y="323.6" font-size="18">24</text>
<text x="171.8" y="332.4" font-size="25">10</text>
<text x="196.1" y="323.6" font-size="18">25</text>
<text x="265.9" y="332.4" font-size="25">10</text>
<text x="290.2" y="323.6" font-size="18">26</text>
<text x="359.7" y="332.4" font-size="25">10</text>
<text x="384.0" y="323.6" font-size="18">27</text>
<text x="453.9" y="332.4" font-size="25">10</text>
<text x="478.2" y="323.6" font-size="18">28</text>
<text x="547.9" y="332.4" font-size="25">10</text>
<text x="572.2" y="323.6" font-size="18">29</text>
<text x="642.0" y="332.4" font-size="25">10</text>
<text x="666.3" y="323.6" font-size="18">30</text>
<text x="225.5" y="361.0" font-size="25" font-style="italic">M</text>
<text x="246.3" y="369.4" font-size="18">o</text>
<text x="255.6" y="361.0" font-size="25" textLength="281.2" lengthAdjust="spacing">, seismic moment in dyn cm</text>
<text x="246.5" y="22.4" font-size="25"><tspan font-style="italic">q</tspan>-describable statistics</text>
<text x="246.5" y="52.8" font-size="25" font-style="italic">q</text>
<path d="M264.9 43.85H277.9M264.9 48.7H277.9" stroke="#231f20" stroke-width="1.4"/>
<text x="282.7" y="52.8" font-size="25">1.6</text>
<text x="514.5" y="190.0" font-size="25"><tspan font-style="italic">r</tspan>-describable statistics</text>
<text x="395.0" y="253.7" font-size="25" font-style="italic">M</text>
<text x="415.5" y="262.0" font-size="17">c</text>
<text x="590.5" y="63.9" font-size="19.7">1981–1990</text>
<text x="590.5" y="85.9" font-size="19.7">1981–2004</text>
<text x="590.5" y="107.9" font-size="19.7">1981–2011</text>
</svg>
</body></html>
